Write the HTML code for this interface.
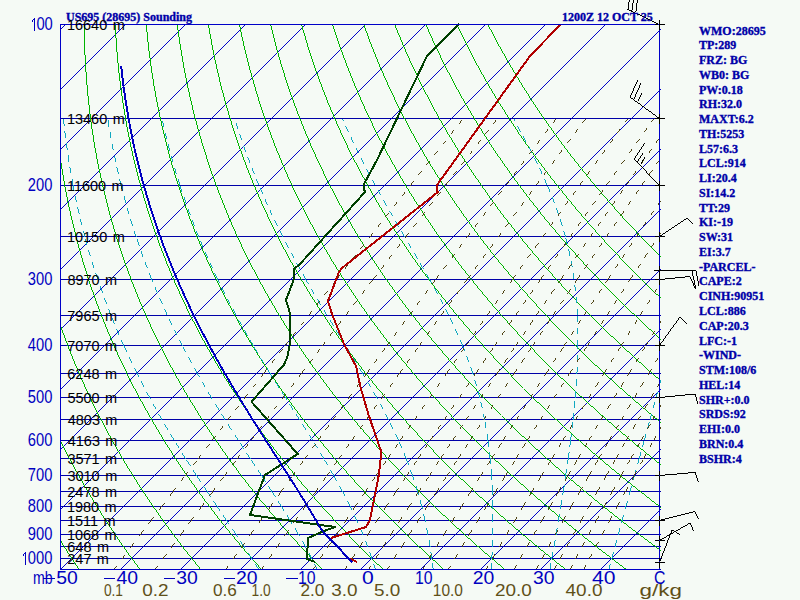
<!DOCTYPE html>
<html><head><meta charset="utf-8"><style>
html,body{margin:0;padding:0;background:#F5FAF5;}
svg{display:block}
.hl{font-family:"Liberation Sans",sans-serif;font-size:14.5px;fill:#000}
.pl{font-family:"Liberation Sans",sans-serif;font-size:18.4px;fill:#0000C0}
.bl{font-family:"Liberation Sans",sans-serif;fill:#0000C0}
.ml{font-family:"Liberation Sans",sans-serif;fill:#605018}
.rt{font-family:"Liberation Serif",serif;font-weight:bold;font-size:12px;fill:#0000A8;stroke:#0000A8;stroke-width:0.35px}
</style></head><body>
<svg width="800" height="600" viewBox="0 0 800 600" shape-rendering="crispEdges">
<rect width="800" height="600" fill="#F5FAF5"/>
<defs><clipPath id="bx"><rect x="60" y="24" width="601" height="546"/></clipPath></defs><g clip-path="url(#bx)"><path d="M-600 569.5L-599 569.5L-54 24.5L-55 24.5ZM-540 569.5L-539 569.5L6 24.5L5 24.5ZM-480 569.5L-479 569.5L66 24.5L65 24.5ZM-420 569.5L-419 569.5L126 24.5L125 24.5ZM-360 569.5L-359 569.5L186 24.5L185 24.5ZM-300 569.5L-299 569.5L246 24.5L245 24.5ZM-240 569.5L-239 569.5L306 24.5L305 24.5ZM-180 569.5L-179 569.5L366 24.5L365 24.5ZM-120 569.5L-119 569.5L426 24.5L425 24.5ZM-60 569.5L-59 569.5L486 24.5L485 24.5ZM0 569.5L1 569.5L546 24.5L545 24.5ZM60 569.5L61 569.5L606 24.5L605 24.5ZM120 569.5L121 569.5L666 24.5L665 24.5ZM180 569.5L181 569.5L726 24.5L725 24.5ZM240 569.5L241 569.5L786 24.5L785 24.5ZM300 569.5L301 569.5L846 24.5L845 24.5ZM360 569.5L361 569.5L906 24.5L905 24.5ZM420 569.5L421 569.5L966 24.5L965 24.5ZM480 569.5L481 569.5L1026 24.5L1025 24.5ZM540.5 569L540.5 570L1085.5 25L1085.5 24ZM600.5 569L600.5 570L1145.5 25L1145.5 24ZM660.5 569L660.5 570L1205.5 25L1205.5 24Z" fill="#0000C8"/></g><path d="M60 24.5H661M60 118.5H661M60 185.5H661M60 236.5H661M60 279.5H661M60 315.5H661M60 345.5H661M60 373.5H661M60 397.5H661M60 419.5H661M60 440.5H661M60 458.5H661M60 475.5H661M60 491.5H661M60 506.5H661M60 520.5H661M60 534.5H661M60 546.5H661M60 558.5H661M60 569.5H661" stroke="#0000A8" stroke-width="1" fill="none" shape-rendering="crispEdges"/><g clip-path="url(#bx)"><path d="M78.8 569.8L79.8 569.8L78.3 567.6L77.3 567.6ZM77.3 567.6L78.3 567.6L76.8 565.3L75.8 565.3ZM75.8 565.3L76.8 565.3L75.3 563.1L74.3 563.1ZM74.3 563.1L75.3 563.1L73.8 560.8L72.8 560.8ZM72.8 560.8L73.8 560.8L72.3 558.5L71.3 558.5ZM71.3 558.5L72.3 558.5L70.8 556.1L69.8 556.1ZM69.8 556.1L70.8 556.1L69.3 553.8L68.3 553.8ZM68.3 553.8L69.3 553.8L67.8 551.4L66.8 551.4ZM66.8 551.4L67.8 551.4L66.3 549L65.3 549ZM65.3 549L66.3 549L64.7 546.6L63.7 546.6ZM63.7 546.6L64.7 546.6L63.2 544.1L62.2 544.1ZM62.2 544.1L63.2 544.1L61.7 541.6L60.7 541.6ZM60.7 541.6L61.7 541.6L60.1 539.1L59.1 539.1ZM59.1 539.1L60.1 539.1L58.6 536.6L57.6 536.6ZM57.6 536.6L58.6 536.6L57 534L56 534ZM56 534L57 534L55.5 531.4L54.5 531.4ZM54.5 531.4L55.5 531.4L53.9 528.8L52.9 528.8ZM52.9 528.8L53.9 528.8L52.3 526.2L51.3 526.2ZM51.3 526.2L52.3 526.2L50.8 523.5L49.8 523.5ZM49.8 523.5L50.8 523.5L49.2 520.8L48.2 520.8ZM48.2 520.8L49.2 520.8L47.6 518L46.6 518ZM46.6 518L47.6 518L46.1 515.3L45.1 515.3ZM45.1 515.3L46.1 515.3L44.5 512.4L43.5 512.4ZM43.5 512.4L44.5 512.4L42.9 509.6L41.9 509.6ZM41.9 509.6L42.9 509.6L41.3 506.7L40.3 506.7ZM40.3 506.7L41.3 506.7L39.7 503.8L38.7 503.8ZM38.7 503.8L39.7 503.8L38.1 500.9L37.1 500.9ZM37.1 500.9L38.1 500.9L36.5 497.9L35.5 497.9ZM35.5 497.9L36.5 497.9L34.9 494.8L33.9 494.8ZM33.9 494.8L34.9 494.8L33.3 491.8L32.3 491.8ZM32.3 491.8L33.3 491.8L31.7 488.6L30.7 488.6ZM30.7 488.6L31.7 488.6L30.1 485.5L29.1 485.5ZM29.1 485.5L30.1 485.5L28.4 482.3L27.4 482.3ZM27.4 482.3L28.4 482.3L26.8 479L25.8 479ZM25.8 479L26.8 479L25.2 475.8L24.2 475.8ZM24.2 475.8L25.2 475.8L23.6 472.4L22.6 472.4ZM22.6 472.4L23.6 472.4L21.9 469L20.9 469ZM20.9 469L21.9 469L20.3 465.6L19.3 465.6ZM19.3 465.6L20.3 465.6L18.7 462.1L17.7 462.1ZM17.7 462.1L18.7 462.1L17 458.6L16 458.6ZM16 458.6L17 458.6L15.4 455L14.4 455ZM14.4 455L15.4 455L13.7 451.3L12.7 451.3ZM12.7 451.3L13.7 451.3L12.1 447.6L11.1 447.6ZM11.1 447.6L12.1 447.6L10.4 443.8L9.4 443.8ZM9.4 443.8L10.4 443.8L8.8 440L7.8 440ZM7.8 440L8.8 440L7.2 436.1L6.2 436.1ZM6.2 436.1L7.2 436.1L5.5 432.1L4.5 432.1ZM4.5 432.1L5.5 432.1L3.8 428.1L2.8 428.1ZM2.8 428.1L3.8 428.1L2.2 424L1.2 424ZM1.2 424L2.2 424L0.5 419.8L-0.5 419.8ZM-0.5 419.8L0.5 419.8L-1.1 415.6L-2.1 415.6ZM-2.1 415.6L-1.1 415.6L-2.8 411.2L-3.8 411.2ZM-3.8 411.2L-2.8 411.2L-4.4 406.8L-5.4 406.8ZM-5.4 406.8L-4.4 406.8L-6.1 402.3L-7.1 402.3ZM-7.1 402.3L-6.1 402.3L-7.7 397.7L-8.7 397.7ZM-8.7 397.7L-7.7 397.7L-9.3 393L-10.3 393ZM-10.3 393L-9.3 393L-11 388.3L-12 388.3ZM-12 388.3L-11 388.3L-12.6 383.4L-13.6 383.4ZM-13.6 383.4L-12.6 383.4L-14.2 378.4L-15.2 378.4ZM-15.2 378.4L-14.2 378.4L-15.9 373.3L-16.9 373.3ZM-16.9 373.3L-15.9 373.3L-17.5 368.1L-18.5 368.1ZM-18.5 368.1L-17.5 368.1L-19.1 362.8L-20.1 362.8ZM-20.1 362.8L-19.1 362.8L-20.7 357.3L-21.7 357.3ZM-21.7 357.3L-20.7 357.3L-22.3 351.7L-23.3 351.7ZM-23.3 351.7L-22.3 351.7L-23.8 346L-24.8 346ZM-24.8 346L-23.8 346L-25.4 340.1L-26.4 340.1ZM-26.4 340.1L-25.4 340.1L-27 334.1L-28 334.1ZM-28 334.1L-27 334.1L-28.5 327.9L-29.5 327.9ZM-29.5 327.9L-28.5 327.9L-30 321.5L-31 321.5ZM-31 321.5L-30 321.5L-31.5 315L-32.5 315ZM-32.5 315L-31.5 315L-32.9 308.3L-33.9 308.3ZM-33.9 308.3L-32.9 308.3L-34.4 301.4L-35.4 301.4ZM-35.4 301.4L-34.4 301.4L-35.8 294.2L-36.8 294.2ZM-36.8 294.2L-35.8 294.2L-37.2 286.9L-38.2 286.9ZM-38.2 286.9L-37.2 286.9L-38.5 279.3L-39.5 279.3ZM-39.5 279.3L-38.5 279.3L-39.8 271.4L-40.8 271.4ZM-40.8 271.4L-39.8 271.4L-41 263.3L-42 263.3ZM-42 263.3L-41 263.3L-42.2 254.8L-43.2 254.8ZM-43.2 254.8L-42.2 254.8L-43.4 246.1L-44.4 246.1ZM-44.4 246.1L-43.4 246.1L-44.4 237L-45.4 237ZM-45.4 237L-44.4 237L-45.4 227.5L-46.4 227.5ZM-46.4 227.5L-45.4 227.5L-46.3 217.7L-47.3 217.7ZM-47.3 217.7L-46.3 217.7L-47.1 207.3L-48.1 207.3ZM-48.1 207.3L-47.1 207.3L-47.8 196.6L-48.8 196.6ZM-48.8 196.6L-47.8 196.6L-48.4 185.2L-49.4 185.2ZM-49.4 185.2L-48.4 185.2L-48.8 173.3L-49.8 173.3ZM-49.8 173.3L-48.8 173.3L-49 160.8L-50 160.8ZM-50 160.8L-49 160.8L-49.1 147.6L-50.1 147.6ZM-50.1 147.6L-49.1 147.6L-48.9 133.5L-49.9 133.5ZM-49.9 133.5L-48.9 133.5L-48.4 118.5L-49.4 118.5ZM-49.4 118.5L-48.4 118.5L-47.6 102.5L-48.6 102.5ZM-48.6 102.5L-47.6 102.5L-46.4 85.3L-47.4 85.3ZM-47.4 85.3L-46.4 85.3L-44.8 66.8L-45.8 66.8ZM-45.8 66.8L-44.8 66.8L-42.5 46.6L-43.5 46.6ZM-43.5 46.6L-42.5 46.6L-39.6 24.5L-40.6 24.5ZM139.7 569.8L140.7 569.8L139 567.6L138 567.6ZM138 567.6L139 567.6L137.4 565.3L136.4 565.3ZM136.4 565.3L137.4 565.3L135.7 563.1L134.7 563.1ZM134.7 563.1L135.7 563.1L134 560.8L133 560.8ZM133 560.8L134 560.8L132.3 558.5L131.3 558.5ZM131.3 558.5L132.3 558.5L130.6 556.1L129.6 556.1ZM129.6 556.1L130.6 556.1L129 553.8L128 553.8ZM128 553.8L129 553.8L127.3 551.4L126.3 551.4ZM126.3 551.4L127.3 551.4L125.6 549L124.6 549ZM124.6 549L125.6 549L123.9 546.6L122.9 546.6ZM122.9 546.6L123.9 546.6L122.1 544.1L121.1 544.1ZM121.1 544.1L122.1 544.1L120.4 541.6L119.4 541.6ZM119.4 541.6L120.4 541.6L118.7 539.1L117.7 539.1ZM117.7 539.1L118.7 539.1L117 536.6L116 536.6ZM116 536.6L117 536.6L115.2 534L114.2 534ZM114.2 534L115.2 534L113.5 531.4L112.5 531.4ZM112.5 531.4L113.5 531.4L111.8 528.8L110.8 528.8ZM110.8 528.8L111.8 528.8L110 526.2L109 526.2ZM109 526.2L110 526.2L108.2 523.5L107.2 523.5ZM107.2 523.5L108.2 523.5L106.5 520.8L105.5 520.8ZM105.5 520.8L106.5 520.8L104.7 518L103.7 518ZM103.7 518L104.7 518L102.9 515.3L101.9 515.3ZM101.9 515.3L102.9 515.3L101.2 512.4L100.2 512.4ZM100.2 512.4L101.2 512.4L99.4 509.6L98.4 509.6ZM98.4 509.6L99.4 509.6L97.6 506.7L96.6 506.7ZM96.6 506.7L97.6 506.7L95.8 503.8L94.8 503.8ZM94.8 503.8L95.8 503.8L94 500.9L93 500.9ZM93 500.9L94 500.9L92.2 497.9L91.2 497.9ZM91.2 497.9L92.2 497.9L90.4 494.8L89.4 494.8ZM89.4 494.8L90.4 494.8L88.6 491.8L87.6 491.8ZM87.6 491.8L88.6 491.8L86.7 488.6L85.7 488.6ZM85.7 488.6L86.7 488.6L84.9 485.5L83.9 485.5ZM83.9 485.5L84.9 485.5L83.1 482.3L82.1 482.3ZM82.1 482.3L83.1 482.3L81.2 479L80.2 479ZM80.2 479L81.2 479L79.4 475.8L78.4 475.8ZM78.4 475.8L79.4 475.8L77.5 472.4L76.5 472.4ZM76.5 472.4L77.5 472.4L75.7 469L74.7 469ZM74.7 469L75.7 469L73.8 465.6L72.8 465.6ZM72.8 465.6L73.8 465.6L71.9 462.1L70.9 462.1ZM70.9 462.1L71.9 462.1L70.1 458.6L69.1 458.6ZM69.1 458.6L70.1 458.6L68.2 455L67.2 455ZM67.2 455L68.2 455L66.3 451.3L65.3 451.3ZM65.3 451.3L66.3 451.3L64.4 447.6L63.4 447.6ZM63.4 447.6L64.4 447.6L62.5 443.8L61.5 443.8ZM61.5 443.8L62.5 443.8L60.6 440L59.6 440ZM59.6 440L60.6 440L58.7 436.1L57.7 436.1ZM57.7 436.1L58.7 436.1L56.8 432.1L55.8 432.1ZM55.8 432.1L56.8 432.1L54.9 428.1L53.9 428.1ZM53.9 428.1L54.9 428.1L53 424L52 424ZM52 424L53 424L51.1 419.8L50.1 419.8ZM50.1 419.8L51.1 419.8L49.2 415.6L48.2 415.6ZM48.2 415.6L49.2 415.6L47.3 411.2L46.3 411.2ZM46.3 411.2L47.3 411.2L45.4 406.8L44.4 406.8ZM44.4 406.8L45.4 406.8L43.4 402.3L42.4 402.3ZM42.4 402.3L43.4 402.3L41.5 397.7L40.5 397.7ZM40.5 397.7L41.5 397.7L39.6 393L38.6 393ZM38.6 393L39.6 393L37.7 388.3L36.7 388.3ZM36.7 388.3L37.7 388.3L35.7 383.4L34.7 383.4ZM34.7 383.4L35.7 383.4L33.8 378.4L32.8 378.4ZM32.8 378.4L33.8 378.4L31.9 373.3L30.9 373.3ZM30.9 373.3L31.9 373.3L30 368.1L29 368.1ZM29 368.1L30 368.1L28 362.8L27 362.8ZM27 362.8L28 362.8L26.1 357.3L25.1 357.3ZM25.1 357.3L26.1 357.3L24.2 351.7L23.2 351.7ZM23.2 351.7L24.2 351.7L22.3 346L21.3 346ZM21.3 346L22.3 346L20.4 340.1L19.4 340.1ZM19.4 340.1L20.4 340.1L18.5 334.1L17.5 334.1ZM17.5 334.1L18.5 334.1L16.7 327.9L15.7 327.9ZM15.7 327.9L16.7 327.9L14.8 321.5L13.8 321.5ZM13.8 321.5L14.8 321.5L13 315L12 315ZM12 315L13 315L11.1 308.3L10.1 308.3ZM10.1 308.3L11.1 308.3L9.3 301.4L8.3 301.4ZM8.3 301.4L9.3 301.4L7.5 294.2L6.5 294.2ZM6.5 294.2L7.5 294.2L5.8 286.9L4.8 286.9ZM4.8 286.9L5.8 286.9L4 279.3L3 279.3ZM3 279.3L4 279.3L2.3 271.4L1.3 271.4ZM1.3 271.4L2.3 271.4L0.6 263.3L-0.4 263.3ZM-0.4 263.3L0.6 263.3L-1 254.8L-2 254.8ZM-2 254.8L-1 254.8L-2.6 246.1L-3.6 246.1ZM-3.6 246.1L-2.6 246.1L-4.1 237L-5.1 237ZM-5.1 237L-4.1 237L-5.5 227.5L-6.5 227.5ZM-6.5 227.5L-5.5 227.5L-6.9 217.7L-7.9 217.7ZM-7.9 217.7L-6.9 217.7L-8.2 207.3L-9.2 207.3ZM-9.2 207.3L-8.2 207.3L-9.4 196.6L-10.4 196.6ZM-10.4 196.6L-9.4 196.6L-10.5 185.2L-11.5 185.2ZM-11.5 185.2L-10.5 185.2L-11.5 173.3L-12.5 173.3ZM-12.5 173.3L-11.5 173.3L-12.3 160.8L-13.3 160.8ZM-13.3 160.8L-12.3 160.8L-12.9 147.6L-13.9 147.6ZM-13.9 147.6L-12.9 147.6L-13.3 133.5L-14.3 133.5ZM-14.3 133.5L-13.3 133.5L-13.5 118.5L-14.5 118.5ZM-14.5 118.5L-13.5 118.5L-13.4 102.5L-14.4 102.5ZM-14.4 102.5L-13.4 102.5L-12.9 85.3L-13.9 85.3ZM-13.9 85.3L-12.9 85.3L-12 66.8L-13 66.8ZM-13 66.8L-12 66.8L-10.6 46.6L-11.6 46.6ZM-11.6 46.6L-10.6 46.6L-8.5 24.5L-9.5 24.5ZM200.5 569.8L201.5 569.8L199.7 567.6L198.7 567.6ZM198.7 567.6L199.7 567.6L197.9 565.3L196.9 565.3ZM196.9 565.3L197.9 565.3L196 563.1L195 563.1ZM195 563.1L196 563.1L194.2 560.8L193.2 560.8ZM193.2 560.8L194.2 560.8L192.3 558.5L191.3 558.5ZM191.3 558.5L192.3 558.5L190.5 556.1L189.5 556.1ZM189.5 556.1L190.5 556.1L188.6 553.8L187.6 553.8ZM187.6 553.8L188.6 553.8L186.7 551.4L185.7 551.4ZM185.7 551.4L186.7 551.4L184.9 549L183.9 549ZM183.9 549L184.9 549L183 546.6L182 546.6ZM182 546.6L183 546.6L181.1 544.1L180.1 544.1ZM180.1 544.1L181.1 544.1L179.2 541.6L178.2 541.6ZM178.2 541.6L179.2 541.6L177.3 539.1L176.3 539.1ZM176.3 539.1L177.3 539.1L175.4 536.6L174.4 536.6ZM174.4 536.6L175.4 536.6L173.5 534L172.5 534ZM172.5 534L173.5 534L171.5 531.4L170.5 531.4ZM170.5 531.4L171.5 531.4L169.6 528.8L168.6 528.8ZM168.6 528.8L169.6 528.8L167.7 526.2L166.7 526.2ZM166.7 526.2L167.7 526.2L165.7 523.5L164.7 523.5ZM164.7 523.5L165.7 523.5L163.8 520.8L162.8 520.8ZM162.8 520.8L163.8 520.8L161.8 518L160.8 518ZM160.8 518L161.8 518L159.8 515.3L158.8 515.3ZM158.8 515.3L159.8 515.3L157.9 512.4L156.9 512.4ZM156.9 512.4L157.9 512.4L155.9 509.6L154.9 509.6ZM154.9 509.6L155.9 509.6L153.9 506.7L152.9 506.7ZM152.9 506.7L153.9 506.7L151.9 503.8L150.9 503.8ZM150.9 503.8L151.9 503.8L149.9 500.9L148.9 500.9ZM148.9 500.9L149.9 500.9L147.9 497.9L146.9 497.9ZM146.9 497.9L147.9 497.9L145.8 494.8L144.8 494.8ZM144.8 494.8L145.8 494.8L143.8 491.8L142.8 491.8ZM142.8 491.8L143.8 491.8L141.8 488.6L140.8 488.6ZM140.8 488.6L141.8 488.6L139.7 485.5L138.7 485.5ZM138.7 485.5L139.7 485.5L137.7 482.3L136.7 482.3ZM136.7 482.3L137.7 482.3L135.6 479L134.6 479ZM134.6 479L135.6 479L133.6 475.8L132.6 475.8ZM132.6 475.8L133.6 475.8L131.5 472.4L130.5 472.4ZM130.5 472.4L131.5 472.4L129.4 469L128.4 469ZM128.4 469L129.4 469L127.3 465.6L126.3 465.6ZM126.3 465.6L127.3 465.6L125.2 462.1L124.2 462.1ZM124.2 462.1L125.2 462.1L123.1 458.6L122.1 458.6ZM122.1 458.6L123.1 458.6L121 455L120 455ZM120 455L121 455L118.9 451.3L117.9 451.3ZM117.9 451.3L118.9 451.3L116.8 447.6L115.8 447.6ZM115.8 447.6L116.8 447.6L114.6 443.8L113.6 443.8ZM113.6 443.8L114.6 443.8L112.5 440L111.5 440ZM111.5 440L112.5 440L110.3 436.1L109.3 436.1ZM109.3 436.1L110.3 436.1L108.2 432.1L107.2 432.1ZM107.2 432.1L108.2 432.1L106 428.1L105 428.1ZM105 428.1L106 428.1L103.9 424L102.9 424ZM102.9 424L103.9 424L101.7 419.8L100.7 419.8ZM100.7 419.8L101.7 419.8L99.5 415.6L98.5 415.6ZM98.5 415.6L99.5 415.6L97.3 411.2L96.3 411.2ZM96.3 411.2L97.3 411.2L95.1 406.8L94.1 406.8ZM94.1 406.8L95.1 406.8L92.9 402.3L91.9 402.3ZM91.9 402.3L92.9 402.3L90.7 397.7L89.7 397.7ZM89.7 397.7L90.7 397.7L88.5 393L87.5 393ZM87.5 393L88.5 393L86.3 388.3L85.3 388.3ZM85.3 388.3L86.3 388.3L84.1 383.4L83.1 383.4ZM83.1 383.4L84.1 383.4L81.9 378.4L80.9 378.4ZM80.9 378.4L81.9 378.4L79.6 373.3L78.6 373.3ZM78.6 373.3L79.6 373.3L77.4 368.1L76.4 368.1ZM76.4 368.1L77.4 368.1L75.2 362.8L74.2 362.8ZM74.2 362.8L75.2 362.8L73 357.3L72 357.3ZM72 357.3L73 357.3L70.7 351.7L69.7 351.7ZM69.7 351.7L70.7 351.7L68.5 346L67.5 346ZM67.5 346L68.5 346L66.3 340.1L65.3 340.1ZM65.3 340.1L66.3 340.1L64 334.1L63 334.1ZM63 334.1L64 334.1L61.8 327.9L60.8 327.9ZM60.8 327.9L61.8 327.9L59.6 321.5L58.6 321.5ZM58.6 321.5L59.6 321.5L57.4 315L56.4 315ZM56.4 315L57.4 315L55.2 308.3L54.2 308.3ZM54.2 308.3L55.2 308.3L53 301.4L52 301.4ZM52 301.4L53 301.4L50.8 294.2L49.8 294.2ZM49.8 294.2L50.8 294.2L48.7 286.9L47.7 286.9ZM47.7 286.9L48.7 286.9L46.5 279.3L45.5 279.3ZM45.5 279.3L46.5 279.3L44.4 271.4L43.4 271.4ZM43.4 271.4L44.4 271.4L42.3 263.3L41.3 263.3ZM41.3 263.3L42.3 263.3L40.3 254.8L39.3 254.8ZM39.3 254.8L40.3 254.8L38.3 246.1L37.3 246.1ZM37.3 246.1L38.3 246.1L36.3 237L35.3 237ZM35.3 237L36.3 237L34.4 227.5L33.4 227.5ZM33.4 227.5L34.4 227.5L32.5 217.7L31.5 217.7ZM31.5 217.7L32.5 217.7L30.7 207.3L29.7 207.3ZM29.7 207.3L30.7 207.3L29 196.6L28 196.6ZM28 196.6L29 196.6L27.4 185.2L26.4 185.2ZM26.4 185.2L27.4 185.2L25.9 173.3L24.9 173.3ZM24.9 173.3L25.9 173.3L24.5 160.8L23.5 160.8ZM23.5 160.8L24.5 160.8L23.2 147.6L22.2 147.6ZM22.2 147.6L23.2 147.6L22.2 133.5L21.2 133.5ZM21.2 133.5L22.2 133.5L21.4 118.5L20.4 118.5ZM20.4 118.5L21.4 118.5L20.8 102.5L19.8 102.5ZM19.8 102.5L20.8 102.5L20.5 85.3L19.5 85.3ZM19.5 85.3L20.5 85.3L20.7 66.8L19.7 66.8ZM19.7 66.8L20.7 66.8L21.3 46.6L20.3 46.6ZM20.3 46.6L21.3 46.6L22.5 24.5L21.5 24.5ZM261.4 569.8L262.4 569.8L260.4 567.6L259.4 567.6ZM259.4 567.6L260.4 567.6L258.4 565.3L257.4 565.3ZM257.4 565.3L258.4 565.3L256.4 563.1L255.4 563.1ZM255.4 563.1L256.4 563.1L254.4 560.8L253.4 560.8ZM253.4 560.8L254.4 560.8L252.3 558.5L251.3 558.5ZM251.3 558.5L252.3 558.5L250.3 556.1L249.3 556.1ZM249.3 556.1L250.3 556.1L248.3 553.8L247.3 553.8ZM247.3 553.8L248.3 553.8L246.2 551.4L245.2 551.4ZM245.2 551.4L246.2 551.4L244.2 549L243.2 549ZM243.2 549L244.2 549L242.1 546.6L241.1 546.6ZM241.1 546.6L242.1 546.6L240 544.1L239 544.1ZM239 544.1L240 544.1L238 541.6L237 541.6ZM237 541.6L238 541.6L235.9 539.1L234.9 539.1ZM234.9 539.1L235.9 539.1L233.8 536.6L232.8 536.6ZM232.8 536.6L233.8 536.6L231.7 534L230.7 534ZM230.7 534L231.7 534L229.6 531.4L228.6 531.4ZM228.6 531.4L229.6 531.4L227.4 528.8L226.4 528.8ZM226.4 528.8L227.4 528.8L225.3 526.2L224.3 526.2ZM224.3 526.2L225.3 526.2L223.2 523.5L222.2 523.5ZM222.2 523.5L223.2 523.5L221 520.8L220 520.8ZM220 520.8L221 520.8L218.9 518L217.9 518ZM217.9 518L218.9 518L216.7 515.3L215.7 515.3ZM215.7 515.3L216.7 515.3L214.5 512.4L213.5 512.4ZM213.5 512.4L214.5 512.4L212.4 509.6L211.4 509.6ZM211.4 509.6L212.4 509.6L210.2 506.7L209.2 506.7ZM209.2 506.7L210.2 506.7L208 503.8L207 503.8ZM207 503.8L208 503.8L205.8 500.9L204.8 500.9ZM204.8 500.9L205.8 500.9L203.5 497.9L202.5 497.9ZM202.5 497.9L203.5 497.9L201.3 494.8L200.3 494.8ZM200.3 494.8L201.3 494.8L199.1 491.8L198.1 491.8ZM198.1 491.8L199.1 491.8L196.8 488.6L195.8 488.6ZM195.8 488.6L196.8 488.6L194.6 485.5L193.6 485.5ZM193.6 485.5L194.6 485.5L192.3 482.3L191.3 482.3ZM191.3 482.3L192.3 482.3L190 479L189 479ZM189 479L190 479L187.7 475.8L186.7 475.8ZM186.7 475.8L187.7 475.8L185.4 472.4L184.4 472.4ZM184.4 472.4L185.4 472.4L183.1 469L182.1 469ZM182.1 469L183.1 469L180.8 465.6L179.8 465.6ZM179.8 465.6L180.8 465.6L178.5 462.1L177.5 462.1ZM177.5 462.1L178.5 462.1L176.2 458.6L175.2 458.6ZM175.2 458.6L176.2 458.6L173.8 455L172.8 455ZM172.8 455L173.8 455L171.5 451.3L170.5 451.3ZM170.5 451.3L171.5 451.3L169.1 447.6L168.1 447.6ZM168.1 447.6L169.1 447.6L166.7 443.8L165.7 443.8ZM165.7 443.8L166.7 443.8L164.3 440L163.3 440ZM163.3 440L164.3 440L161.9 436.1L160.9 436.1ZM160.9 436.1L161.9 436.1L159.5 432.1L158.5 432.1ZM158.5 432.1L159.5 432.1L157.1 428.1L156.1 428.1ZM156.1 428.1L157.1 428.1L154.7 424L153.7 424ZM153.7 424L154.7 424L152.3 419.8L151.3 419.8ZM151.3 419.8L152.3 419.8L149.8 415.6L148.8 415.6ZM148.8 415.6L149.8 415.6L147.4 411.2L146.4 411.2ZM146.4 411.2L147.4 411.2L144.9 406.8L143.9 406.8ZM143.9 406.8L144.9 406.8L142.4 402.3L141.4 402.3ZM141.4 402.3L142.4 402.3L139.9 397.7L138.9 397.7ZM138.9 397.7L139.9 397.7L137.4 393L136.4 393ZM136.4 393L137.4 393L134.9 388.3L133.9 388.3ZM133.9 388.3L134.9 388.3L132.4 383.4L131.4 383.4ZM131.4 383.4L132.4 383.4L129.9 378.4L128.9 378.4ZM128.9 378.4L129.9 378.4L127.4 373.3L126.4 373.3ZM126.4 373.3L127.4 373.3L124.9 368.1L123.9 368.1ZM123.9 368.1L124.9 368.1L122.3 362.8L121.3 362.8ZM121.3 362.8L122.3 362.8L119.8 357.3L118.8 357.3ZM118.8 357.3L119.8 357.3L117.2 351.7L116.2 351.7ZM116.2 351.7L117.2 351.7L114.7 346L113.7 346ZM113.7 346L114.7 346L112.1 340.1L111.1 340.1ZM111.1 340.1L112.1 340.1L109.5 334.1L108.5 334.1ZM108.5 334.1L109.5 334.1L107 327.9L106 327.9ZM106 327.9L107 327.9L104.4 321.5L103.4 321.5ZM103.4 321.5L104.4 321.5L101.8 315L100.8 315ZM100.8 315L101.8 315L99.3 308.3L98.3 308.3ZM98.3 308.3L99.3 308.3L96.7 301.4L95.7 301.4ZM95.7 301.4L96.7 301.4L94.1 294.2L93.1 294.2ZM93.1 294.2L94.1 294.2L91.6 286.9L90.6 286.9ZM90.6 286.9L91.6 286.9L89.1 279.3L88.1 279.3ZM88.1 279.3L89.1 279.3L86.5 271.4L85.5 271.4ZM85.5 271.4L86.5 271.4L84 263.3L83 263.3ZM83 263.3L84 263.3L81.5 254.8L80.5 254.8ZM80.5 254.8L81.5 254.8L79.1 246.1L78.1 246.1ZM78.1 246.1L79.1 246.1L76.7 237L75.7 237ZM75.7 237L76.7 237L74.3 227.5L73.3 227.5ZM73.3 227.5L74.3 227.5L71.9 217.7L70.9 217.7ZM70.9 217.7L71.9 217.7L69.6 207.3L68.6 207.3ZM68.6 207.3L69.6 207.3L67.4 196.6L66.4 196.6ZM66.4 196.6L67.4 196.6L65.2 185.2L64.2 185.2ZM64.2 185.2L65.2 185.2L63.2 173.3L62.2 173.3ZM62.2 173.3L63.2 173.3L61.2 160.8L60.2 160.8ZM60.2 160.8L61.2 160.8L59.4 147.6L58.4 147.6ZM58.4 147.6L59.4 147.6L57.7 133.5L56.7 133.5ZM56.7 133.5L57.7 133.5L56.2 118.5L55.2 118.5ZM55.2 118.5L56.2 118.5L55 102.5L54 102.5ZM54 102.5L55 102.5L54 85.3L53 85.3ZM53 85.3L54 85.3L53.4 66.8L52.4 66.8ZM52.4 66.8L53.4 66.8L53.2 46.6L52.2 46.6ZM52.2 46.6L53.2 46.6L53.6 24.5L52.6 24.5ZM322.2 569.8L323.2 569.8L321 567.6L320 567.6ZM320 567.6L321 567.6L318.9 565.3L317.9 565.3ZM317.9 565.3L318.9 565.3L316.7 563.1L315.7 563.1ZM315.7 563.1L316.7 563.1L314.5 560.8L313.5 560.8ZM313.5 560.8L314.5 560.8L312.3 558.5L311.3 558.5ZM311.3 558.5L312.3 558.5L310.1 556.1L309.1 556.1ZM309.1 556.1L310.1 556.1L307.9 553.8L306.9 553.8ZM306.9 553.8L307.9 553.8L305.7 551.4L304.7 551.4ZM304.7 551.4L305.7 551.4L303.5 549L302.5 549ZM302.5 549L303.5 549L301.2 546.6L300.2 546.6ZM300.2 546.6L301.2 546.6L299 544.1L298 544.1ZM298 544.1L299 544.1L296.7 541.6L295.7 541.6ZM295.7 541.6L296.7 541.6L294.5 539.1L293.5 539.1ZM293.5 539.1L294.5 539.1L292.2 536.6L291.2 536.6ZM291.2 536.6L292.2 536.6L289.9 534L288.9 534ZM288.9 534L289.9 534L287.6 531.4L286.6 531.4ZM286.6 531.4L287.6 531.4L285.3 528.8L284.3 528.8ZM284.3 528.8L285.3 528.8L283 526.2L282 526.2ZM282 526.2L283 526.2L280.6 523.5L279.6 523.5ZM279.6 523.5L280.6 523.5L278.3 520.8L277.3 520.8ZM277.3 520.8L278.3 520.8L276 518L275 518ZM275 518L276 518L273.6 515.3L272.6 515.3ZM272.6 515.3L273.6 515.3L271.2 512.4L270.2 512.4ZM270.2 512.4L271.2 512.4L268.9 509.6L267.9 509.6ZM267.9 509.6L268.9 509.6L266.5 506.7L265.5 506.7ZM265.5 506.7L266.5 506.7L264.1 503.8L263.1 503.8ZM263.1 503.8L264.1 503.8L261.6 500.9L260.6 500.9ZM260.6 500.9L261.6 500.9L259.2 497.9L258.2 497.9ZM258.2 497.9L259.2 497.9L256.8 494.8L255.8 494.8ZM255.8 494.8L256.8 494.8L254.3 491.8L253.3 491.8ZM253.3 491.8L254.3 491.8L251.9 488.6L250.9 488.6ZM250.9 488.6L251.9 488.6L249.4 485.5L248.4 485.5ZM248.4 485.5L249.4 485.5L246.9 482.3L245.9 482.3ZM245.9 482.3L246.9 482.3L244.4 479L243.4 479ZM243.4 479L244.4 479L241.9 475.8L240.9 475.8ZM240.9 475.8L241.9 475.8L239.4 472.4L238.4 472.4ZM238.4 472.4L239.4 472.4L236.9 469L235.9 469ZM235.9 469L236.9 469L234.3 465.6L233.3 465.6ZM233.3 465.6L234.3 465.6L231.8 462.1L230.8 462.1ZM230.8 462.1L231.8 462.1L229.2 458.6L228.2 458.6ZM228.2 458.6L229.2 458.6L226.6 455L225.6 455ZM225.6 455L226.6 455L224 451.3L223 451.3ZM223 451.3L224 451.3L221.4 447.6L220.4 447.6ZM220.4 447.6L221.4 447.6L218.8 443.8L217.8 443.8ZM217.8 443.8L218.8 443.8L216.2 440L215.2 440ZM215.2 440L216.2 440L213.5 436.1L212.5 436.1ZM212.5 436.1L213.5 436.1L210.9 432.1L209.9 432.1ZM209.9 432.1L210.9 432.1L208.2 428.1L207.2 428.1ZM207.2 428.1L208.2 428.1L205.5 424L204.5 424ZM204.5 424L205.5 424L202.8 419.8L201.8 419.8ZM201.8 419.8L202.8 419.8L200.1 415.6L199.1 415.6ZM199.1 415.6L200.1 415.6L197.4 411.2L196.4 411.2ZM196.4 411.2L197.4 411.2L194.7 406.8L193.7 406.8ZM193.7 406.8L194.7 406.8L191.9 402.3L190.9 402.3ZM190.9 402.3L191.9 402.3L189.1 397.7L188.1 397.7ZM188.1 397.7L189.1 397.7L186.4 393L185.4 393ZM185.4 393L186.4 393L183.6 388.3L182.6 388.3ZM182.6 388.3L183.6 388.3L180.8 383.4L179.8 383.4ZM179.8 383.4L180.8 383.4L178 378.4L177 378.4ZM177 378.4L178 378.4L175.1 373.3L174.1 373.3ZM174.1 373.3L175.1 373.3L172.3 368.1L171.3 368.1ZM171.3 368.1L172.3 368.1L169.4 362.8L168.4 362.8ZM168.4 362.8L169.4 362.8L166.6 357.3L165.6 357.3ZM165.6 357.3L166.6 357.3L163.7 351.7L162.7 351.7ZM162.7 351.7L163.7 351.7L160.8 346L159.8 346ZM159.8 346L160.8 346L157.9 340.1L156.9 340.1ZM156.9 340.1L157.9 340.1L155 334.1L154 334.1ZM154 334.1L155 334.1L152.1 327.9L151.1 327.9ZM151.1 327.9L152.1 327.9L149.2 321.5L148.2 321.5ZM148.2 321.5L149.2 321.5L146.3 315L145.3 315ZM145.3 315L146.3 315L143.3 308.3L142.3 308.3ZM142.3 308.3L143.3 308.3L140.4 301.4L139.4 301.4ZM139.4 301.4L140.4 301.4L137.5 294.2L136.5 294.2ZM136.5 294.2L137.5 294.2L134.5 286.9L133.5 286.9ZM133.5 286.9L134.5 286.9L131.6 279.3L130.6 279.3ZM130.6 279.3L131.6 279.3L128.6 271.4L127.6 271.4ZM127.6 271.4L128.6 271.4L125.7 263.3L124.7 263.3ZM124.7 263.3L125.7 263.3L122.8 254.8L121.8 254.8ZM121.8 254.8L122.8 254.8L119.9 246.1L118.9 246.1ZM118.9 246.1L119.9 246.1L117 237L116 237ZM116 237L117 237L114.2 227.5L113.2 227.5ZM113.2 227.5L114.2 227.5L111.3 217.7L110.3 217.7ZM110.3 217.7L111.3 217.7L108.5 207.3L107.5 207.3ZM107.5 207.3L108.5 207.3L105.8 196.6L104.8 196.6ZM104.8 196.6L105.8 196.6L103.1 185.2L102.1 185.2ZM102.1 185.2L103.1 185.2L100.5 173.3L99.5 173.3ZM99.5 173.3L100.5 173.3L97.9 160.8L96.9 160.8ZM96.9 160.8L97.9 160.8L95.5 147.6L94.5 147.6ZM94.5 147.6L95.5 147.6L93.2 133.5L92.2 133.5ZM92.2 133.5L93.2 133.5L91.1 118.5L90.1 118.5ZM90.1 118.5L91.1 118.5L89.2 102.5L88.2 102.5ZM88.2 102.5L89.2 102.5L87.5 85.3L86.5 85.3ZM86.5 85.3L87.5 85.3L86.1 66.8L85.1 66.8ZM85.1 66.8L86.1 66.8L85.1 46.6L84.1 46.6ZM84.1 46.6L85.1 46.6L84.6 24.5L83.6 24.5ZM383.5 569.3L383.5 570.3L381.2 568.1L381.2 567.1ZM381.2 567.1L381.2 568.1L378.9 565.8L378.9 564.8ZM378.9 564.8L378.9 565.8L376.5 563.6L376.5 562.6ZM376.5 562.6L376.5 563.6L374.2 561.3L374.2 560.3ZM374.2 560.3L374.2 561.3L371.8 559L371.8 558ZM371.8 558L371.8 559L369.5 556.6L369.5 555.6ZM369.5 555.6L369.5 556.6L367.1 554.3L367.1 553.3ZM367.1 553.3L367.1 554.3L364.7 551.9L364.7 550.9ZM364.7 550.9L364.7 551.9L362.3 549.5L362.3 548.5ZM361.8 549L362.8 549L360.4 546.6L359.4 546.6ZM359.4 546.6L360.4 546.6L357.9 544.1L356.9 544.1ZM356.9 544.1L357.9 544.1L355.5 541.6L354.5 541.6ZM354.5 541.6L355.5 541.6L353 539.1L352 539.1ZM352 539.1L353 539.1L350.6 536.6L349.6 536.6ZM349.6 536.6L350.6 536.6L348.1 534L347.1 534ZM347.1 534L348.1 534L345.6 531.4L344.6 531.4ZM344.6 531.4L345.6 531.4L343.1 528.8L342.1 528.8ZM342.1 528.8L343.1 528.8L340.6 526.2L339.6 526.2ZM339.6 526.2L340.6 526.2L338.1 523.5L337.1 523.5ZM337.1 523.5L338.1 523.5L335.6 520.8L334.6 520.8ZM334.6 520.8L335.6 520.8L333 518L332 518ZM332 518L333 518L330.5 515.3L329.5 515.3ZM329.5 515.3L330.5 515.3L327.9 512.4L326.9 512.4ZM326.9 512.4L327.9 512.4L325.3 509.6L324.3 509.6ZM324.3 509.6L325.3 509.6L322.8 506.7L321.8 506.7ZM321.8 506.7L322.8 506.7L320.1 503.8L319.1 503.8ZM319.1 503.8L320.1 503.8L317.5 500.9L316.5 500.9ZM316.5 500.9L317.5 500.9L314.9 497.9L313.9 497.9ZM313.9 497.9L314.9 497.9L312.3 494.8L311.3 494.8ZM311.3 494.8L312.3 494.8L309.6 491.8L308.6 491.8ZM308.6 491.8L309.6 491.8L306.9 488.6L305.9 488.6ZM305.9 488.6L306.9 488.6L304.2 485.5L303.2 485.5ZM303.2 485.5L304.2 485.5L301.5 482.3L300.5 482.3ZM300.5 482.3L301.5 482.3L298.8 479L297.8 479ZM297.8 479L298.8 479L296.1 475.8L295.1 475.8ZM295.1 475.8L296.1 475.8L293.4 472.4L292.4 472.4ZM292.4 472.4L293.4 472.4L290.6 469L289.6 469ZM289.6 469L290.6 469L287.8 465.6L286.8 465.6ZM286.8 465.6L287.8 465.6L285.1 462.1L284.1 462.1ZM284.1 462.1L285.1 462.1L282.3 458.6L281.3 458.6ZM281.3 458.6L282.3 458.6L279.4 455L278.4 455ZM278.4 455L279.4 455L276.6 451.3L275.6 451.3ZM275.6 451.3L276.6 451.3L273.8 447.6L272.8 447.6ZM272.8 447.6L273.8 447.6L270.9 443.8L269.9 443.8ZM269.9 443.8L270.9 443.8L268 440L267 440ZM267 440L268 440L265.1 436.1L264.1 436.1ZM264.1 436.1L265.1 436.1L262.2 432.1L261.2 432.1ZM261.2 432.1L262.2 432.1L259.3 428.1L258.3 428.1ZM258.3 428.1L259.3 428.1L256.4 424L255.4 424ZM255.4 424L256.4 424L253.4 419.8L252.4 419.8ZM252.4 419.8L253.4 419.8L250.4 415.6L249.4 415.6ZM249.4 415.6L250.4 415.6L247.4 411.2L246.4 411.2ZM246.4 411.2L247.4 411.2L244.4 406.8L243.4 406.8ZM243.4 406.8L244.4 406.8L241.4 402.3L240.4 402.3ZM240.4 402.3L241.4 402.3L238.4 397.7L237.4 397.7ZM237.4 397.7L238.4 397.7L235.3 393L234.3 393ZM234.3 393L235.3 393L232.2 388.3L231.2 388.3ZM231.2 388.3L232.2 388.3L229.1 383.4L228.1 383.4ZM228.1 383.4L229.1 383.4L226 378.4L225 378.4ZM225 378.4L226 378.4L222.9 373.3L221.9 373.3ZM221.9 373.3L222.9 373.3L219.7 368.1L218.7 368.1ZM218.7 368.1L219.7 368.1L216.6 362.8L215.6 362.8ZM215.6 362.8L216.6 362.8L213.4 357.3L212.4 357.3ZM212.4 357.3L213.4 357.3L210.2 351.7L209.2 351.7ZM209.2 351.7L210.2 351.7L207 346L206 346ZM206 346L207 346L203.8 340.1L202.8 340.1ZM202.8 340.1L203.8 340.1L200.5 334.1L199.5 334.1ZM199.5 334.1L200.5 334.1L197.3 327.9L196.3 327.9ZM196.3 327.9L197.3 327.9L194 321.5L193 321.5ZM193 321.5L194 321.5L190.7 315L189.7 315ZM189.7 315L190.7 315L187.4 308.3L186.4 308.3ZM186.4 308.3L187.4 308.3L184.1 301.4L183.1 301.4ZM183.1 301.4L184.1 301.4L180.8 294.2L179.8 294.2ZM179.8 294.2L180.8 294.2L177.4 286.9L176.4 286.9ZM176.4 286.9L177.4 286.9L174.1 279.3L173.1 279.3ZM173.1 279.3L174.1 279.3L170.8 271.4L169.8 271.4ZM169.8 271.4L170.8 271.4L167.4 263.3L166.4 263.3ZM166.4 263.3L167.4 263.3L164.1 254.8L163.1 254.8ZM163.1 254.8L164.1 254.8L160.7 246.1L159.7 246.1ZM159.7 246.1L160.7 246.1L157.4 237L156.4 237ZM156.4 237L157.4 237L154 227.5L153 227.5ZM153 227.5L154 227.5L150.7 217.7L149.7 217.7ZM149.7 217.7L150.7 217.7L147.4 207.3L146.4 207.3ZM146.4 207.3L147.4 207.3L144.2 196.6L143.2 196.6ZM143.2 196.6L144.2 196.6L141 185.2L140 185.2ZM140 185.2L141 185.2L137.8 173.3L136.8 173.3ZM136.8 173.3L137.8 173.3L134.7 160.8L133.7 160.8ZM133.7 160.8L134.7 160.8L131.7 147.6L130.7 147.6ZM130.7 147.6L131.7 147.6L128.8 133.5L127.8 133.5ZM127.8 133.5L128.8 133.5L126 118.5L125 118.5ZM125 118.5L126 118.5L123.4 102.5L122.4 102.5ZM122.4 102.5L123.4 102.5L121 85.3L120 85.3ZM120 85.3L121 85.3L118.8 66.8L117.8 66.8ZM117.8 66.8L118.8 66.8L117 46.6L116 46.6ZM116 46.6L117 46.6L115.7 24.5L114.7 24.5ZM444.4 569.3L444.4 570.3L441.9 568.1L441.9 567.1ZM441.9 567.1L441.9 568.1L439.4 565.8L439.4 564.8ZM439.4 564.8L439.4 565.8L436.9 563.6L436.9 562.6ZM436.9 562.6L436.9 563.6L434.4 561.3L434.4 560.3ZM434.4 560.3L434.4 561.3L431.8 559L431.8 558ZM431.8 558L431.8 559L429.3 556.6L429.3 555.6ZM429.3 555.6L429.3 556.6L426.7 554.3L426.7 553.3ZM426.7 553.3L426.7 554.3L424.2 551.9L424.2 550.9ZM424.2 550.9L424.2 551.9L421.6 549.5L421.6 548.5ZM421.6 548.5L421.6 549.5L419 547.1L419 546.1ZM419 546.1L419 547.1L416.4 544.6L416.4 543.6ZM416.4 543.6L416.4 544.6L413.8 542.1L413.8 541.1ZM413.8 541.1L413.8 542.1L411.1 539.6L411.1 538.6ZM411.1 538.6L411.1 539.6L408.5 537.1L408.5 536.1ZM408.5 536.1L408.5 537.1L405.8 534.5L405.8 533.5ZM405.8 533.5L405.8 534.5L403.2 531.9L403.2 530.9ZM403.2 530.9L403.2 531.9L400.5 529.3L400.5 528.3ZM400.5 528.3L400.5 529.3L397.8 526.7L397.8 525.7ZM397.8 525.7L397.8 526.7L395.1 524L395.1 523ZM395.1 523L395.1 524L392.4 521.3L392.4 520.3ZM391.9 520.8L392.9 520.8L390.1 518L389.1 518ZM389.1 518L390.1 518L387.4 515.3L386.4 515.3ZM386.4 515.3L387.4 515.3L384.6 512.4L383.6 512.4ZM383.6 512.4L384.6 512.4L381.8 509.6L380.8 509.6ZM380.8 509.6L381.8 509.6L379 506.7L378 506.7ZM378 506.7L379 506.7L376.2 503.8L375.2 503.8ZM375.2 503.8L376.2 503.8L373.4 500.9L372.4 500.9ZM372.4 500.9L373.4 500.9L370.6 497.9L369.6 497.9ZM369.6 497.9L370.6 497.9L367.7 494.8L366.7 494.8ZM366.7 494.8L367.7 494.8L364.9 491.8L363.9 491.8ZM363.9 491.8L364.9 491.8L362 488.6L361 488.6ZM361 488.6L362 488.6L359.1 485.5L358.1 485.5ZM358.1 485.5L359.1 485.5L356.2 482.3L355.2 482.3ZM355.2 482.3L356.2 482.3L353.2 479L352.2 479ZM352.2 479L353.2 479L350.3 475.8L349.3 475.8ZM349.3 475.8L350.3 475.8L347.3 472.4L346.3 472.4ZM346.3 472.4L347.3 472.4L344.3 469L343.3 469ZM343.3 469L344.3 469L341.3 465.6L340.3 465.6ZM340.3 465.6L341.3 465.6L338.3 462.1L337.3 462.1ZM337.3 462.1L338.3 462.1L335.3 458.6L334.3 458.6ZM334.3 458.6L335.3 458.6L332.2 455L331.2 455ZM331.2 455L332.2 455L329.2 451.3L328.2 451.3ZM328.2 451.3L329.2 451.3L326.1 447.6L325.1 447.6ZM325.1 447.6L326.1 447.6L323 443.8L322 443.8ZM322 443.8L323 443.8L319.9 440L318.9 440ZM318.9 440L319.9 440L316.7 436.1L315.7 436.1ZM315.7 436.1L316.7 436.1L313.6 432.1L312.6 432.1ZM312.6 432.1L313.6 432.1L310.4 428.1L309.4 428.1ZM309.4 428.1L310.4 428.1L307.2 424L306.2 424ZM306.2 424L307.2 424L304 419.8L303 419.8ZM303 419.8L304 419.8L300.7 415.6L299.7 415.6ZM299.7 415.6L300.7 415.6L297.5 411.2L296.5 411.2ZM296.5 411.2L297.5 411.2L294.2 406.8L293.2 406.8ZM293.2 406.8L294.2 406.8L290.9 402.3L289.9 402.3ZM289.9 402.3L290.9 402.3L287.6 397.7L286.6 397.7ZM286.6 397.7L287.6 397.7L284.2 393L283.2 393ZM283.2 393L284.2 393L280.9 388.3L279.9 388.3ZM279.9 388.3L280.9 388.3L277.5 383.4L276.5 383.4ZM276.5 383.4L277.5 383.4L274.1 378.4L273.1 378.4ZM273.1 378.4L274.1 378.4L270.6 373.3L269.6 373.3ZM269.6 373.3L270.6 373.3L267.2 368.1L266.2 368.1ZM266.2 368.1L267.2 368.1L263.7 362.8L262.7 362.8ZM262.7 362.8L263.7 362.8L260.2 357.3L259.2 357.3ZM259.2 357.3L260.2 357.3L256.7 351.7L255.7 351.7ZM255.7 351.7L256.7 351.7L253.2 346L252.2 346ZM252.2 346L253.2 346L249.6 340.1L248.6 340.1ZM248.6 340.1L249.6 340.1L246 334.1L245 334.1ZM245 334.1L246 334.1L242.4 327.9L241.4 327.9ZM241.4 327.9L242.4 327.9L238.8 321.5L237.8 321.5ZM237.8 321.5L238.8 321.5L235.1 315L234.1 315ZM234.1 315L235.1 315L231.5 308.3L230.5 308.3ZM230.5 308.3L231.5 308.3L227.8 301.4L226.8 301.4ZM226.8 301.4L227.8 301.4L224.1 294.2L223.1 294.2ZM223.1 294.2L224.1 294.2L220.4 286.9L219.4 286.9ZM219.4 286.9L220.4 286.9L216.6 279.3L215.6 279.3ZM215.6 279.3L216.6 279.3L212.9 271.4L211.9 271.4ZM211.9 271.4L212.9 271.4L209.1 263.3L208.1 263.3ZM208.1 263.3L209.1 263.3L205.3 254.8L204.3 254.8ZM204.3 254.8L205.3 254.8L201.5 246.1L200.5 246.1ZM200.5 246.1L201.5 246.1L197.7 237L196.7 237ZM196.7 237L197.7 237L193.9 227.5L192.9 227.5ZM192.9 227.5L193.9 227.5L190.1 217.7L189.1 217.7ZM189.1 217.7L190.1 217.7L186.4 207.3L185.4 207.3ZM185.4 207.3L186.4 207.3L182.6 196.6L181.6 196.6ZM181.6 196.6L182.6 196.6L178.8 185.2L177.8 185.2ZM177.8 185.2L178.8 185.2L175.1 173.3L174.1 173.3ZM174.1 173.3L175.1 173.3L171.4 160.8L170.4 160.8ZM170.4 160.8L171.4 160.8L167.8 147.6L166.8 147.6ZM166.8 147.6L167.8 147.6L164.3 133.5L163.3 133.5ZM163.3 133.5L164.3 133.5L160.9 118.5L159.9 118.5ZM159.9 118.5L160.9 118.5L157.6 102.5L156.6 102.5ZM156.6 102.5L157.6 102.5L154.4 85.3L153.4 85.3ZM153.4 85.3L154.4 85.3L151.6 66.8L150.6 66.8ZM150.6 66.8L151.6 66.8L149 46.6L148 46.6ZM148 46.6L149 46.6L146.8 24.5L145.8 24.5ZM505.2 569.3L505.2 570.3L502.6 568.1L502.6 567.1ZM502.6 567.1L502.6 568.1L499.9 565.8L499.9 564.8ZM499.9 564.8L499.9 565.8L497.2 563.6L497.2 562.6ZM497.2 562.6L497.2 563.6L494.5 561.3L494.5 560.3ZM494.5 560.3L494.5 561.3L491.8 559L491.8 558ZM491.8 558L491.8 559L489.1 556.6L489.1 555.6ZM489.1 555.6L489.1 556.6L486.4 554.3L486.4 553.3ZM486.4 553.3L486.4 554.3L483.6 551.9L483.6 550.9ZM483.6 550.9L483.6 551.9L480.9 549.5L480.9 548.5ZM480.9 548.5L480.9 549.5L478.1 547.1L478.1 546.1ZM478.1 546.1L478.1 547.1L475.3 544.6L475.3 543.6ZM475.3 543.6L475.3 544.6L472.5 542.1L472.5 541.1ZM472.5 541.1L472.5 542.1L469.7 539.6L469.7 538.6ZM469.7 538.6L469.7 539.6L466.9 537.1L466.9 536.1ZM466.9 536.1L466.9 537.1L464.1 534.5L464.1 533.5ZM464.1 533.5L464.1 534.5L461.2 531.9L461.2 530.9ZM461.2 530.9L461.2 531.9L458.3 529.3L458.3 528.3ZM458.3 528.3L458.3 529.3L455.4 526.7L455.4 525.7ZM455.4 525.7L455.4 526.7L452.5 524L452.5 523ZM452.5 523L452.5 524L449.6 521.3L449.6 520.3ZM449.6 520.3L449.6 521.3L446.7 518.5L446.7 517.5ZM446.7 517.5L446.7 518.5L443.8 515.8L443.8 514.8ZM443.8 514.8L443.8 515.8L440.8 512.9L440.8 511.9ZM440.8 511.9L440.8 512.9L437.8 510.1L437.8 509.1ZM437.8 509.1L437.8 510.1L434.8 507.2L434.8 506.2ZM434.8 506.2L434.8 507.2L431.8 504.3L431.8 503.3ZM431.8 503.3L431.8 504.3L428.8 501.4L428.8 500.4ZM428.8 500.4L428.8 501.4L425.8 498.4L425.8 497.4ZM425.8 497.4L425.8 498.4L422.7 495.3L422.7 494.3ZM422.7 494.3L422.7 495.3L419.6 492.3L419.6 491.3ZM419.1 491.8L420.1 491.8L417 488.6L416 488.6ZM416 488.6L417 488.6L413.9 485.5L412.9 485.5ZM412.9 485.5L413.9 485.5L410.8 482.3L409.8 482.3ZM409.8 482.3L410.8 482.3L407.6 479L406.6 479ZM406.6 479L407.6 479L404.5 475.8L403.5 475.8ZM403.5 475.8L404.5 475.8L401.3 472.4L400.3 472.4ZM400.3 472.4L401.3 472.4L398.1 469L397.1 469ZM397.1 469L398.1 469L394.9 465.6L393.9 465.6ZM393.9 465.6L394.9 465.6L391.6 462.1L390.6 462.1ZM390.6 462.1L391.6 462.1L388.3 458.6L387.3 458.6ZM387.3 458.6L388.3 458.6L385.1 455L384.1 455ZM384.1 455L385.1 455L381.8 451.3L380.8 451.3ZM380.8 451.3L381.8 451.3L378.4 447.6L377.4 447.6ZM377.4 447.6L378.4 447.6L375.1 443.8L374.1 443.8ZM374.1 443.8L375.1 443.8L371.7 440L370.7 440ZM370.7 440L371.7 440L368.3 436.1L367.3 436.1ZM367.3 436.1L368.3 436.1L364.9 432.1L363.9 432.1ZM363.9 432.1L364.9 432.1L361.5 428.1L360.5 428.1ZM360.5 428.1L361.5 428.1L358 424L357 424ZM357 424L358 424L354.5 419.8L353.5 419.8ZM353.5 419.8L354.5 419.8L351 415.6L350 415.6ZM350 415.6L351 415.6L347.5 411.2L346.5 411.2ZM346.5 411.2L347.5 411.2L344 406.8L343 406.8ZM343 406.8L344 406.8L340.4 402.3L339.4 402.3ZM339.4 402.3L340.4 402.3L336.8 397.7L335.8 397.7ZM335.8 397.7L336.8 397.7L333.1 393L332.1 393ZM332.1 393L333.1 393L329.5 388.3L328.5 388.3ZM328.5 388.3L329.5 388.3L325.8 383.4L324.8 383.4ZM324.8 383.4L325.8 383.4L322.1 378.4L321.1 378.4ZM321.1 378.4L322.1 378.4L318.4 373.3L317.4 373.3ZM317.4 373.3L318.4 373.3L314.6 368.1L313.6 368.1ZM313.6 368.1L314.6 368.1L310.8 362.8L309.8 362.8ZM309.8 362.8L310.8 362.8L307 357.3L306 357.3ZM306 357.3L307 357.3L303.2 351.7L302.2 351.7ZM302.2 351.7L303.2 351.7L299.3 346L298.3 346ZM298.3 346L299.3 346L295.4 340.1L294.4 340.1ZM294.4 340.1L295.4 340.1L291.5 334.1L290.5 334.1ZM290.5 334.1L291.5 334.1L287.6 327.9L286.6 327.9ZM286.6 327.9L287.6 327.9L283.6 321.5L282.6 321.5ZM282.6 321.5L283.6 321.5L279.6 315L278.6 315ZM278.6 315L279.6 315L275.6 308.3L274.6 308.3ZM274.6 308.3L275.6 308.3L271.5 301.4L270.5 301.4ZM270.5 301.4L271.5 301.4L267.4 294.2L266.4 294.2ZM266.4 294.2L267.4 294.2L263.3 286.9L262.3 286.9ZM262.3 286.9L263.3 286.9L259.1 279.3L258.1 279.3ZM258.1 279.3L259.1 279.3L255 271.4L254 271.4ZM254 271.4L255 271.4L250.8 263.3L249.8 263.3ZM249.8 263.3L250.8 263.3L246.6 254.8L245.6 254.8ZM245.6 254.8L246.6 254.8L242.3 246.1L241.3 246.1ZM241.3 246.1L242.3 246.1L238.1 237L237.1 237ZM237.1 237L238.1 237L233.8 227.5L232.8 227.5ZM232.8 227.5L233.8 227.5L229.5 217.7L228.5 217.7ZM228.5 217.7L229.5 217.7L225.3 207.3L224.3 207.3ZM224.3 207.3L225.3 207.3L221 196.6L220 196.6ZM220 196.6L221 196.6L216.7 185.2L215.7 185.2ZM215.7 185.2L216.7 185.2L212.4 173.3L211.4 173.3ZM211.4 173.3L212.4 173.3L208.2 160.8L207.2 160.8ZM207.2 160.8L208.2 160.8L204 147.6L203 147.6ZM203 147.6L204 147.6L199.8 133.5L198.8 133.5ZM198.8 133.5L199.8 133.5L195.7 118.5L194.7 118.5ZM194.7 118.5L195.7 118.5L191.8 102.5L190.8 102.5ZM190.8 102.5L191.8 102.5L187.9 85.3L186.9 85.3ZM186.9 85.3L187.9 85.3L184.3 66.8L183.3 66.8ZM183.3 66.8L184.3 66.8L180.9 46.6L179.9 46.6ZM179.9 46.6L180.9 46.6L177.8 24.5L176.8 24.5ZM566.1 569.3L566.1 570.3L563.3 568.1L563.3 567.1ZM563.3 567.1L563.3 568.1L560.4 565.8L560.4 564.8ZM560.4 564.8L560.4 565.8L557.6 563.6L557.6 562.6ZM557.6 562.6L557.6 563.6L554.7 561.3L554.7 560.3ZM554.7 560.3L554.7 561.3L551.8 559L551.8 558ZM551.8 558L551.8 559L548.9 556.6L548.9 555.6ZM548.9 555.6L548.9 556.6L546 554.3L546 553.3ZM546 553.3L546 554.3L543.1 551.9L543.1 550.9ZM543.1 550.9L543.1 551.9L540.2 549.5L540.2 548.5ZM540.2 548.5L540.2 549.5L537.2 547.1L537.2 546.1ZM537.2 546.1L537.2 547.1L534.3 544.6L534.3 543.6ZM534.3 543.6L534.3 544.6L531.3 542.1L531.3 541.1ZM531.3 541.1L531.3 542.1L528.3 539.6L528.3 538.6ZM528.3 538.6L528.3 539.6L525.3 537.1L525.3 536.1ZM525.3 536.1L525.3 537.1L522.3 534.5L522.3 533.5ZM522.3 533.5L522.3 534.5L519.2 531.9L519.2 530.9ZM519.2 530.9L519.2 531.9L516.2 529.3L516.2 528.3ZM516.2 528.3L516.2 529.3L513.1 526.7L513.1 525.7ZM513.1 525.7L513.1 526.7L510 524L510 523ZM510 523L510 524L506.9 521.3L506.9 520.3ZM506.9 520.3L506.9 521.3L503.8 518.5L503.8 517.5ZM503.8 517.5L503.8 518.5L500.6 515.8L500.6 514.8ZM500.6 514.8L500.6 515.8L497.5 512.9L497.5 511.9ZM497.5 511.9L497.5 512.9L494.3 510.1L494.3 509.1ZM494.3 509.1L494.3 510.1L491.1 507.2L491.1 506.2ZM491.1 506.2L491.1 507.2L487.9 504.3L487.9 503.3ZM487.9 503.3L487.9 504.3L484.7 501.4L484.7 500.4ZM484.7 500.4L484.7 501.4L481.4 498.4L481.4 497.4ZM481.4 497.4L481.4 498.4L478.2 495.3L478.2 494.3ZM478.2 494.3L478.2 495.3L474.9 492.3L474.9 491.3ZM474.9 491.3L474.9 492.3L471.6 489.1L471.6 488.1ZM471.6 488.1L471.6 489.1L468.2 486L468.2 485ZM468.2 485L468.2 486L464.9 482.8L464.9 481.8ZM464.9 481.8L464.9 482.8L461.5 479.5L461.5 478.5ZM461.5 478.5L461.5 479.5L458.1 476.3L458.1 475.3ZM458.1 475.3L458.1 476.3L454.7 472.9L454.7 471.9ZM454.7 471.9L454.7 472.9L451.3 469.5L451.3 468.5ZM451.3 468.5L451.3 469.5L447.9 466.1L447.9 465.1ZM447.4 465.6L448.4 465.6L444.9 462.1L443.9 462.1ZM443.9 462.1L444.9 462.1L441.4 458.6L440.4 458.6ZM440.4 458.6L441.4 458.6L437.9 455L436.9 455ZM436.9 455L437.9 455L434.3 451.3L433.3 451.3ZM433.3 451.3L434.3 451.3L430.8 447.6L429.8 447.6ZM429.8 447.6L430.8 447.6L427.2 443.8L426.2 443.8ZM426.2 443.8L427.2 443.8L423.6 440L422.6 440ZM422.6 440L423.6 440L419.9 436.1L418.9 436.1ZM418.9 436.1L419.9 436.1L416.3 432.1L415.3 432.1ZM415.3 432.1L416.3 432.1L412.6 428.1L411.6 428.1ZM411.6 428.1L412.6 428.1L408.8 424L407.8 424ZM407.8 424L408.8 424L405.1 419.8L404.1 419.8ZM404.1 419.8L405.1 419.8L401.3 415.6L400.3 415.6ZM400.3 415.6L401.3 415.6L397.5 411.2L396.5 411.2ZM396.5 411.2L397.5 411.2L393.7 406.8L392.7 406.8ZM392.7 406.8L393.7 406.8L389.9 402.3L388.9 402.3ZM388.9 402.3L389.9 402.3L386 397.7L385 397.7ZM385 397.7L386 397.7L382.1 393L381.1 393ZM381.1 393L382.1 393L378.1 388.3L377.1 388.3ZM377.1 388.3L378.1 388.3L374.2 383.4L373.2 383.4ZM373.2 383.4L374.2 383.4L370.2 378.4L369.2 378.4ZM369.2 378.4L370.2 378.4L366.1 373.3L365.1 373.3ZM365.1 373.3L366.1 373.3L362.1 368.1L361.1 368.1ZM361.1 368.1L362.1 368.1L358 362.8L357 362.8ZM357 362.8L358 362.8L353.9 357.3L352.9 357.3ZM352.9 357.3L353.9 357.3L349.7 351.7L348.7 351.7ZM348.7 351.7L349.7 351.7L345.5 346L344.5 346ZM344.5 346L345.5 346L341.3 340.1L340.3 340.1ZM340.3 340.1L341.3 340.1L337 334.1L336 334.1ZM336 334.1L337 334.1L332.7 327.9L331.7 327.9ZM331.7 327.9L332.7 327.9L328.4 321.5L327.4 321.5ZM327.4 321.5L328.4 321.5L324 315L323 315ZM323 315L324 315L319.6 308.3L318.6 308.3ZM318.6 308.3L319.6 308.3L315.2 301.4L314.2 301.4ZM314.2 301.4L315.2 301.4L310.7 294.2L309.7 294.2ZM309.7 294.2L310.7 294.2L306.2 286.9L305.2 286.9ZM305.2 286.9L306.2 286.9L301.7 279.3L300.7 279.3ZM300.7 279.3L301.7 279.3L297.1 271.4L296.1 271.4ZM296.1 271.4L297.1 271.4L292.5 263.3L291.5 263.3ZM291.5 263.3L292.5 263.3L287.8 254.8L286.8 254.8ZM286.8 254.8L287.8 254.8L283.2 246.1L282.2 246.1ZM282.2 246.1L283.2 246.1L278.5 237L277.5 237ZM277.5 237L278.5 237L273.7 227.5L272.7 227.5ZM272.7 227.5L273.7 227.5L269 217.7L268 217.7ZM268 217.7L269 217.7L264.2 207.3L263.2 207.3ZM263.2 207.3L264.2 207.3L259.4 196.6L258.4 196.6ZM258.4 196.6L259.4 196.6L254.6 185.2L253.6 185.2ZM253.6 185.2L254.6 185.2L249.7 173.3L248.7 173.3ZM248.7 173.3L249.7 173.3L244.9 160.8L243.9 160.8ZM243.9 160.8L244.9 160.8L240.1 147.6L239.1 147.6ZM239.1 147.6L240.1 147.6L235.3 133.5L234.3 133.5ZM234.3 133.5L235.3 133.5L230.6 118.5L229.6 118.5ZM229.6 118.5L230.6 118.5L225.9 102.5L224.9 102.5ZM224.9 102.5L225.9 102.5L221.4 85.3L220.4 85.3ZM220.4 85.3L221.4 85.3L217 66.8L216 66.8ZM216 66.8L217 66.8L212.8 46.6L211.8 46.6ZM211.8 46.6L212.8 46.6L208.9 24.5L207.9 24.5ZM626.9 569.3L626.9 570.3L623.9 568.1L623.9 567.1ZM623.9 567.1L623.9 568.1L620.9 565.8L620.9 564.8ZM620.9 564.8L620.9 565.8L617.9 563.6L617.9 562.6ZM617.9 562.6L617.9 563.6L614.9 561.3L614.9 560.3ZM614.9 560.3L614.9 561.3L611.8 559L611.8 558ZM611.8 558L611.8 559L608.8 556.6L608.8 555.6ZM608.8 555.6L608.8 556.6L605.7 554.3L605.7 553.3ZM605.7 553.3L605.7 554.3L602.6 551.9L602.6 550.9ZM602.6 550.9L602.6 551.9L599.5 549.5L599.5 548.5ZM599.5 548.5L599.5 549.5L596.4 547.1L596.4 546.1ZM596.4 546.1L596.4 547.1L593.2 544.6L593.2 543.6ZM593.2 543.6L593.2 544.6L590.1 542.1L590.1 541.1ZM590.1 541.1L590.1 542.1L586.9 539.6L586.9 538.6ZM586.9 538.6L586.9 539.6L583.7 537.1L583.7 536.1ZM583.7 536.1L583.7 537.1L580.5 534.5L580.5 533.5ZM580.5 533.5L580.5 534.5L577.3 531.9L577.3 530.9ZM577.3 530.9L577.3 531.9L574 529.3L574 528.3ZM574 528.3L574 529.3L570.8 526.7L570.8 525.7ZM570.8 525.7L570.8 526.7L567.5 524L567.5 523ZM567.5 523L567.5 524L564.2 521.3L564.2 520.3ZM564.2 520.3L564.2 521.3L560.9 518.5L560.9 517.5ZM560.9 517.5L560.9 518.5L557.5 515.8L557.5 514.8ZM557.5 514.8L557.5 515.8L554.2 512.9L554.2 511.9ZM554.2 511.9L554.2 512.9L550.8 510.1L550.8 509.1ZM550.8 509.1L550.8 510.1L547.4 507.2L547.4 506.2ZM547.4 506.2L547.4 507.2L544 504.3L544 503.3ZM544 503.3L544 504.3L540.6 501.4L540.6 500.4ZM540.6 500.4L540.6 501.4L537.1 498.4L537.1 497.4ZM537.1 497.4L537.1 498.4L533.6 495.3L533.6 494.3ZM533.6 494.3L533.6 495.3L530.1 492.3L530.1 491.3ZM530.1 491.3L530.1 492.3L526.6 489.1L526.6 488.1ZM526.6 488.1L526.6 489.1L523.1 486L523.1 485ZM523.1 485L523.1 486L519.5 482.8L519.5 481.8ZM519.5 481.8L519.5 482.8L515.9 479.5L515.9 478.5ZM515.9 478.5L515.9 479.5L512.3 476.3L512.3 475.3ZM512.3 475.3L512.3 476.3L508.7 472.9L508.7 471.9ZM508.7 471.9L508.7 472.9L505 469.5L505 468.5ZM505 468.5L505 469.5L501.4 466.1L501.4 465.1ZM501.4 465.1L501.4 466.1L497.7 462.6L497.7 461.6ZM497.7 461.6L497.7 462.6L493.9 459.1L493.9 458.1ZM493.9 458.1L493.9 459.1L490.2 455.5L490.2 454.5ZM490.2 454.5L490.2 455.5L486.4 451.8L486.4 450.8ZM486.4 450.8L486.4 451.8L482.6 448.1L482.6 447.1ZM482.6 447.1L482.6 448.1L478.8 444.3L478.8 443.3ZM478.8 443.3L478.8 444.3L474.9 440.5L474.9 439.5ZM474.4 440L475.4 440L471.5 436.1L470.5 436.1ZM470.5 436.1L471.5 436.1L467.6 432.1L466.6 432.1ZM466.6 432.1L467.6 432.1L463.7 428.1L462.7 428.1ZM462.7 428.1L463.7 428.1L459.7 424L458.7 424ZM458.7 424L459.7 424L455.7 419.8L454.7 419.8ZM454.7 419.8L455.7 419.8L451.6 415.6L450.6 415.6ZM450.6 415.6L451.6 415.6L447.6 411.2L446.6 411.2ZM446.6 411.2L447.6 411.2L443.5 406.8L442.5 406.8ZM442.5 406.8L443.5 406.8L439.4 402.3L438.4 402.3ZM438.4 402.3L439.4 402.3L435.2 397.7L434.2 397.7ZM434.2 397.7L435.2 397.7L431 393L430 393ZM430 393L431 393L426.8 388.3L425.8 388.3ZM425.8 388.3L426.8 388.3L422.5 383.4L421.5 383.4ZM421.5 383.4L422.5 383.4L418.2 378.4L417.2 378.4ZM417.2 378.4L418.2 378.4L413.9 373.3L412.9 373.3ZM412.9 373.3L413.9 373.3L409.5 368.1L408.5 368.1ZM408.5 368.1L409.5 368.1L405.1 362.8L404.1 362.8ZM404.1 362.8L405.1 362.8L400.7 357.3L399.7 357.3ZM399.7 357.3L400.7 357.3L396.2 351.7L395.2 351.7ZM395.2 351.7L396.2 351.7L391.7 346L390.7 346ZM390.7 346L391.7 346L387.1 340.1L386.1 340.1ZM386.1 340.1L387.1 340.1L382.5 334.1L381.5 334.1ZM381.5 334.1L382.5 334.1L377.9 327.9L376.9 327.9ZM376.9 327.9L377.9 327.9L373.2 321.5L372.2 321.5ZM372.2 321.5L373.2 321.5L368.5 315L367.5 315ZM367.5 315L368.5 315L363.7 308.3L362.7 308.3ZM362.7 308.3L363.7 308.3L358.9 301.4L357.9 301.4ZM357.9 301.4L358.9 301.4L354 294.2L353 294.2ZM353 294.2L354 294.2L349.1 286.9L348.1 286.9ZM348.1 286.9L349.1 286.9L344.2 279.3L343.2 279.3ZM343.2 279.3L344.2 279.3L339.2 271.4L338.2 271.4ZM338.2 271.4L339.2 271.4L334.2 263.3L333.2 263.3ZM333.2 263.3L334.2 263.3L329.1 254.8L328.1 254.8ZM328.1 254.8L329.1 254.8L324 246.1L323 246.1ZM323 246.1L324 246.1L318.8 237L317.8 237ZM317.8 237L318.8 237L313.6 227.5L312.6 227.5ZM312.6 227.5L313.6 227.5L308.4 217.7L307.4 217.7ZM307.4 217.7L308.4 217.7L303.1 207.3L302.1 207.3ZM302.1 207.3L303.1 207.3L297.8 196.6L296.8 196.6ZM296.8 196.6L297.8 196.6L292.4 185.2L291.4 185.2ZM291.4 185.2L292.4 185.2L287 173.3L286 173.3ZM286 173.3L287 173.3L281.7 160.8L280.7 160.8ZM280.7 160.8L281.7 160.8L276.3 147.6L275.3 147.6ZM275.3 147.6L276.3 147.6L270.9 133.5L269.9 133.5ZM269.9 133.5L270.9 133.5L265.5 118.5L264.5 118.5ZM264.5 118.5L265.5 118.5L260.1 102.5L259.1 102.5ZM259.1 102.5L260.1 102.5L254.9 85.3L253.9 85.3ZM253.9 85.3L254.9 85.3L249.7 66.8L248.7 66.8ZM248.7 66.8L249.7 66.8L244.7 46.6L243.7 46.6ZM243.7 46.6L244.7 46.6L239.9 24.5L238.9 24.5ZM687.8 569.3L687.8 570.3L684.6 568.1L684.6 567.1ZM684.6 567.1L684.6 568.1L681.4 565.8L681.4 564.8ZM681.4 564.8L681.4 565.8L678.3 563.6L678.3 562.6ZM678.3 562.6L678.3 563.6L675 561.3L675 560.3ZM675 560.3L675 561.3L671.8 559L671.8 558ZM671.8 558L671.8 559L668.6 556.6L668.6 555.6ZM668.6 555.6L668.6 556.6L665.3 554.3L665.3 553.3ZM665.3 553.3L665.3 554.3L662.1 551.9L662.1 550.9ZM662.1 550.9L662.1 551.9L658.8 549.5L658.8 548.5ZM658.8 548.5L658.8 549.5L655.5 547.1L655.5 546.1ZM655.5 546.1L655.5 547.1L652.2 544.6L652.2 543.6ZM652.2 543.6L652.2 544.6L648.8 542.1L648.8 541.1ZM648.8 541.1L648.8 542.1L645.5 539.6L645.5 538.6ZM645.5 538.6L645.5 539.6L642.1 537.1L642.1 536.1ZM642.1 536.1L642.1 537.1L638.7 534.5L638.7 533.5ZM638.7 533.5L638.7 534.5L635.3 531.9L635.3 530.9ZM635.3 530.9L635.3 531.9L631.9 529.3L631.9 528.3ZM631.9 528.3L631.9 529.3L628.4 526.7L628.4 525.7ZM628.4 525.7L628.4 526.7L624.9 524L624.9 523ZM624.9 523L624.9 524L621.5 521.3L621.5 520.3ZM621.5 520.3L621.5 521.3L618 518.5L618 517.5ZM618 517.5L618 518.5L614.4 515.8L614.4 514.8ZM614.4 514.8L614.4 515.8L610.9 512.9L610.9 511.9ZM610.9 511.9L610.9 512.9L607.3 510.1L607.3 509.1ZM607.3 509.1L607.3 510.1L603.7 507.2L603.7 506.2ZM603.7 506.2L603.7 507.2L600.1 504.3L600.1 503.3ZM600.1 503.3L600.1 504.3L596.5 501.4L596.5 500.4ZM596.5 500.4L596.5 501.4L592.8 498.4L592.8 497.4ZM592.8 497.4L592.8 498.4L589.1 495.3L589.1 494.3ZM589.1 494.3L589.1 495.3L585.4 492.3L585.4 491.3ZM585.4 491.3L585.4 492.3L581.7 489.1L581.7 488.1ZM581.7 488.1L581.7 489.1L577.9 486L577.9 485ZM577.9 485L577.9 486L574.1 482.8L574.1 481.8ZM574.1 481.8L574.1 482.8L570.3 479.5L570.3 478.5ZM570.3 478.5L570.3 479.5L566.5 476.3L566.5 475.3ZM566.5 475.3L566.5 476.3L562.7 472.9L562.7 471.9ZM562.7 471.9L562.7 472.9L558.8 469.5L558.8 468.5ZM558.8 468.5L558.8 469.5L554.9 466.1L554.9 465.1ZM554.9 465.1L554.9 466.1L550.9 462.6L550.9 461.6ZM550.9 461.6L550.9 462.6L547 459.1L547 458.1ZM547 458.1L547 459.1L543 455.5L543 454.5ZM543 454.5L543 455.5L539 451.8L539 450.8ZM539 450.8L539 451.8L534.9 448.1L534.9 447.1ZM534.9 447.1L534.9 448.1L530.9 444.3L530.9 443.3ZM530.9 443.3L530.9 444.3L526.7 440.5L526.7 439.5ZM526.7 439.5L526.7 440.5L522.6 436.6L522.6 435.6ZM522.6 435.6L522.6 436.6L518.4 432.6L518.4 431.6ZM518.4 431.6L518.4 432.6L514.2 428.6L514.2 427.6ZM514.2 427.6L514.2 428.6L510 424.5L510 423.5ZM510 423.5L510 424.5L505.7 420.3L505.7 419.3ZM505.7 419.3L505.7 420.3L501.4 416.1L501.4 415.1ZM500.9 415.6L501.9 415.6L497.6 411.2L496.6 411.2ZM496.6 411.2L497.6 411.2L493.2 406.8L492.2 406.8ZM492.2 406.8L493.2 406.8L488.8 402.3L487.8 402.3ZM487.8 402.3L488.8 402.3L484.4 397.7L483.4 397.7ZM483.4 397.7L484.4 397.7L479.9 393L478.9 393ZM478.9 393L479.9 393L475.4 388.3L474.4 388.3ZM474.4 388.3L475.4 388.3L470.9 383.4L469.9 383.4ZM469.9 383.4L470.9 383.4L466.3 378.4L465.3 378.4ZM465.3 378.4L466.3 378.4L461.6 373.3L460.6 373.3ZM460.6 373.3L461.6 373.3L457 368.1L456 368.1ZM456 368.1L457 368.1L452.2 362.8L451.2 362.8ZM451.2 362.8L452.2 362.8L447.5 357.3L446.5 357.3ZM446.5 357.3L447.5 357.3L442.7 351.7L441.7 351.7ZM441.7 351.7L442.7 351.7L437.8 346L436.8 346ZM436.8 346L437.8 346L432.9 340.1L431.9 340.1ZM431.9 340.1L432.9 340.1L428 334.1L427 334.1ZM427 334.1L428 334.1L423 327.9L422 327.9ZM422 327.9L423 327.9L418 321.5L417 321.5ZM417 321.5L418 321.5L412.9 315L411.9 315ZM411.9 315L412.9 315L407.8 308.3L406.8 308.3ZM406.8 308.3L407.8 308.3L402.6 301.4L401.6 301.4ZM401.6 301.4L402.6 301.4L397.3 294.2L396.3 294.2ZM396.3 294.2L397.3 294.2L392.1 286.9L391.1 286.9ZM391.1 286.9L392.1 286.9L386.7 279.3L385.7 279.3ZM385.7 279.3L386.7 279.3L381.3 271.4L380.3 271.4ZM380.3 271.4L381.3 271.4L375.9 263.3L374.9 263.3ZM374.9 263.3L375.9 263.3L370.4 254.8L369.4 254.8ZM369.4 254.8L370.4 254.8L364.8 246.1L363.8 246.1ZM363.8 246.1L364.8 246.1L359.2 237L358.2 237ZM358.2 237L359.2 237L353.5 227.5L352.5 227.5ZM352.5 227.5L353.5 227.5L347.8 217.7L346.8 217.7ZM346.8 217.7L347.8 217.7L342 207.3L341 207.3ZM341 207.3L342 207.3L336.2 196.6L335.2 196.6ZM335.2 196.6L336.2 196.6L330.3 185.2L329.3 185.2ZM329.3 185.2L330.3 185.2L324.4 173.3L323.4 173.3ZM323.4 173.3L324.4 173.3L318.4 160.8L317.4 160.8ZM317.4 160.8L318.4 160.8L312.4 147.6L311.4 147.6ZM311.4 147.6L312.4 147.6L306.4 133.5L305.4 133.5ZM305.4 133.5L306.4 133.5L300.4 118.5L299.4 118.5ZM299.4 118.5L300.4 118.5L294.3 102.5L293.3 102.5ZM293.3 102.5L294.3 102.5L288.3 85.3L287.3 85.3ZM287.3 85.3L288.3 85.3L282.4 66.8L281.4 66.8ZM281.4 66.8L282.4 66.8L276.6 46.6L275.6 46.6ZM275.6 46.6L276.6 46.6L271 24.5L270 24.5ZM748.6 569.3L748.6 570.3L745.3 568.1L745.3 567.1ZM745.3 567.1L745.3 568.1L741.9 565.8L741.9 564.8ZM741.9 564.8L741.9 565.8L738.6 563.6L738.6 562.6ZM738.6 562.6L738.6 563.6L735.2 561.3L735.2 560.3ZM735.2 560.3L735.2 561.3L731.8 559L731.8 558ZM731.8 558L731.8 559L728.4 556.6L728.4 555.6ZM728.4 555.6L728.4 556.6L725 554.3L725 553.3ZM725 553.3L725 554.3L721.6 551.9L721.6 550.9ZM721.6 550.9L721.6 551.9L718.1 549.5L718.1 548.5ZM718.1 548.5L718.1 549.5L714.6 547.1L714.6 546.1ZM714.6 546.1L714.6 547.1L711.1 544.6L711.1 543.6ZM711.1 543.6L711.1 544.6L707.6 542.1L707.6 541.1ZM707.6 541.1L707.6 542.1L704.1 539.6L704.1 538.6ZM704.1 538.6L704.1 539.6L700.5 537.1L700.5 536.1ZM700.5 536.1L700.5 537.1L696.9 534.5L696.9 533.5ZM696.9 533.5L696.9 534.5L693.3 531.9L693.3 530.9ZM693.3 530.9L693.3 531.9L689.7 529.3L689.7 528.3ZM689.7 528.3L689.7 529.3L686.1 526.7L686.1 525.7ZM686.1 525.7L686.1 526.7L682.4 524L682.4 523ZM682.4 523L682.4 524L678.7 521.3L678.7 520.3ZM678.7 520.3L678.7 521.3L675 518.5L675 517.5ZM675 517.5L675 518.5L671.3 515.8L671.3 514.8ZM671.3 514.8L671.3 515.8L667.6 512.9L667.6 511.9ZM667.6 511.9L667.6 512.9L663.8 510.1L663.8 509.1ZM663.8 509.1L663.8 510.1L660 507.2L660 506.2ZM660 506.2L660 507.2L656.2 504.3L656.2 503.3ZM656.2 503.3L656.2 504.3L652.3 501.4L652.3 500.4ZM652.3 500.4L652.3 501.4L648.5 498.4L648.5 497.4ZM648.5 497.4L648.5 498.4L644.6 495.3L644.6 494.3ZM644.6 494.3L644.6 495.3L640.7 492.3L640.7 491.3ZM640.7 491.3L640.7 492.3L636.7 489.1L636.7 488.1ZM636.7 488.1L636.7 489.1L632.8 486L632.8 485ZM632.8 485L632.8 486L628.8 482.8L628.8 481.8ZM628.8 481.8L628.8 482.8L624.7 479.5L624.7 478.5ZM624.7 478.5L624.7 479.5L620.7 476.3L620.7 475.3ZM620.7 475.3L620.7 476.3L616.6 472.9L616.6 471.9ZM616.6 471.9L616.6 472.9L612.5 469.5L612.5 468.5ZM612.5 468.5L612.5 469.5L608.4 466.1L608.4 465.1ZM608.4 465.1L608.4 466.1L604.2 462.6L604.2 461.6ZM604.2 461.6L604.2 462.6L600 459.1L600 458.1ZM600 458.1L600 459.1L595.8 455.5L595.8 454.5ZM595.8 454.5L595.8 455.5L591.5 451.8L591.5 450.8ZM591.5 450.8L591.5 451.8L587.3 448.1L587.3 447.1ZM587.3 447.1L587.3 448.1L582.9 444.3L582.9 443.3ZM582.9 443.3L582.9 444.3L578.6 440.5L578.6 439.5ZM578.6 439.5L578.6 440.5L574.2 436.6L574.2 435.6ZM574.2 435.6L574.2 436.6L569.8 432.6L569.8 431.6ZM569.8 431.6L569.8 432.6L565.3 428.6L565.3 427.6ZM565.3 427.6L565.3 428.6L560.8 424.5L560.8 423.5ZM560.8 423.5L560.8 424.5L556.3 420.3L556.3 419.3ZM556.3 419.3L556.3 420.3L551.8 416.1L551.8 415.1ZM551.8 415.1L551.8 416.1L547.2 411.7L547.2 410.7ZM547.2 410.7L547.2 411.7L542.5 407.3L542.5 406.3ZM542.5 406.3L542.5 407.3L537.8 402.8L537.8 401.8ZM537.8 401.8L537.8 402.8L533.1 398.2L533.1 397.2ZM533.1 397.2L533.1 398.2L528.4 393.5L528.4 392.5ZM528.4 392.5L528.4 393.5L523.6 388.8L523.6 387.8ZM523.1 388.3L524.1 388.3L519.2 383.4L518.2 383.4ZM518.2 383.4L519.2 383.4L514.3 378.4L513.3 378.4ZM513.3 378.4L514.3 378.4L509.4 373.3L508.4 373.3ZM508.4 373.3L509.4 373.3L504.4 368.1L503.4 368.1ZM503.4 368.1L504.4 368.1L499.4 362.8L498.4 362.8ZM498.4 362.8L499.4 362.8L494.3 357.3L493.3 357.3ZM493.3 357.3L494.3 357.3L489.2 351.7L488.2 351.7ZM488.2 351.7L489.2 351.7L484 346L483 346ZM483 346L484 346L478.8 340.1L477.8 340.1ZM477.8 340.1L478.8 340.1L473.5 334.1L472.5 334.1ZM472.5 334.1L473.5 334.1L468.2 327.9L467.2 327.9ZM467.2 327.9L468.2 327.9L462.8 321.5L461.8 321.5ZM461.8 321.5L462.8 321.5L457.3 315L456.3 315ZM456.3 315L457.3 315L451.8 308.3L450.8 308.3ZM450.8 308.3L451.8 308.3L446.3 301.4L445.3 301.4ZM445.3 301.4L446.3 301.4L440.7 294.2L439.7 294.2ZM439.7 294.2L440.7 294.2L435 286.9L434 286.9ZM434 286.9L435 286.9L429.2 279.3L428.2 279.3ZM428.2 279.3L429.2 279.3L423.4 271.4L422.4 271.4ZM422.4 271.4L423.4 271.4L417.6 263.3L416.6 263.3ZM416.6 263.3L417.6 263.3L411.6 254.8L410.6 254.8ZM410.6 254.8L411.6 254.8L405.6 246.1L404.6 246.1ZM404.6 246.1L405.6 246.1L399.5 237L398.5 237ZM398.5 237L399.5 237L393.4 227.5L392.4 227.5ZM392.4 227.5L393.4 227.5L387.2 217.7L386.2 217.7ZM386.2 217.7L387.2 217.7L380.9 207.3L379.9 207.3ZM379.9 207.3L380.9 207.3L374.6 196.6L373.6 196.6ZM373.6 196.6L374.6 196.6L368.2 185.2L367.2 185.2ZM367.2 185.2L368.2 185.2L361.7 173.3L360.7 173.3ZM360.7 173.3L361.7 173.3L355.1 160.8L354.1 160.8ZM354.1 160.8L355.1 160.8L348.5 147.6L347.5 147.6ZM347.5 147.6L348.5 147.6L341.9 133.5L340.9 133.5ZM340.9 133.5L341.9 133.5L335.2 118.5L334.2 118.5ZM334.2 118.5L335.2 118.5L328.5 102.5L327.5 102.5ZM327.5 102.5L328.5 102.5L321.8 85.3L320.8 85.3ZM320.8 85.3L321.8 85.3L315.1 66.8L314.1 66.8ZM314.1 66.8L315.1 66.8L308.5 46.6L307.5 46.6ZM307.5 46.6L308.5 46.6L302 24.5L301 24.5ZM809.4 569.3L809.4 570.3L806 568.1L806 567.1ZM806 567.1L806 568.1L802.5 565.8L802.5 564.8ZM802.5 564.8L802.5 565.8L798.9 563.6L798.9 562.6ZM798.9 562.6L798.9 563.6L795.4 561.3L795.4 560.3ZM795.4 560.3L795.4 561.3L791.8 559L791.8 558ZM791.8 558L791.8 559L788.3 556.6L788.3 555.6ZM788.3 555.6L788.3 556.6L784.7 554.3L784.7 553.3ZM784.7 553.3L784.7 554.3L781 551.9L781 550.9ZM781 550.9L781 551.9L777.4 549.5L777.4 548.5ZM777.4 548.5L777.4 549.5L773.7 547.1L773.7 546.1ZM773.7 546.1L773.7 547.1L770.1 544.6L770.1 543.6ZM770.1 543.6L770.1 544.6L766.4 542.1L766.4 541.1ZM766.4 541.1L766.4 542.1L762.6 539.6L762.6 538.6ZM762.6 538.6L762.6 539.6L758.9 537.1L758.9 536.1ZM758.9 536.1L758.9 537.1L755.1 534.5L755.1 533.5ZM755.1 533.5L755.1 534.5L751.4 531.9L751.4 530.9ZM751.4 530.9L751.4 531.9L747.6 529.3L747.6 528.3ZM747.6 528.3L747.6 529.3L743.7 526.7L743.7 525.7ZM743.7 525.7L743.7 526.7L739.9 524L739.9 523ZM739.9 523L739.9 524L736 521.3L736 520.3ZM736 520.3L736 521.3L732.1 518.5L732.1 517.5ZM732.1 517.5L732.1 518.5L728.2 515.8L728.2 514.8ZM728.2 514.8L728.2 515.8L724.2 512.9L724.2 511.9ZM724.2 511.9L724.2 512.9L720.3 510.1L720.3 509.1ZM720.3 509.1L720.3 510.1L716.3 507.2L716.3 506.2ZM716.3 506.2L716.3 507.2L712.3 504.3L712.3 503.3ZM712.3 503.3L712.3 504.3L708.2 501.4L708.2 500.4ZM708.2 500.4L708.2 501.4L704.1 498.4L704.1 497.4ZM704.1 497.4L704.1 498.4L700.1 495.3L700.1 494.3ZM700.1 494.3L700.1 495.3L695.9 492.3L695.9 491.3ZM695.9 491.3L695.9 492.3L691.8 489.1L691.8 488.1ZM691.8 488.1L691.8 489.1L687.6 486L687.6 485ZM687.6 485L687.6 486L683.4 482.8L683.4 481.8ZM683.4 481.8L683.4 482.8L679.1 479.5L679.1 478.5ZM679.1 478.5L679.1 479.5L674.9 476.3L674.9 475.3ZM674.9 475.3L674.9 476.3L670.6 472.9L670.6 471.9ZM670.6 471.9L670.6 472.9L666.2 469.5L666.2 468.5ZM666.2 468.5L666.2 469.5L661.9 466.1L661.9 465.1ZM661.9 465.1L661.9 466.1L657.5 462.6L657.5 461.6ZM657.5 461.6L657.5 462.6L653.1 459.1L653.1 458.1ZM653.1 458.1L653.1 459.1L648.6 455.5L648.6 454.5ZM648.6 454.5L648.6 455.5L644.1 451.8L644.1 450.8ZM644.1 450.8L644.1 451.8L639.6 448.1L639.6 447.1ZM639.6 447.1L639.6 448.1L635 444.3L635 443.3ZM635 443.3L635 444.3L630.4 440.5L630.4 439.5ZM630.4 439.5L630.4 440.5L625.8 436.6L625.8 435.6ZM625.8 435.6L625.8 436.6L621.1 432.6L621.1 431.6ZM621.1 431.6L621.1 432.6L616.4 428.6L616.4 427.6ZM616.4 427.6L616.4 428.6L611.7 424.5L611.7 423.5ZM611.7 423.5L611.7 424.5L606.9 420.3L606.9 419.3ZM606.9 419.3L606.9 420.3L602.1 416.1L602.1 415.1ZM602.1 415.1L602.1 416.1L597.2 411.7L597.2 410.7ZM597.2 410.7L597.2 411.7L592.3 407.3L592.3 406.3ZM592.3 406.3L592.3 407.3L587.3 402.8L587.3 401.8ZM587.3 401.8L587.3 402.8L582.3 398.2L582.3 397.2ZM582.3 397.2L582.3 398.2L577.3 393.5L577.3 392.5ZM577.3 392.5L577.3 393.5L572.2 388.8L572.2 387.8ZM572.2 387.8L572.2 388.8L567.1 383.9L567.1 382.9ZM567.1 382.9L567.1 383.9L561.9 378.9L561.9 377.9ZM561.9 377.9L561.9 378.9L556.6 373.8L556.6 372.8ZM556.6 372.8L556.6 373.8L551.3 368.6L551.3 367.6ZM551.3 367.6L551.3 368.6L546 363.3L546 362.3ZM545.5 362.8L546.5 362.8L541.1 357.3L540.1 357.3ZM540.1 357.3L541.1 357.3L535.7 351.7L534.7 351.7ZM534.7 351.7L535.7 351.7L530.2 346L529.2 346ZM529.2 346L530.2 346L524.6 340.1L523.6 340.1ZM523.6 340.1L524.6 340.1L519 334.1L518 334.1ZM518 334.1L519 334.1L513.3 327.9L512.3 327.9ZM512.3 327.9L513.3 327.9L507.6 321.5L506.6 321.5ZM506.6 321.5L507.6 321.5L501.8 315L500.8 315ZM500.8 315L501.8 315L495.9 308.3L494.9 308.3ZM494.9 308.3L495.9 308.3L490 301.4L489 301.4ZM489 301.4L490 301.4L484 294.2L483 294.2ZM483 294.2L484 294.2L477.9 286.9L476.9 286.9ZM476.9 286.9L477.9 286.9L471.8 279.3L470.8 279.3ZM470.8 279.3L471.8 279.3L465.5 271.4L464.5 271.4ZM464.5 271.4L465.5 271.4L459.2 263.3L458.2 263.3ZM458.2 263.3L459.2 263.3L452.9 254.8L451.9 254.8ZM451.9 254.8L452.9 254.8L446.4 246.1L445.4 246.1ZM445.4 246.1L446.4 246.1L439.9 237L438.9 237ZM438.9 237L439.9 237L433.3 227.5L432.3 227.5ZM432.3 227.5L433.3 227.5L426.6 217.7L425.6 217.7ZM425.6 217.7L426.6 217.7L419.8 207.3L418.8 207.3ZM418.8 207.3L419.8 207.3L413 196.6L412 196.6ZM412 196.6L413 196.6L406 185.2L405 185.2ZM405 185.2L406 185.2L399 173.3L398 173.3ZM398 173.3L399 173.3L391.9 160.8L390.9 160.8ZM390.9 160.8L391.9 160.8L384.7 147.6L383.7 147.6ZM383.7 147.6L384.7 147.6L377.4 133.5L376.4 133.5ZM376.4 133.5L377.4 133.5L370.1 118.5L369.1 118.5ZM369.1 118.5L370.1 118.5L362.7 102.5L361.7 102.5ZM361.7 102.5L362.7 102.5L355.3 85.3L354.3 85.3ZM354.3 85.3L355.3 85.3L347.9 66.8L346.9 66.8ZM346.9 66.8L347.9 66.8L340.4 46.6L339.4 46.6ZM339.4 46.6L340.4 46.6L333.1 24.5L332.1 24.5ZM870.3 569.3L870.3 570.3L866.6 568.1L866.6 567.1ZM866.6 567.1L866.6 568.1L863 565.8L863 564.8ZM863 564.8L863 565.8L859.3 563.6L859.3 562.6ZM859.3 562.6L859.3 563.6L855.6 561.3L855.6 560.3ZM855.6 560.3L855.6 561.3L851.8 559L851.8 558ZM851.8 558L851.8 559L848.1 556.6L848.1 555.6ZM848.1 555.6L848.1 556.6L844.3 554.3L844.3 553.3ZM844.3 553.3L844.3 554.3L840.5 551.9L840.5 550.9ZM840.5 550.9L840.5 551.9L836.7 549.5L836.7 548.5ZM836.7 548.5L836.7 549.5L832.9 547.1L832.9 546.1ZM832.9 546.1L832.9 547.1L829 544.6L829 543.6ZM829 543.6L829 544.6L825.1 542.1L825.1 541.1ZM825.1 541.1L825.1 542.1L821.2 539.6L821.2 538.6ZM821.2 538.6L821.2 539.6L817.3 537.1L817.3 536.1ZM817.3 536.1L817.3 537.1L813.4 534.5L813.4 533.5ZM813.4 533.5L813.4 534.5L809.4 531.9L809.4 530.9ZM809.4 530.9L809.4 531.9L805.4 529.3L805.4 528.3ZM805.4 528.3L805.4 529.3L801.4 526.7L801.4 525.7ZM801.4 525.7L801.4 526.7L797.4 524L797.4 523ZM797.4 523L797.4 524L793.3 521.3L793.3 520.3ZM793.3 520.3L793.3 521.3L789.2 518.5L789.2 517.5ZM789.2 517.5L789.2 518.5L785.1 515.8L785.1 514.8ZM785.1 514.8L785.1 515.8L780.9 512.9L780.9 511.9ZM780.9 511.9L780.9 512.9L776.8 510.1L776.8 509.1ZM776.8 509.1L776.8 510.1L772.6 507.2L772.6 506.2ZM772.6 506.2L772.6 507.2L768.4 504.3L768.4 503.3ZM768.4 503.3L768.4 504.3L764.1 501.4L764.1 500.4ZM764.1 500.4L764.1 501.4L759.8 498.4L759.8 497.4ZM759.8 497.4L759.8 498.4L755.5 495.3L755.5 494.3ZM755.5 494.3L755.5 495.3L751.2 492.3L751.2 491.3ZM751.2 491.3L751.2 492.3L746.8 489.1L746.8 488.1ZM746.8 488.1L746.8 489.1L742.4 486L742.4 485ZM742.4 485L742.4 486L738 482.8L738 481.8ZM738 481.8L738 482.8L733.5 479.5L733.5 478.5ZM733.5 478.5L733.5 479.5L729.1 476.3L729.1 475.3ZM729.1 475.3L729.1 476.3L724.5 472.9L724.5 471.9ZM724.5 471.9L724.5 472.9L720 469.5L720 468.5ZM720 468.5L720 469.5L715.4 466.1L715.4 465.1ZM715.4 465.1L715.4 466.1L710.8 462.6L710.8 461.6ZM710.8 461.6L710.8 462.6L706.1 459.1L706.1 458.1ZM706.1 458.1L706.1 459.1L701.4 455.5L701.4 454.5ZM701.4 454.5L701.4 455.5L696.7 451.8L696.7 450.8ZM696.7 450.8L696.7 451.8L691.9 448.1L691.9 447.1ZM691.9 447.1L691.9 448.1L687.1 444.3L687.1 443.3ZM687.1 443.3L687.1 444.3L682.3 440.5L682.3 439.5ZM682.3 439.5L682.3 440.5L677.4 436.6L677.4 435.6ZM677.4 435.6L677.4 436.6L672.5 432.6L672.5 431.6ZM672.5 431.6L672.5 432.6L667.5 428.6L667.5 427.6ZM667.5 427.6L667.5 428.6L662.5 424.5L662.5 423.5ZM662.5 423.5L662.5 424.5L657.5 420.3L657.5 419.3ZM657.5 419.3L657.5 420.3L652.4 416.1L652.4 415.1ZM652.4 415.1L652.4 416.1L647.2 411.7L647.2 410.7ZM647.2 410.7L647.2 411.7L642 407.3L642 406.3ZM642 406.3L642 407.3L636.8 402.8L636.8 401.8ZM636.8 401.8L636.8 402.8L631.5 398.2L631.5 397.2ZM631.5 397.2L631.5 398.2L626.2 393.5L626.2 392.5ZM626.2 392.5L626.2 393.5L620.8 388.8L620.8 387.8ZM620.8 387.8L620.8 388.8L615.4 383.9L615.4 382.9ZM615.4 382.9L615.4 383.9L609.9 378.9L609.9 377.9ZM609.9 377.9L609.9 378.9L604.4 373.8L604.4 372.8ZM604.4 372.8L604.4 373.8L598.8 368.6L598.8 367.6ZM598.8 367.6L598.8 368.6L593.1 363.3L593.1 362.3ZM593.1 362.3L593.1 363.3L587.4 357.8L587.4 356.8ZM587.4 356.8L587.4 357.8L581.7 352.2L581.7 351.2ZM581.7 351.2L581.7 352.2L575.8 346.5L575.8 345.5ZM575.8 345.5L575.8 346.5L569.9 340.6L569.9 339.6ZM569.4 340.1L570.4 340.1L564.5 334.1L563.5 334.1ZM563.5 334.1L564.5 334.1L558.5 327.9L557.5 327.9ZM557.5 327.9L558.5 327.9L552.4 321.5L551.4 321.5ZM551.4 321.5L552.4 321.5L546.2 315L545.2 315ZM545.2 315L546.2 315L540 308.3L539 308.3ZM539 308.3L540 308.3L533.7 301.4L532.7 301.4ZM532.7 301.4L533.7 301.4L527.3 294.2L526.3 294.2ZM526.3 294.2L527.3 294.2L520.8 286.9L519.8 286.9ZM519.8 286.9L520.8 286.9L514.3 279.3L513.3 279.3ZM513.3 279.3L514.3 279.3L507.6 271.4L506.6 271.4ZM506.6 271.4L507.6 271.4L500.9 263.3L499.9 263.3ZM499.9 263.3L500.9 263.3L494.1 254.8L493.1 254.8ZM493.1 254.8L494.1 254.8L487.2 246.1L486.2 246.1ZM486.2 246.1L487.2 246.1L480.3 237L479.3 237ZM479.3 237L480.3 237L473.2 227.5L472.2 227.5ZM472.2 227.5L473.2 227.5L466 217.7L465 217.7ZM465 217.7L466 217.7L458.7 207.3L457.7 207.3ZM457.7 207.3L458.7 207.3L451.4 196.6L450.4 196.6ZM450.4 196.6L451.4 196.6L443.9 185.2L442.9 185.2ZM442.9 185.2L443.9 185.2L436.3 173.3L435.3 173.3ZM435.3 173.3L436.3 173.3L428.6 160.8L427.6 160.8ZM427.6 160.8L428.6 160.8L420.8 147.6L419.8 147.6ZM419.8 147.6L420.8 147.6L413 133.5L412 133.5ZM412 133.5L413 133.5L405 118.5L404 118.5ZM404 118.5L405 118.5L396.9 102.5L395.9 102.5ZM395.9 102.5L396.9 102.5L388.8 85.3L387.8 85.3ZM387.8 85.3L388.8 85.3L380.6 66.8L379.6 66.8ZM379.6 66.8L380.6 66.8L372.4 46.6L371.4 46.6ZM371.4 46.6L372.4 46.6L364.2 24.5L363.2 24.5ZM931.1 569.3L931.1 570.3L927.3 568.1L927.3 567.1ZM927.3 567.1L927.3 568.1L923.5 565.8L923.5 564.8ZM923.5 564.8L923.5 565.8L919.6 563.6L919.6 562.6ZM919.6 562.6L919.6 563.6L915.7 561.3L915.7 560.3ZM915.7 560.3L915.7 561.3L911.8 559L911.8 558ZM911.8 558L911.8 559L907.9 556.6L907.9 555.6ZM907.9 555.6L907.9 556.6L904 554.3L904 553.3ZM904 553.3L904 554.3L900 551.9L900 550.9ZM900 550.9L900 551.9L896 549.5L896 548.5ZM896 548.5L896 549.5L892 547.1L892 546.1ZM892 546.1L892 547.1L888 544.6L888 543.6ZM888 543.6L888 544.6L883.9 542.1L883.9 541.1ZM883.9 541.1L883.9 542.1L879.8 539.6L879.8 538.6ZM879.8 538.6L879.8 539.6L875.7 537.1L875.7 536.1ZM875.7 536.1L875.7 537.1L871.6 534.5L871.6 533.5ZM871.6 533.5L871.6 534.5L867.4 531.9L867.4 530.9ZM867.4 530.9L867.4 531.9L863.3 529.3L863.3 528.3ZM863.3 528.3L863.3 529.3L859 526.7L859 525.7ZM859 525.7L859 526.7L854.8 524L854.8 523ZM854.8 523L854.8 524L850.6 521.3L850.6 520.3ZM850.6 520.3L850.6 521.3L846.3 518.5L846.3 517.5ZM846.3 517.5L846.3 518.5L842 515.8L842 514.8ZM842 514.8L842 515.8L837.6 512.9L837.6 511.9ZM837.6 511.9L837.6 512.9L833.3 510.1L833.3 509.1ZM833.3 509.1L833.3 510.1L828.9 507.2L828.9 506.2ZM828.9 506.2L828.9 507.2L824.4 504.3L824.4 503.3ZM824.4 503.3L824.4 504.3L820 501.4L820 500.4ZM820 500.4L820 501.4L815.5 498.4L815.5 497.4ZM815.5 497.4L815.5 498.4L811 495.3L811 494.3ZM811 494.3L811 495.3L806.4 492.3L806.4 491.3ZM806.4 491.3L806.4 492.3L801.9 489.1L801.9 488.1ZM801.9 488.1L801.9 489.1L797.3 486L797.3 485ZM797.3 485L797.3 486L792.6 482.8L792.6 481.8ZM792.6 481.8L792.6 482.8L787.9 479.5L787.9 478.5ZM787.9 478.5L787.9 479.5L783.2 476.3L783.2 475.3ZM783.2 475.3L783.2 476.3L778.5 472.9L778.5 471.9ZM778.5 471.9L778.5 472.9L773.7 469.5L773.7 468.5ZM773.7 468.5L773.7 469.5L768.9 466.1L768.9 465.1ZM768.9 465.1L768.9 466.1L764 462.6L764 461.6ZM764 461.6L764 462.6L759.2 459.1L759.2 458.1ZM759.2 458.1L759.2 459.1L754.2 455.5L754.2 454.5ZM754.2 454.5L754.2 455.5L749.3 451.8L749.3 450.8ZM749.3 450.8L749.3 451.8L744.3 448.1L744.3 447.1ZM744.3 447.1L744.3 448.1L739.2 444.3L739.2 443.3ZM739.2 443.3L739.2 444.3L734.1 440.5L734.1 439.5ZM734.1 439.5L734.1 440.5L729 436.6L729 435.6ZM729 435.6L729 436.6L723.8 432.6L723.8 431.6ZM723.8 431.6L723.8 432.6L718.6 428.6L718.6 427.6ZM718.6 427.6L718.6 428.6L713.3 424.5L713.3 423.5ZM713.3 423.5L713.3 424.5L708 420.3L708 419.3ZM708 419.3L708 420.3L702.7 416.1L702.7 415.1ZM702.7 415.1L702.7 416.1L697.3 411.7L697.3 410.7ZM697.3 410.7L697.3 411.7L691.8 407.3L691.8 406.3ZM691.8 406.3L691.8 407.3L686.3 402.8L686.3 401.8ZM686.3 401.8L686.3 402.8L680.7 398.2L680.7 397.2ZM680.7 397.2L680.7 398.2L675.1 393.5L675.1 392.5ZM675.1 392.5L675.1 393.5L669.5 388.8L669.5 387.8ZM669.5 387.8L669.5 388.8L663.7 383.9L663.7 382.9ZM663.7 382.9L663.7 383.9L658 378.9L658 377.9ZM658 377.9L658 378.9L652.1 373.8L652.1 372.8ZM652.1 372.8L652.1 373.8L646.2 368.6L646.2 367.6ZM646.2 367.6L646.2 368.6L640.3 363.3L640.3 362.3ZM640.3 362.3L640.3 363.3L634.3 357.8L634.3 356.8ZM634.3 356.8L634.3 357.8L628.2 352.2L628.2 351.2ZM628.2 351.2L628.2 352.2L622 346.5L622 345.5ZM622 345.5L622 346.5L615.8 340.6L615.8 339.6ZM615.8 339.6L615.8 340.6L609.5 334.6L609.5 333.6ZM609.5 333.6L609.5 334.6L603.1 328.4L603.1 327.4ZM603.1 327.4L603.1 328.4L596.7 322L596.7 321ZM596.2 321.5L597.2 321.5L590.7 315L589.7 315ZM589.7 315L590.7 315L584 308.3L583 308.3ZM583 308.3L584 308.3L577.4 301.4L576.4 301.4ZM576.4 301.4L577.4 301.4L570.6 294.2L569.6 294.2ZM569.6 294.2L570.6 294.2L563.7 286.9L562.7 286.9ZM562.7 286.9L563.7 286.9L556.8 279.3L555.8 279.3ZM555.8 279.3L556.8 279.3L549.8 271.4L548.8 271.4ZM548.8 271.4L549.8 271.4L542.6 263.3L541.6 263.3ZM541.6 263.3L542.6 263.3L535.4 254.8L534.4 254.8ZM534.4 254.8L535.4 254.8L528.1 246.1L527.1 246.1ZM527.1 246.1L528.1 246.1L520.6 237L519.6 237ZM519.6 237L520.6 237L513.1 227.5L512.1 227.5ZM512.1 227.5L513.1 227.5L505.4 217.7L504.4 217.7ZM504.4 217.7L505.4 217.7L497.6 207.3L496.6 207.3ZM496.6 207.3L497.6 207.3L489.8 196.6L488.8 196.6ZM488.8 196.6L489.8 196.6L481.8 185.2L480.8 185.2ZM480.8 185.2L481.8 185.2L473.6 173.3L472.6 173.3ZM472.6 173.3L473.6 173.3L465.4 160.8L464.4 160.8ZM464.4 160.8L465.4 160.8L457 147.6L456 147.6ZM456 147.6L457 147.6L448.5 133.5L447.5 133.5ZM447.5 133.5L448.5 133.5L439.9 118.5L438.9 118.5ZM438.9 118.5L439.9 118.5L431.1 102.5L430.1 102.5ZM430.1 102.5L431.1 102.5L422.3 85.3L421.3 85.3ZM421.3 85.3L422.3 85.3L413.3 66.8L412.3 66.8ZM412.3 66.8L413.3 66.8L404.3 46.6L403.3 46.6ZM403.3 46.6L404.3 46.6L395.2 24.5L394.2 24.5ZM992 569.3L992 570.3L988 568.1L988 567.1ZM988 567.1L988 568.1L984 565.8L984 564.8ZM984 564.8L984 565.8L980 563.6L980 562.6ZM980 562.6L980 563.6L975.9 561.3L975.9 560.3ZM975.9 560.3L975.9 561.3L971.8 559L971.8 558ZM971.8 558L971.8 559L967.7 556.6L967.7 555.6ZM967.7 555.6L967.7 556.6L963.6 554.3L963.6 553.3ZM963.6 553.3L963.6 554.3L959.5 551.9L959.5 550.9ZM959.5 550.9L959.5 551.9L955.3 549.5L955.3 548.5ZM955.3 548.5L955.3 549.5L951.1 547.1L951.1 546.1ZM951.1 546.1L951.1 547.1L946.9 544.6L946.9 543.6ZM946.9 543.6L946.9 544.6L942.7 542.1L942.7 541.1ZM942.7 541.1L942.7 542.1L938.4 539.6L938.4 538.6ZM938.4 538.6L938.4 539.6L934.1 537.1L934.1 536.1ZM934.1 536.1L934.1 537.1L929.8 534.5L929.8 533.5ZM929.8 533.5L929.8 534.5L925.5 531.9L925.5 530.9ZM925.5 530.9L925.5 531.9L921.1 529.3L921.1 528.3ZM921.1 528.3L921.1 529.3L916.7 526.7L916.7 525.7ZM916.7 525.7L916.7 526.7L912.3 524L912.3 523ZM912.3 523L912.3 524L907.8 521.3L907.8 520.3ZM907.8 520.3L907.8 521.3L903.4 518.5L903.4 517.5ZM903.4 517.5L903.4 518.5L898.9 515.8L898.9 514.8ZM898.9 514.8L898.9 515.8L894.3 512.9L894.3 511.9ZM894.3 511.9L894.3 512.9L889.8 510.1L889.8 509.1ZM889.8 509.1L889.8 510.1L885.2 507.2L885.2 506.2ZM885.2 506.2L885.2 507.2L880.5 504.3L880.5 503.3ZM880.5 503.3L880.5 504.3L875.9 501.4L875.9 500.4ZM875.9 500.4L875.9 501.4L871.2 498.4L871.2 497.4ZM871.2 497.4L871.2 498.4L866.5 495.3L866.5 494.3ZM866.5 494.3L866.5 495.3L861.7 492.3L861.7 491.3ZM861.7 491.3L861.7 492.3L856.9 489.1L856.9 488.1ZM856.9 488.1L856.9 489.1L852.1 486L852.1 485ZM852.1 485L852.1 486L847.2 482.8L847.2 481.8ZM847.2 481.8L847.2 482.8L842.3 479.5L842.3 478.5ZM842.3 478.5L842.3 479.5L837.4 476.3L837.4 475.3ZM837.4 475.3L837.4 476.3L832.5 472.9L832.5 471.9ZM832.5 471.9L832.5 472.9L827.4 469.5L827.4 468.5ZM827.4 468.5L827.4 469.5L822.4 466.1L822.4 465.1ZM822.4 465.1L822.4 466.1L817.3 462.6L817.3 461.6ZM817.3 461.6L817.3 462.6L812.2 459.1L812.2 458.1ZM812.2 458.1L812.2 459.1L807 455.5L807 454.5ZM807 454.5L807 455.5L801.8 451.8L801.8 450.8ZM801.8 450.8L801.8 451.8L796.6 448.1L796.6 447.1ZM796.6 447.1L796.6 448.1L791.3 444.3L791.3 443.3ZM791.3 443.3L791.3 444.3L786 440.5L786 439.5ZM786 439.5L786 440.5L780.6 436.6L780.6 435.6ZM780.6 435.6L780.6 436.6L775.2 432.6L775.2 431.6ZM775.2 431.6L775.2 432.6L769.7 428.6L769.7 427.6ZM769.7 427.6L769.7 428.6L764.2 424.5L764.2 423.5ZM764.2 423.5L764.2 424.5L758.6 420.3L758.6 419.3ZM758.6 419.3L758.6 420.3L753 416.1L753 415.1ZM753 415.1L753 416.1L747.3 411.7L747.3 410.7ZM747.3 410.7L747.3 411.7L741.6 407.3L741.6 406.3ZM741.6 406.3L741.6 407.3L735.8 402.8L735.8 401.8ZM735.8 401.8L735.8 402.8L730 398.2L730 397.2ZM730 397.2L730 398.2L724.1 393.5L724.1 392.5ZM724.1 392.5L724.1 393.5L718.1 388.8L718.1 387.8ZM718.1 387.8L718.1 388.8L712.1 383.9L712.1 382.9ZM712.1 382.9L712.1 383.9L706 378.9L706 377.9ZM706 377.9L706 378.9L699.9 373.8L699.9 372.8ZM699.9 372.8L699.9 373.8L693.7 368.6L693.7 367.6ZM693.7 367.6L693.7 368.6L687.4 363.3L687.4 362.3ZM687.4 362.3L687.4 363.3L681.1 357.8L681.1 356.8ZM681.1 356.8L681.1 357.8L674.7 352.2L674.7 351.2ZM674.7 351.2L674.7 352.2L668.2 346.5L668.2 345.5ZM668.2 345.5L668.2 346.5L661.6 340.6L661.6 339.6ZM661.6 339.6L661.6 340.6L655 334.6L655 333.6ZM655 333.6L655 334.6L648.3 328.4L648.3 327.4ZM648.3 327.4L648.3 328.4L641.5 322L641.5 321ZM641.5 321L641.5 322L634.6 315.5L634.6 314.5ZM634.6 314.5L634.6 315.5L627.6 308.8L627.6 307.8ZM627.6 307.8L627.6 308.8L620.6 301.9L620.6 300.9ZM620.6 300.9L620.6 301.9L613.4 294.7L613.4 293.7ZM612.9 294.2L613.9 294.2L606.7 286.9L605.7 286.9ZM605.7 286.9L606.7 286.9L599.3 279.3L598.3 279.3ZM598.3 279.3L599.3 279.3L591.9 271.4L590.9 271.4ZM590.9 271.4L591.9 271.4L584.3 263.3L583.3 263.3ZM583.3 263.3L584.3 263.3L576.7 254.8L575.7 254.8ZM575.7 254.8L576.7 254.8L568.9 246.1L567.9 246.1ZM567.9 246.1L568.9 246.1L561 237L560 237ZM560 237L561 237L553 227.5L552 227.5ZM552 227.5L553 227.5L544.8 217.7L543.8 217.7ZM543.8 217.7L544.8 217.7L536.6 207.3L535.6 207.3ZM535.6 207.3L536.6 207.3L528.2 196.6L527.2 196.6ZM527.2 196.6L528.2 196.6L519.6 185.2L518.6 185.2ZM518.6 185.2L519.6 185.2L510.9 173.3L509.9 173.3ZM509.9 173.3L510.9 173.3L502.1 160.8L501.1 160.8ZM501.1 160.8L502.1 160.8L493.1 147.6L492.1 147.6ZM492.1 147.6L493.1 147.6L484 133.5L483 133.5ZM483 133.5L484 133.5L474.7 118.5L473.7 118.5ZM473.7 118.5L474.7 118.5L465.3 102.5L464.3 102.5ZM464.3 102.5L465.3 102.5L455.7 85.3L454.7 85.3ZM454.7 85.3L455.7 85.3L446 66.8L445 66.8ZM445 66.8L446 66.8L436.2 46.6L435.2 46.6ZM435.2 46.6L436.2 46.6L426.3 24.5L425.3 24.5ZM1052.8 569.3L1052.8 570.3L1048.7 568.1L1048.7 567.1ZM1048.7 567.1L1048.7 568.1L1044.5 565.8L1044.5 564.8ZM1044.5 564.8L1044.5 565.8L1040.3 563.6L1040.3 562.6ZM1040.3 562.6L1040.3 563.6L1036.1 561.3L1036.1 560.3ZM1036.1 560.3L1036.1 561.3L1031.8 559L1031.8 558ZM1031.8 558L1031.8 559L1027.6 556.6L1027.6 555.6ZM1027.6 555.6L1027.6 556.6L1023.3 554.3L1023.3 553.3ZM1023.3 553.3L1023.3 554.3L1019 551.9L1019 550.9ZM1019 550.9L1019 551.9L1014.6 549.5L1014.6 548.5ZM1014.6 548.5L1014.6 549.5L1010.2 547.1L1010.2 546.1ZM1010.2 546.1L1010.2 547.1L1005.9 544.6L1005.9 543.6ZM1005.9 543.6L1005.9 544.6L1001.4 542.1L1001.4 541.1ZM1001.4 541.1L1001.4 542.1L997 539.6L997 538.6ZM997 538.6L997 539.6L992.5 537.1L992.5 536.1ZM992.5 536.1L992.5 537.1L988 534.5L988 533.5ZM988 533.5L988 534.5L983.5 531.9L983.5 530.9ZM983.5 530.9L983.5 531.9L978.9 529.3L978.9 528.3ZM978.9 528.3L978.9 529.3L974.4 526.7L974.4 525.7ZM974.4 525.7L974.4 526.7L969.8 524L969.8 523ZM969.8 523L969.8 524L965.1 521.3L965.1 520.3ZM965.1 520.3L965.1 521.3L960.4 518.5L960.4 517.5ZM960.4 517.5L960.4 518.5L955.7 515.8L955.7 514.8ZM955.7 514.8L955.7 515.8L951 512.9L951 511.9ZM951 511.9L951 512.9L946.2 510.1L946.2 509.1ZM946.2 509.1L946.2 510.1L941.4 507.2L941.4 506.2ZM941.4 506.2L941.4 507.2L936.6 504.3L936.6 503.3ZM936.6 503.3L936.6 504.3L931.8 501.4L931.8 500.4ZM931.8 500.4L931.8 501.4L926.9 498.4L926.9 497.4ZM926.9 497.4L926.9 498.4L921.9 495.3L921.9 494.3ZM921.9 494.3L921.9 495.3L917 492.3L917 491.3ZM917 491.3L917 492.3L912 489.1L912 488.1ZM912 488.1L912 489.1L906.9 486L906.9 485ZM906.9 485L906.9 486L901.9 482.8L901.9 481.8ZM901.9 481.8L901.9 482.8L896.7 479.5L896.7 478.5ZM896.7 478.5L896.7 479.5L891.6 476.3L891.6 475.3ZM891.6 475.3L891.6 476.3L886.4 472.9L886.4 471.9ZM886.4 471.9L886.4 472.9L881.2 469.5L881.2 468.5ZM881.2 468.5L881.2 469.5L875.9 466.1L875.9 465.1ZM875.9 465.1L875.9 466.1L870.6 462.6L870.6 461.6ZM870.6 461.6L870.6 462.6L865.2 459.1L865.2 458.1ZM865.2 458.1L865.2 459.1L859.9 455.5L859.9 454.5ZM859.9 454.5L859.9 455.5L854.4 451.8L854.4 450.8ZM854.4 450.8L854.4 451.8L848.9 448.1L848.9 447.1ZM848.9 447.1L848.9 448.1L843.4 444.3L843.4 443.3ZM843.4 443.3L843.4 444.3L837.8 440.5L837.8 439.5ZM837.8 439.5L837.8 440.5L832.2 436.6L832.2 435.6ZM832.2 435.6L832.2 436.6L826.5 432.6L826.5 431.6ZM826.5 431.6L826.5 432.6L820.8 428.6L820.8 427.6ZM820.8 427.6L820.8 428.6L815 424.5L815 423.5ZM815 423.5L815 424.5L809.2 420.3L809.2 419.3ZM809.2 419.3L809.2 420.3L803.3 416.1L803.3 415.1ZM803.3 415.1L803.3 416.1L797.3 411.7L797.3 410.7ZM797.3 410.7L797.3 411.7L791.3 407.3L791.3 406.3ZM791.3 406.3L791.3 407.3L785.3 402.8L785.3 401.8ZM785.3 401.8L785.3 402.8L779.2 398.2L779.2 397.2ZM779.2 397.2L779.2 398.2L773 393.5L773 392.5ZM773 392.5L773 393.5L766.7 388.8L766.7 387.8ZM766.7 387.8L766.7 388.8L760.4 383.9L760.4 382.9ZM760.4 382.9L760.4 383.9L754.1 378.9L754.1 377.9ZM754.1 377.9L754.1 378.9L747.6 373.8L747.6 372.8ZM747.6 372.8L747.6 373.8L741.1 368.6L741.1 367.6ZM741.1 367.6L741.1 368.6L734.5 363.3L734.5 362.3ZM734.5 362.3L734.5 363.3L727.9 357.8L727.9 356.8ZM727.9 356.8L727.9 357.8L721.2 352.2L721.2 351.2ZM721.2 351.2L721.2 352.2L714.3 346.5L714.3 345.5ZM714.3 345.5L714.3 346.5L707.5 340.6L707.5 339.6ZM707.5 339.6L707.5 340.6L700.5 334.6L700.5 333.6ZM700.5 333.6L700.5 334.6L693.4 328.4L693.4 327.4ZM693.4 327.4L693.4 328.4L686.3 322L686.3 321ZM686.3 321L686.3 322L679 315.5L679 314.5ZM679 314.5L679 315.5L671.7 308.8L671.7 307.8ZM671.7 307.8L671.7 308.8L664.3 301.9L664.3 300.9ZM664.3 300.9L664.3 301.9L656.7 294.7L656.7 293.7ZM656.7 293.7L656.7 294.7L649.1 287.4L649.1 286.4ZM649.1 286.4L649.1 287.4L641.3 279.8L641.3 278.8ZM640.8 279.3L641.8 279.3L634 271.4L633 271.4ZM633 271.4L634 271.4L626 263.3L625 263.3ZM625 263.3L626 263.3L617.9 254.8L616.9 254.8ZM616.9 254.8L617.9 254.8L609.7 246.1L608.7 246.1ZM608.7 246.1L609.7 246.1L601.3 237L600.3 237ZM600.3 237L601.3 237L592.9 227.5L591.9 227.5ZM591.9 227.5L592.9 227.5L584.2 217.7L583.2 217.7ZM583.2 217.7L584.2 217.7L575.5 207.3L574.5 207.3ZM574.5 207.3L575.5 207.3L566.6 196.6L565.6 196.6ZM565.6 196.6L566.6 196.6L557.5 185.2L556.5 185.2ZM556.5 185.2L557.5 185.2L548.2 173.3L547.2 173.3ZM547.2 173.3L548.2 173.3L538.9 160.8L537.9 160.8ZM537.9 160.8L538.9 160.8L529.3 147.6L528.3 147.6ZM528.3 147.6L529.3 147.6L519.5 133.5L518.5 133.5ZM518.5 133.5L519.5 133.5L509.6 118.5L508.6 118.5ZM508.6 118.5L509.6 118.5L499.5 102.5L498.5 102.5ZM498.5 102.5L499.5 102.5L489.2 85.3L488.2 85.3ZM488.2 85.3L489.2 85.3L478.7 66.8L477.7 66.8ZM477.7 66.8L478.7 66.8L468.1 46.6L467.1 46.6ZM467.1 46.6L468.1 46.6L457.3 24.5L456.3 24.5ZM1113.7 569.3L1113.7 570.3L1109.3 568.1L1109.3 567.1ZM1109.3 567.1L1109.3 568.1L1105 565.8L1105 564.8ZM1105 564.8L1105 565.8L1100.6 563.6L1100.6 562.6ZM1100.6 562.6L1100.6 563.6L1096.2 561.3L1096.2 560.3ZM1096.2 560.3L1096.2 561.3L1091.8 559L1091.8 558ZM1091.8 558L1091.8 559L1087.4 556.6L1087.4 555.6ZM1087.4 555.6L1087.4 556.6L1082.9 554.3L1082.9 553.3ZM1082.9 553.3L1082.9 554.3L1078.4 551.9L1078.4 550.9ZM1078.4 550.9L1078.4 551.9L1073.9 549.5L1073.9 548.5ZM1073.9 548.5L1073.9 549.5L1069.4 547.1L1069.4 546.1ZM1069.4 546.1L1069.4 547.1L1064.8 544.6L1064.8 543.6ZM1064.8 543.6L1064.8 544.6L1060.2 542.1L1060.2 541.1ZM1060.2 541.1L1060.2 542.1L1055.6 539.6L1055.6 538.6ZM1055.6 538.6L1055.6 539.6L1050.9 537.1L1050.9 536.1ZM1050.9 536.1L1050.9 537.1L1046.2 534.5L1046.2 533.5ZM1046.2 533.5L1046.2 534.5L1041.5 531.9L1041.5 530.9ZM1041.5 530.9L1041.5 531.9L1036.8 529.3L1036.8 528.3ZM1036.8 528.3L1036.8 529.3L1032 526.7L1032 525.7ZM1032 525.7L1032 526.7L1027.2 524L1027.2 523ZM1027.2 523L1027.2 524L1022.4 521.3L1022.4 520.3ZM1022.4 520.3L1022.4 521.3L1017.5 518.5L1017.5 517.5ZM1017.5 517.5L1017.5 518.5L1012.6 515.8L1012.6 514.8ZM1012.6 514.8L1012.6 515.8L1007.7 512.9L1007.7 511.9ZM1007.7 511.9L1007.7 512.9L1002.7 510.1L1002.7 509.1ZM1002.7 509.1L1002.7 510.1L997.7 507.2L997.7 506.2ZM997.7 506.2L997.7 507.2L992.7 504.3L992.7 503.3ZM992.7 503.3L992.7 504.3L987.6 501.4L987.6 500.4ZM987.6 500.4L987.6 501.4L982.5 498.4L982.5 497.4ZM982.5 497.4L982.5 498.4L977.4 495.3L977.4 494.3ZM977.4 494.3L977.4 495.3L972.2 492.3L972.2 491.3ZM972.2 491.3L972.2 492.3L967 489.1L967 488.1ZM967 488.1L967 489.1L961.8 486L961.8 485ZM961.8 485L961.8 486L956.5 482.8L956.5 481.8ZM956.5 481.8L956.5 482.8L951.2 479.5L951.2 478.5ZM951.2 478.5L951.2 479.5L945.8 476.3L945.8 475.3ZM945.8 475.3L945.8 476.3L940.4 472.9L940.4 471.9ZM940.4 471.9L940.4 472.9L934.9 469.5L934.9 468.5ZM934.9 468.5L934.9 469.5L929.4 466.1L929.4 465.1ZM929.4 465.1L929.4 466.1L923.9 462.6L923.9 461.6ZM923.9 461.6L923.9 462.6L918.3 459.1L918.3 458.1ZM918.3 458.1L918.3 459.1L912.7 455.5L912.7 454.5ZM912.7 454.5L912.7 455.5L907 451.8L907 450.8ZM907 450.8L907 451.8L901.3 448.1L901.3 447.1ZM901.3 447.1L901.3 448.1L895.5 444.3L895.5 443.3ZM895.5 443.3L895.5 444.3L889.7 440.5L889.7 439.5ZM889.7 439.5L889.7 440.5L883.8 436.6L883.8 435.6ZM883.8 435.6L883.8 436.6L877.9 432.6L877.9 431.6ZM877.9 431.6L877.9 432.6L871.9 428.6L871.9 427.6ZM871.9 427.6L871.9 428.6L865.8 424.5L865.8 423.5ZM865.8 423.5L865.8 424.5L859.7 420.3L859.7 419.3ZM859.7 419.3L859.7 420.3L853.6 416.1L853.6 415.1ZM853.6 415.1L853.6 416.1L847.4 411.7L847.4 410.7ZM847.4 410.7L847.4 411.7L841.1 407.3L841.1 406.3ZM841.1 406.3L841.1 407.3L834.8 402.8L834.8 401.8ZM834.8 401.8L834.8 402.8L828.4 398.2L828.4 397.2ZM828.4 397.2L828.4 398.2L821.9 393.5L821.9 392.5ZM821.9 392.5L821.9 393.5L815.4 388.8L815.4 387.8ZM815.4 387.8L815.4 388.8L808.8 383.9L808.8 382.9ZM808.8 382.9L808.8 383.9L802.1 378.9L802.1 377.9ZM802.1 377.9L802.1 378.9L795.4 373.8L795.4 372.8ZM795.4 372.8L795.4 373.8L788.6 368.6L788.6 367.6ZM788.6 367.6L788.6 368.6L781.7 363.3L781.7 362.3ZM781.7 362.3L781.7 363.3L774.7 357.8L774.7 356.8ZM774.7 356.8L774.7 357.8L767.6 352.2L767.6 351.2ZM767.6 351.2L767.6 352.2L760.5 346.5L760.5 345.5ZM760.5 345.5L760.5 346.5L753.3 340.6L753.3 339.6ZM753.3 339.6L753.3 340.6L746 334.6L746 333.6ZM746 333.6L746 334.6L738.6 328.4L738.6 327.4ZM738.6 327.4L738.6 328.4L731.1 322L731.1 321ZM731.1 321L731.1 322L723.5 315.5L723.5 314.5ZM723.5 314.5L723.5 315.5L715.8 308.8L715.8 307.8ZM715.8 307.8L715.8 308.8L708 301.9L708 300.9ZM708 300.9L708 301.9L700 294.7L700 293.7ZM700 293.7L700 294.7L692 287.4L692 286.4ZM692 286.4L692 287.4L683.9 279.8L683.9 278.8ZM683.9 278.8L683.9 279.8L675.6 271.9L675.6 270.9ZM675.6 270.9L675.6 271.9L667.2 263.8L667.2 262.8ZM667.2 262.8L667.2 263.8L658.7 255.3L658.7 254.3ZM658.2 254.8L659.2 254.8L650.5 246.1L649.5 246.1ZM649.5 246.1L650.5 246.1L641.7 237L640.7 237ZM640.7 237L641.7 237L632.8 227.5L631.8 227.5ZM631.8 227.5L632.8 227.5L623.6 217.7L622.6 217.7ZM622.6 217.7L623.6 217.7L614.4 207.3L613.4 207.3ZM613.4 207.3L614.4 207.3L605 196.6L604 196.6ZM604 196.6L605 196.6L595.3 185.2L594.3 185.2ZM594.3 185.2L595.3 185.2L585.6 173.3L584.6 173.3ZM584.6 173.3L585.6 173.3L575.6 160.8L574.6 160.8ZM574.6 160.8L575.6 160.8L565.4 147.6L564.4 147.6ZM564.4 147.6L565.4 147.6L555.1 133.5L554.1 133.5ZM554.1 133.5L555.1 133.5L544.5 118.5L543.5 118.5ZM543.5 118.5L544.5 118.5L533.7 102.5L532.7 102.5ZM532.7 102.5L533.7 102.5L522.7 85.3L521.7 85.3ZM521.7 85.3L522.7 85.3L511.5 66.8L510.5 66.8ZM510.5 66.8L511.5 66.8L500 46.6L499 46.6ZM499 46.6L500 46.6L488.4 24.5L487.4 24.5Z" fill="#00B400"/></g><g clip-path="url(#bx)"><path d="M258.5 569.8L259.5 569.8L258.8 568.7L257.8 568.7ZM257.8 568.7L258.8 568.7L258.1 567.6L257.1 567.6ZM257.1 567.6L258.1 567.6L257.4 566.4L256.4 566.4ZM256.4 566.4L257.4 566.4L256.7 565.3L255.7 565.3ZM255.7 565.3L256.7 565.3L256.1 564.3L255.1 564.3ZM252.1 559.7L253.1 559.7L253.1 559.6L252.1 559.6ZM252.1 559.6L253.1 559.6L252.3 558.5L251.3 558.5ZM251.3 558.5L252.3 558.5L251.6 557.3L250.6 557.3ZM250.6 557.3L251.6 557.3L250.8 556.1L249.8 556.1ZM249.8 556.1L250.8 556.1L250.1 555L249.1 555ZM249.1 555L250.1 555L249.3 553.8L248.3 553.8ZM248.3 553.8L249.3 553.8L248.8 553L247.8 553ZM244.8 548.4L245.8 548.4L245.4 547.8L244.4 547.8ZM244.4 547.8L245.4 547.8L244.6 546.6L243.6 546.6ZM243.6 546.6L244.6 546.6L243.8 545.4L242.8 545.4ZM242.8 545.4L243.8 545.4L242.9 544.1L241.9 544.1ZM241.9 544.1L242.9 544.1L242.1 542.9L241.1 542.9ZM241.1 542.9L242.1 542.9L241.3 541.6L240.3 541.6ZM240.3 541.6L241.3 541.6L241 541.2L240 541.2ZM236.9 536.6L237.9 536.6L237.1 535.3L236.1 535.3ZM236.1 535.3L237.1 535.3L236.2 534L235.2 534ZM235.2 534L236.2 534L235.4 532.7L234.4 532.7ZM234.4 532.7L235.4 532.7L234.5 531.4L233.5 531.4ZM233.5 531.4L234.5 531.4L233.6 530.1L232.6 530.1ZM232.6 530.1L233.6 530.1L232.7 528.8L231.7 528.8ZM231.7 528.8L232.7 528.8L232.6 528.6L231.6 528.6ZM228.5 524.1L229.5 524.1L229.1 523.5L228.1 523.5ZM228.1 523.5L229.1 523.5L228.2 522.1L227.2 522.1ZM227.2 522.1L228.2 522.1L227.3 520.8L226.3 520.8ZM226.3 520.8L227.3 520.8L226.4 519.4L225.4 519.4ZM225.4 519.4L226.4 519.4L225.5 518L224.5 518ZM224.5 518L225.5 518L224.5 516.7L223.5 516.7ZM223.5 516.7L224.5 516.7L223.7 515.4L222.7 515.4ZM219.6 510.8L220.6 510.8L219.8 509.6L218.8 509.6ZM218.8 509.6L219.8 509.6L218.8 508.2L217.8 508.2ZM217.8 508.2L218.8 508.2L217.8 506.7L216.8 506.7ZM216.8 506.7L217.8 506.7L216.8 505.3L215.8 505.3ZM215.8 505.3L216.8 505.3L215.9 503.8L214.9 503.8ZM214.9 503.8L215.9 503.8L214.9 502.3L213.9 502.3ZM213.9 502.3L214.9 502.3L214.2 501.3L213.2 501.3ZM210.1 496.8L211.1 496.8L210.8 496.3L209.8 496.3ZM209.8 496.3L210.8 496.3L209.8 494.8L208.8 494.8ZM208.8 494.8L209.8 494.8L208.8 493.3L207.8 493.3ZM207.8 493.3L208.8 493.3L207.8 491.8L206.8 491.8ZM206.8 491.8L207.8 491.8L206.7 490.2L205.7 490.2ZM205.7 490.2L206.7 490.2L205.7 488.6L204.7 488.6ZM204.7 488.6L205.7 488.6L204.6 487.1L203.6 487.1ZM203.6 487.1L204.6 487.1L204.2 486.3L203.2 486.3ZM200.1 481.8L201.1 481.8L200.4 480.7L199.4 480.7ZM199.4 480.7L200.4 480.7L199.3 479L198.3 479ZM198.3 479L199.3 479L198.3 477.4L197.3 477.4ZM197.3 477.4L198.3 477.4L197.6 476.3L196.6 476.3ZM196.2 475.8L197.2 475.8L196.1 474.1L195.1 474.1ZM195.1 474.1L196.1 474.1L195 472.4L194 472.4ZM194 472.4L195 472.4L193.9 470.7L192.9 470.7ZM192.9 470.7L193.9 470.7L193.6 470.3L192.6 470.3ZM189.6 465.7L190.6 465.7L190.6 465.6L189.6 465.6ZM189.6 465.6L190.6 465.6L189.5 463.9L188.5 463.9ZM188.5 463.9L189.5 463.9L188.4 462.1L187.4 462.1ZM187.4 462.1L188.4 462.1L187.2 460.3L186.2 460.3ZM186.2 460.3L187.2 460.3L187.1 460.2L186.1 460.2ZM185.1 458.6L186.1 458.6L185 456.8L184 456.8ZM184 456.8L185 456.8L183.8 455L182.8 455ZM182.8 455L183.8 455L182.7 453.2L181.7 453.2ZM181.7 453.2L182.7 453.2L182.6 453.1L181.6 453.1ZM178.7 448.4L179.7 448.4L179.2 447.6L178.2 447.6ZM178.2 447.6L179.2 447.6L178 445.7L177 445.7ZM177 445.7L178 445.7L176.9 443.8L175.9 443.8ZM175.9 443.8L176.9 443.8L176.3 442.9L175.3 442.9ZM173.5 440L174.5 440L173.4 438.1L172.4 438.1ZM172.4 438.1L173.4 438.1L172.2 436.1L171.2 436.1ZM171.2 436.1L172.2 436.1L171.2 434.4L170.2 434.4ZM167.3 429.7L168.3 429.7L167.4 428.1L166.4 428.1ZM166.4 428.1L167.4 428.1L166.2 426.1L165.2 426.1ZM165.2 426.1L166.2 426.1L165 424.1L164 424.1ZM161.5 419.8L162.5 419.8L161.3 417.7L160.3 417.7ZM160.3 417.7L161.3 417.7L160.1 415.6L159.1 415.6ZM159.1 415.6L160.1 415.6L159.3 414.2L158.3 414.2ZM155.6 409.4L156.6 409.4L156.4 409L155.4 409ZM155.4 409L156.4 409L155.2 406.8L154.2 406.8ZM154.2 406.8L155.2 406.8L153.9 404.6L152.9 404.6ZM152.9 404.6L153.9 404.6L153.5 403.7L152.5 403.7ZM149.8 398.9L150.8 398.9L150.2 397.7L149.2 397.7ZM149.2 397.7L150.2 397.7L148.9 395.4L147.9 395.4ZM147.9 395.4L148.9 395.4L147.7 393L146.7 393ZM146.7 393L147.7 393L147.1 392L146.1 392ZM143.5 387.1L144.5 387.1L143.9 385.8L142.9 385.8ZM142.9 385.8L143.9 385.8L142.6 383.4L141.6 383.4ZM141.6 383.4L142.6 383.4L141.6 381.4L140.6 381.4ZM138.1 376.5L139.1 376.5L138.8 375.9L137.8 375.9ZM137.8 375.9L138.8 375.9L137.5 373.3L136.5 373.3ZM136.5 373.3L137.5 373.3L136.2 370.7L135.2 370.7ZM135.2 370.7L136.2 370.7L134.9 368.1L133.9 368.1ZM133.9 368.1L134.9 368.1L134.6 367.5L133.6 367.5ZM131.2 362.5L132.2 362.5L131 360L130 360ZM130 360L131 360L129.7 357.3L128.7 357.3ZM128.7 357.3L129.7 357.3L129.4 356.6L128.4 356.6ZM126.1 351.7L127.1 351.7L125.8 348.9L124.8 348.9ZM124.8 348.9L125.8 348.9L124.5 346L123.5 346ZM123.5 346L124.5 346L123.2 343.1L122.2 343.1ZM122.2 343.1L123.2 343.1L121.9 340.1L120.9 340.1ZM120.9 340.1L121.9 340.1L121.9 340L120.9 340ZM118.7 335L119.7 335L119.3 334.1L118.3 334.1ZM118.3 334.1L119.3 334.1L118 331L117 331ZM117 331L118 331L117.1 329L116.1 329ZM114 323.9L115 323.9L114 321.5L113 321.5ZM113 321.5L114 321.5L112.7 318.3L111.7 318.3ZM111.7 318.3L112.7 318.3L112.6 317.9L111.6 317.9ZM110.4 315L111.4 315L110.1 311.7L109.1 311.7ZM109.1 311.7L110.1 311.7L109 309L108 309ZM106.1 303.8L107.1 303.8L106.1 301.4L105.1 301.4ZM105.1 301.4L106.1 301.4L104.8 297.8L103.8 297.8ZM103.8 297.8L104.8 297.8L104.8 297.7L103.8 297.7ZM101.9 292.6L102.9 292.6L102.2 290.6L101.2 290.6ZM101.2 290.6L102.2 290.6L100.9 286.9L99.9 286.9ZM99.9 286.9L100.9 286.9L100.7 286.4L99.7 286.4ZM97.9 281.2L98.9 281.2L98.3 279.3L97.3 279.3ZM97.3 279.3L98.3 279.3L97 275.4L96 275.4ZM96 275.4L97 275.4L96.2 273.1L95.2 273.1ZM93.5 267.9L94.5 267.9L94.4 267.4L93.4 267.4ZM93.4 267.4L94.4 267.4L93.1 263.3L92.1 263.3ZM92.1 263.3L93.1 263.3L92.6 261.7L91.6 261.7ZM90 256.4L91 256.4L90.5 254.8L89.5 254.8ZM89.5 254.8L90.5 254.8L89.2 250.5L88.2 250.5ZM88.2 250.5L89.2 250.5L89.1 250.2L88.1 250.2ZM86.6 244.9L87.6 244.9L86.7 241.6L85.7 241.6ZM85.7 241.6L86.7 241.6L85.9 238.6L84.9 238.6ZM84.5 237L85.5 237L84.2 232.3L83.2 232.3ZM83.2 232.3L84.2 232.3L83.8 230.7L82.8 230.7ZM81.4 225.4L82.4 225.4L81.7 222.6L80.7 222.6ZM80.7 222.6L81.7 222.6L80.9 219.1L79.9 219.1ZM78.6 213.7L79.6 213.7L79.3 212.6L78.3 212.6ZM78.3 212.6L79.3 212.6L78.1 207.4L77.1 207.4ZM76 202L77 202L75.8 196.6L74.8 196.6ZM74.8 196.6L75.8 196.6L75.6 195.6L74.6 195.6ZM73.5 190.3L74.5 190.3L73.6 185.2L72.6 185.2ZM72.6 185.2L73.6 185.2L72.5 179.4L71.5 179.4ZM71.5 179.4L72.5 179.4L72.4 178.9L71.4 178.9ZM70.4 173.4L71.4 173.4L71.4 173.3L70.4 173.3ZM70.4 173.3L71.4 173.3L70.3 167.2L69.3 167.2ZM69.3 167.2L70.3 167.2L70.3 167L69.3 167ZM68.4 161.6L69.4 161.6L69.3 160.8L68.3 160.8ZM68.3 160.8L69.3 160.8L68.5 155.2L67.5 155.2ZM66.7 149.7L67.7 149.7L67.4 147.6L66.4 147.6ZM66.4 147.6L67.4 147.6L66.8 143.3L65.8 143.3ZM65.1 137.8L66.1 137.8L65.6 133.5L64.6 133.5ZM64.6 133.5L65.6 133.5L65.3 131.4L64.3 131.4ZM63.7 125.9L64.7 125.9L64.1 119.4L63.1 119.4ZM317.1 569.8L318.1 569.8L317.6 568.7L316.6 568.7ZM316.6 568.7L317.6 568.7L317 567.6L316 567.6ZM316 567.6L317 567.6L316.4 566.4L315.4 566.4ZM315.4 566.4L316.4 566.4L315.9 565.3L314.9 565.3ZM314.9 565.3L315.9 565.3L315.3 564.2L314.3 564.2ZM314.3 564.2L315.3 564.2L315.2 564L314.2 564ZM311.7 559.1L312.7 559.1L312.3 558.5L311.3 558.5ZM311.3 558.5L312.3 558.5L311.7 557.3L310.7 557.3ZM310.7 557.3L311.7 557.3L311.1 556.1L310.1 556.1ZM310.1 556.1L311.1 556.1L310.5 555L309.5 555ZM309.5 555L310.5 555L309.8 553.8L308.8 553.8ZM308.8 553.8L309.8 553.8L309.3 552.7L308.3 552.7ZM305.6 547.9L306.6 547.9L306.6 547.8L305.6 547.8ZM305.6 547.8L306.6 547.8L305.9 546.6L304.9 546.6ZM304.9 546.6L305.9 546.6L305.2 545.4L304.2 545.4ZM304.2 545.4L305.2 545.4L304.5 544.1L303.5 544.1ZM303.5 544.1L304.5 544.1L303.8 542.9L302.8 542.9ZM302.8 542.9L303.8 542.9L303.1 541.6L302.1 541.6ZM302.1 541.6L303.1 541.6L302.7 540.9L301.7 540.9ZM299 536.1L300 536.1L299.5 535.3L298.5 535.3ZM298.5 535.3L299.5 535.3L298.8 534L297.8 534ZM297.8 534L298.8 534L298 532.7L297 532.7ZM297 532.7L298 532.7L297.2 531.4L296.2 531.4ZM296.2 531.4L297.2 531.4L296.5 530.1L295.5 530.1ZM295.5 530.1L296.5 530.1L295.7 528.8L294.7 528.8ZM294.7 528.8L295.7 528.8L295.5 528.4L294.5 528.4ZM291.6 523.7L292.6 523.7L292.5 523.5L291.5 523.5ZM291.5 523.5L292.5 523.5L291.7 522.1L290.7 522.1ZM290.7 522.1L291.7 522.1L290.8 520.8L289.8 520.8ZM289.8 520.8L290.8 520.8L290 519.4L289 519.4ZM289 519.4L290 519.4L289.2 518L288.2 518ZM288.2 518L289.2 518L288.3 516.7L287.3 516.7ZM287.3 516.7L288.3 516.7L287.4 515.3L286.4 515.3ZM286.4 515.3L287.4 515.3L287.4 515.2L286.4 515.2ZM283.5 510.6L284.5 510.6L283.9 509.6L282.9 509.6ZM282.9 509.6L283.9 509.6L283 508.2L282 508.2ZM282 508.2L283 508.2L282.1 506.7L281.1 506.7ZM281.1 506.7L282.1 506.7L281.2 505.3L280.2 505.3ZM280.2 505.3L281.2 505.3L280.2 503.8L279.2 503.8ZM279.2 503.8L280.2 503.8L279.3 502.3L278.3 502.3ZM278.3 502.3L279.3 502.3L278.6 501.2L277.6 501.2ZM274.6 496.6L275.6 496.6L275.5 496.3L274.5 496.3ZM274.5 496.3L275.5 496.3L274.5 494.8L273.5 494.8ZM273.5 494.8L274.5 494.8L273.5 493.3L272.5 493.3ZM272.5 493.3L273.5 493.3L272.5 491.8L271.5 491.8ZM271.5 491.8L272.5 491.8L271.5 490.2L270.5 490.2ZM270.5 490.2L271.5 490.2L270.5 488.6L269.5 488.6ZM269.5 488.6L270.5 488.6L269.4 487.1L268.4 487.1ZM268.4 487.1L269.4 487.1L269 486.3L268 486.3ZM264.9 481.7L265.9 481.7L265.3 480.7L264.3 480.7ZM264.3 480.7L265.3 480.7L264.2 479L263.2 479ZM263.2 479L264.2 479L263.1 477.4L262.1 477.4ZM262.1 477.4L263.1 477.4L262.4 476.3L261.4 476.3ZM261 475.8L262 475.8L260.9 474.1L259.9 474.1ZM259.9 474.1L260.9 474.1L259.8 472.4L258.8 472.4ZM258.8 472.4L259.8 472.4L258.7 470.7L257.7 470.7ZM257.7 470.7L258.7 470.7L258.5 470.3L257.5 470.3ZM254.4 465.7L255.4 465.7L255.3 465.6L254.3 465.6ZM254.3 465.6L255.3 465.6L254.2 463.9L253.2 463.9ZM253.2 463.9L254.2 463.9L253 462.1L252 462.1ZM252 462.1L253 462.1L251.9 460.3L250.9 460.3ZM250.9 460.3L251.9 460.3L251.9 460.3L250.9 460.3ZM249.7 458.6L250.7 458.6L249.5 456.8L248.5 456.8ZM248.5 456.8L249.5 456.8L248.4 455L247.4 455ZM247.4 455L248.4 455L247.2 453.2L246.2 453.2ZM246.2 453.2L247.2 453.2L247.1 453.1L246.1 453.1ZM243.1 448.5L244.1 448.5L243.5 447.6L242.5 447.6ZM242.5 447.6L243.5 447.6L242.3 445.7L241.3 445.7ZM241.3 445.7L242.3 445.7L241.1 443.8L240.1 443.8ZM240.1 443.8L241.1 443.8L240.6 443.1L239.6 443.1ZM237.6 440L238.6 440L237.3 438.1L236.3 438.1ZM236.3 438.1L237.3 438.1L236.1 436.1L235.1 436.1ZM235.1 436.1L236.1 436.1L235 434.6L234 434.6ZM231.1 429.9L232.1 429.9L230.9 428.1L229.9 428.1ZM229.9 428.1L230.9 428.1L229.6 426.1L228.6 426.1ZM228.6 426.1L229.6 426.1L228.6 424.4L227.6 424.4ZM224.7 419.8L225.7 419.8L224.3 417.7L223.3 417.7ZM223.3 417.7L224.3 417.7L223 415.6L222 415.6ZM222 415.6L223 415.6L222.2 414.3L221.2 414.3ZM218.3 409.7L219.3 409.7L218.9 409L217.9 409ZM217.9 409L218.9 409L217.6 406.8L216.6 406.8ZM216.6 406.8L217.6 406.8L216.2 404.6L215.2 404.6ZM215.2 404.6L216.2 404.6L215.9 404.1L214.9 404.1ZM212 399.4L213 399.4L212 397.7L211 397.7ZM211 397.7L212 397.7L210.6 395.4L209.6 395.4ZM209.6 395.4L210.6 395.4L209.2 393L208.2 393ZM208.2 393L209.2 393L208.7 392.1L207.7 392.1ZM204.9 387.4L205.9 387.4L205 385.8L204 385.8ZM204 385.8L205 385.8L203.5 383.4L202.5 383.4ZM202.5 383.4L203.5 383.4L202.6 381.8L201.6 381.8ZM198.9 377L199.9 377L199.2 375.9L198.2 375.9ZM198.2 375.9L199.2 375.9L197.8 373.3L196.8 373.3ZM196.8 373.3L197.8 373.3L196.3 370.7L195.3 370.7ZM195.3 370.7L196.3 370.7L194.9 368.1L193.9 368.1ZM193.9 368.1L194.9 368.1L194.6 367.6L193.6 367.6ZM190.9 362.8L191.9 362.8L191.9 362.8L190.9 362.8ZM190.9 362.8L191.9 362.8L190.4 360L189.4 360ZM189.4 360L190.4 360L189 357.3L188 357.3ZM188 357.3L189 357.3L188.8 357.1L187.8 357.1ZM185.3 352.2L186.3 352.2L186 351.7L185 351.7ZM185 351.7L186 351.7L184.5 348.9L183.5 348.9ZM183.5 348.9L184.5 348.9L183.2 346.5L182.2 346.5ZM182 346L183 346L181.5 343.1L180.5 343.1ZM180.5 343.1L181.5 343.1L180 340.2L179 340.2ZM176.5 335.3L177.5 335.3L176.9 334.1L175.9 334.1ZM175.9 334.1L176.9 334.1L175.4 331L174.4 331ZM174.4 331L175.4 331L174.6 329.5L173.6 329.5ZM171.2 324.5L172.2 324.5L170.8 321.5L169.8 321.5ZM169.8 321.5L170.8 321.5L169.4 318.6L168.4 318.6ZM166.7 315L167.7 315L166.2 311.7L165.2 311.7ZM165.2 311.7L166.2 311.7L165 309.1L164 309.1ZM161.8 304.1L162.8 304.1L161.6 301.4L160.6 301.4ZM160.6 301.4L161.6 301.4L160.2 298.1L159.2 298.1ZM157 293.1L158 293.1L156.9 290.6L155.9 290.6ZM155.9 290.6L156.9 290.6L155.4 287.1L154.4 287.1ZM152.4 282L153.4 282L152.2 279.3L151.2 279.3ZM151.2 279.3L152.2 279.3L150.7 275.4L149.7 275.4ZM149.7 275.4L150.7 275.4L149.8 273.2L148.8 273.2ZM146.8 268.1L147.8 268.1L147.6 267.4L146.6 267.4ZM146.6 267.4L147.6 267.4L146 263.3L145 263.3ZM145 263.3L146 263.3L145.5 262L144.5 262ZM142.6 256.9L143.6 256.9L142.9 254.8L141.9 254.8ZM141.9 254.8L142.9 254.8L141.4 250.8L140.4 250.8ZM138.6 245.6L139.6 245.6L138.2 241.6L137.2 241.6ZM137.2 241.6L138.2 241.6L137.5 239.4L136.5 239.4ZM135.7 237L136.7 237L135.1 232.3L134.1 232.3ZM134.1 232.3L135.1 232.3L134.7 230.8L133.7 230.8ZM132 225.6L133 225.6L132.1 222.6L131.1 222.6ZM131.1 222.6L132.1 222.6L131.1 219.4L130.1 219.4ZM128.5 214.1L129.5 214.1L129 212.6L128 212.6ZM128 212.6L129 212.6L127.7 207.8L126.7 207.8ZM125.2 202.6L126.2 202.6L126 202L125 202ZM125 202L126 202L124.6 196.6L123.6 196.6ZM123.6 196.6L124.6 196.6L124.5 196.3L123.5 196.3ZM122.1 191L123.1 191L121.6 185.2L120.6 185.2ZM120.6 185.2L121.6 185.2L120.2 179.4L119.2 179.4ZM119.2 179.4L120.2 179.4L120.1 178.9L119.1 178.9ZM117.8 173.6L118.8 173.6L118.8 173.3L117.8 173.3ZM117.8 173.3L118.8 173.3L117.4 167.2L116.4 167.2ZM115.2 161.9L116.2 161.9L116 160.8L115 160.8ZM115 160.8L116 160.8L114.9 155.5L113.9 155.5ZM112.8 150.1L113.8 150.1L113.3 147.6L112.3 147.6ZM112.3 147.6L113.3 147.6L112.5 143.7L111.5 143.7ZM110.5 138.3L111.5 138.3L110.7 133.5L109.7 133.5ZM109.7 133.5L110.7 133.5L110.4 131.9L109.4 131.9ZM108.5 126.5L109.5 126.5L109.4 126.1L108.4 126.1ZM108.4 126.1L109.4 126.1L108.5 120.1L107.5 120.1ZM375 569.8L376 569.8L375.7 568.7L374.7 568.7ZM374.7 568.7L375.7 568.7L375.3 567.6L374.3 567.6ZM374.3 567.6L375.3 567.6L375 566.4L374 566.4ZM374 566.4L375 566.4L374.6 565.3L373.6 565.3ZM373.6 565.3L374.6 565.3L374.2 564.2L373.2 564.2ZM373.2 564.2L374.2 564.2L374 563.6L373 563.6ZM371.3 558.5L372.3 558.5L371.9 557.3L370.9 557.3ZM370.9 557.3L371.9 557.3L371.5 556.1L370.5 556.1ZM370.5 556.1L371.5 556.1L371.1 555L370.1 555ZM370.1 555L371.1 555L370.7 553.8L369.7 553.8ZM369.7 553.8L370.7 553.8L370.3 552.6L369.3 552.6ZM369.3 552.6L370.3 552.6L370.2 552.3L369.2 552.3ZM367.3 547.2L368.3 547.2L368.1 546.6L367.1 546.6ZM367.1 546.6L368.1 546.6L367.6 545.4L366.6 545.4ZM366.6 545.4L367.6 545.4L367.1 544.1L366.1 544.1ZM366.1 544.1L367.1 544.1L366.7 542.9L365.7 542.9ZM365.7 542.9L366.7 542.9L366.2 541.6L365.2 541.6ZM365.2 541.6L366.2 541.6L365.7 540.5L364.7 540.5ZM362.7 535.4L363.7 535.4L363.6 535.3L362.6 535.3ZM362.6 535.3L363.6 535.3L363.1 534L362.1 534ZM362.1 534L363.1 534L362.6 532.7L361.6 532.7ZM361.6 532.7L362.6 532.7L362 531.4L361 531.4ZM361 531.4L362 531.4L361.5 530.1L360.5 530.1ZM360.5 530.1L361.5 530.1L360.9 528.8L359.9 528.8ZM359.9 528.8L360.9 528.8L360.6 528L359.6 528ZM357.4 523L358.4 523L358 522.1L357 522.1ZM357 522.1L358 522.1L357.4 520.8L356.4 520.8ZM356.4 520.8L357.4 520.8L356.8 519.4L355.8 519.4ZM355.8 519.4L356.8 519.4L356.2 518L355.2 518ZM355.2 518L356.2 518L355.5 516.7L354.5 516.7ZM354.5 516.7L355.5 516.7L354.9 515.3L353.9 515.3ZM353.9 515.3L354.9 515.3L354.7 514.9L353.7 514.9ZM351.3 509.9L352.3 509.9L352.2 509.6L351.2 509.6ZM351.2 509.6L352.2 509.6L351.5 508.2L350.5 508.2ZM350.5 508.2L351.5 508.2L350.8 506.7L349.8 506.7ZM349.8 506.7L350.8 506.7L350.1 505.3L349.1 505.3ZM349.1 505.3L350.1 505.3L349.3 503.8L348.3 503.8ZM348.3 503.8L349.3 503.8L348.6 502.3L347.6 502.3ZM347.6 502.3L348.6 502.3L347.9 500.9L346.9 500.9ZM344.4 496L345.4 496L344.8 494.8L343.8 494.8ZM343.8 494.8L344.8 494.8L344 493.3L343 493.3ZM343 493.3L344 493.3L343.1 491.8L342.1 491.8ZM342.1 491.8L343.1 491.8L342.3 490.2L341.3 490.2ZM341.3 490.2L342.3 490.2L341.5 488.6L340.5 488.6ZM340.5 488.6L341.5 488.6L340.6 487.1L339.6 487.1ZM339.6 487.1L340.6 487.1L340.1 486L339.1 486ZM336.4 481.2L337.4 481.2L337.1 480.7L336.1 480.7ZM336.1 480.7L337.1 480.7L336.2 479L335.2 479ZM335.2 479L336.2 479L335.3 477.4L334.3 477.4ZM334.3 477.4L335.3 477.4L334.3 475.8L333.3 475.8ZM333.3 475.8L334.3 475.8L333.4 474.1L332.4 474.1ZM332.4 474.1L333.4 474.1L332.4 472.4L331.4 472.4ZM331.4 472.4L332.4 472.4L331.5 470.7L330.5 470.7ZM330.5 470.7L331.5 470.7L331.1 470.1L330.1 470.1ZM327.3 465.4L328.3 465.4L327.4 463.9L326.4 463.9ZM326.4 463.9L327.4 463.9L326.4 462.1L325.4 462.1ZM325.4 462.1L326.4 462.1L325.3 460.3L324.3 460.3ZM324.3 460.3L325.3 460.3L325 459.8L324 459.8ZM323.3 458.6L324.3 458.6L323.2 456.8L322.2 456.8ZM322.2 456.8L323.2 456.8L322.1 455L321.1 455ZM321.1 455L322.1 455L321 453.2L320 453.2ZM320 453.2L321 453.2L320.9 453L319.9 453ZM317 448.3L318 448.3L317.6 447.6L316.6 447.6ZM316.6 447.6L317.6 447.6L316.4 445.7L315.4 445.7ZM315.4 445.7L316.4 445.7L315.3 443.8L314.3 443.8ZM314.3 443.8L315.3 443.8L314.6 442.8L313.6 442.8ZM311.9 440L312.9 440L311.7 438.1L310.7 438.1ZM310.7 438.1L311.7 438.1L310.4 436.1L309.4 436.1ZM309.4 436.1L310.4 436.1L309.4 434.5L308.4 434.5ZM305.5 429.9L306.5 429.9L305.4 428.1L304.4 428.1ZM304.4 428.1L305.4 428.1L304.1 426.1L303.1 426.1ZM303.1 426.1L304.1 426.1L303 424.4L302 424.4ZM299.1 419.8L300.1 419.8L298.7 417.7L297.7 417.7ZM297.7 417.7L298.7 417.7L297.4 415.6L296.4 415.6ZM296.4 415.6L297.4 415.6L296.6 414.4L295.6 414.4ZM292.6 409.7L293.6 409.7L293.2 409L292.2 409ZM292.2 409L293.2 409L291.8 406.8L290.8 406.8ZM290.8 406.8L291.8 406.8L290.3 404.6L289.3 404.6ZM289.3 404.6L290.3 404.6L290.1 404.2L289.1 404.2ZM286.2 399.6L287.2 399.6L286 397.7L285 397.7ZM285 397.7L286 397.7L284.5 395.4L283.5 395.4ZM283.5 395.4L284.5 395.4L283 393L282 393ZM282 393L283 393L282.5 392.2L281.5 392.2ZM278.5 387.6L279.5 387.6L278.4 385.8L277.4 385.8ZM277.4 385.8L278.4 385.8L276.8 383.4L275.8 383.4ZM275.8 383.4L276.8 383.4L276 382.1L275 382.1ZM272.1 377.4L273.1 377.4L272.1 375.9L271.1 375.9ZM271.1 375.9L272.1 375.9L270.5 373.3L269.5 373.3ZM269.5 373.3L270.5 373.3L268.9 370.7L267.9 370.7ZM267.9 370.7L268.9 370.7L267.3 368.1L266.3 368.1ZM266.3 368.1L267.3 368.1L267.1 367.8L266.1 367.8ZM263.2 363.1L264.2 363.1L264 362.8L263 362.8ZM263 362.8L264 362.8L262.4 360L261.4 360ZM261.4 360L262.4 360L260.9 357.5L259.9 357.5ZM257 352.8L258 352.8L257.4 351.7L256.4 351.7ZM256.4 351.7L257.4 351.7L255.7 348.9L254.7 348.9ZM254.7 348.9L255.7 348.9L254.7 347.2L253.7 347.2ZM253 346L254 346L252.3 343.1L251.3 343.1ZM251.3 343.1L252.3 343.1L250.7 340.4L249.7 340.4ZM247 335.6L248 335.6L247.1 334.1L246.1 334.1ZM246.1 334.1L247.1 334.1L245.3 331L244.3 331ZM244.3 331L245.3 331L244.7 330L243.7 330ZM241 325.2L242 325.2L241.8 324.7L240.8 324.7ZM240.8 324.7L241.8 324.7L240 321.5L239 321.5ZM239 321.5L240 321.5L238.9 319.5L237.9 319.5ZM235.5 315L236.5 315L234.7 311.7L233.7 311.7ZM233.7 311.7L234.7 311.7L233.4 309.3L232.4 309.3ZM229.8 304.4L230.8 304.4L229.2 301.4L228.2 301.4ZM228.2 301.4L229.2 301.4L227.8 298.7L226.8 298.7ZM224.3 293.8L225.3 293.8L223.7 290.6L222.7 290.6ZM222.7 290.6L223.7 290.6L222.4 287.9L221.4 287.9ZM219 283L220 283L218.2 279.3L217.2 279.3ZM217.2 279.3L218.2 279.3L216.3 275.4L215.3 275.4ZM215.3 275.4L216.3 275.4L215.4 273.4L214.4 273.4ZM212 268.4L213 268.4L212.5 267.4L211.5 267.4ZM211.5 267.4L212.5 267.4L210.7 263.3L209.7 263.3ZM209.7 263.3L210.7 263.3L210.3 262.5L209.3 262.5ZM207.1 257.5L208.1 257.5L206.9 254.8L205.9 254.8ZM205.9 254.8L206.9 254.8L205.5 251.5L204.5 251.5ZM202.3 246.5L203.3 246.5L203.1 246.1L202.1 246.1ZM202.1 246.1L203.1 246.1L201.2 241.6L200.2 241.6ZM200.2 241.6L201.2 241.6L200.8 240.5L199.8 240.5ZM198.3 237L199.3 237L197.4 232.3L196.4 232.3ZM196.4 232.3L197.4 232.3L196.9 231L195.9 231ZM193.9 225.8L194.9 225.8L193.6 222.6L192.6 222.6ZM192.6 222.6L193.6 222.6L192.5 219.8L191.5 219.8ZM189.6 214.6L190.6 214.6L189.8 212.6L188.8 212.6ZM188.8 212.6L189.8 212.6L188.4 208.5L187.4 208.5ZM185.5 203.3L186.5 203.3L186.1 202L185.1 202ZM185.1 202L186.1 202L184.4 197.2L183.4 197.2ZM181.6 192L182.6 192L182.3 191L181.3 191ZM181.3 191L182.3 191L180.6 185.8L179.6 185.8ZM179.4 185.2L180.4 185.2L178.6 179.4L177.6 179.4ZM177.6 179.4L178.6 179.4L178.5 179L177.5 179ZM175.8 173.8L176.8 173.8L176.7 173.3L175.7 173.3ZM175.7 173.3L176.7 173.3L175 167.6L174 167.6ZM172.4 162.3L173.4 162.3L173 160.8L172 160.8ZM172 160.8L173 160.8L171.7 156L170.7 156ZM169.2 150.7L170.2 150.7L169.4 147.6L168.4 147.6ZM168.4 147.6L169.4 147.6L168.6 144.4L167.6 144.4ZM166.2 139.1L167.2 139.1L165.9 133.5L164.9 133.5ZM164.9 133.5L165.9 133.5L165.7 132.8L164.7 132.8ZM163.4 127.4L164.4 127.4L164.1 126.1L163.1 126.1ZM163.1 126.1L164.1 126.1L163 121.1L162 121.1ZM432.8 569.8L433.8 569.8L433.6 568.7L432.6 568.7ZM432.6 568.7L433.6 568.7L433.5 567.6L432.5 567.6ZM432.5 567.6L433.5 567.6L433.4 566.4L432.4 566.4ZM432.4 566.4L433.4 566.4L433.2 565.3L432.2 565.3ZM432.2 565.3L433.2 565.3L433.1 564.2L432.1 564.2ZM432.1 564.2L433.1 564.2L433 563.3L432 563.3ZM431.3 558.5L432.3 558.5L432.2 557.3L431.2 557.3ZM431.2 557.3L432.2 557.3L432 556.1L431 556.1ZM431 556.1L432 556.1L431.8 555L430.8 555ZM430.8 555L431.8 555L431.7 553.8L430.7 553.8ZM430.7 553.8L431.7 553.8L431.5 552.6L430.5 552.6ZM430.5 552.6L431.5 552.6L431.4 552L430.4 552ZM429.6 546.6L430.6 546.6L430.6 546.6L429.6 546.6ZM429.6 546.6L430.6 546.6L430.4 545.4L429.4 545.4ZM429.4 545.4L430.4 545.4L430.2 544.1L429.2 544.1ZM429.2 544.1L430.2 544.1L429.9 542.9L428.9 542.9ZM428.9 542.9L429.9 542.9L429.7 541.6L428.7 541.6ZM428.7 541.6L429.7 541.6L429.5 540.4L428.5 540.4ZM428.5 540.4L429.5 540.4L429.5 540.2L428.5 540.2ZM427.5 534.8L428.5 534.8L428.4 534L427.4 534ZM427.4 534L428.4 534L428.1 532.7L427.1 532.7ZM427.1 532.7L428.1 532.7L427.9 531.4L426.9 531.4ZM426.9 531.4L427.9 531.4L427.6 530.1L426.6 530.1ZM426.6 530.1L427.6 530.1L427.3 528.8L426.3 528.8ZM426.3 528.8L427.3 528.8L427.1 527.7L426.1 527.7ZM425 522.3L426 522.3L425.9 522.1L424.9 522.1ZM424.9 522.1L425.9 522.1L425.7 520.8L424.7 520.8ZM424.7 520.8L425.7 520.8L425.3 519.4L424.3 519.4ZM424.3 519.4L425.3 519.4L425 518L424 518ZM424 518L425 518L424.7 516.7L423.7 516.7ZM423.7 516.7L424.7 516.7L424.4 515.3L423.4 515.3ZM423.4 515.3L424.4 515.3L424.2 514.4L423.2 514.4ZM421.9 509.1L422.9 509.1L422.7 508.2L421.7 508.2ZM421.7 508.2L422.7 508.2L422.3 506.7L421.3 506.7ZM421.3 506.7L422.3 506.7L421.9 505.3L420.9 505.3ZM420.9 505.3L421.9 505.3L421.5 503.8L420.5 503.8ZM420.5 503.8L421.5 503.8L421.1 502.3L420.1 502.3ZM420.1 502.3L421.1 502.3L420.7 500.9L419.7 500.9ZM419.7 500.9L420.7 500.9L420.6 500.4L419.6 500.4ZM418.1 495.1L419.1 495.1L419 494.8L418 494.8ZM418 494.8L419 494.8L418.6 493.3L417.6 493.3ZM417.6 493.3L418.6 493.3L418.1 491.8L417.1 491.8ZM417.1 491.8L418.1 491.8L417.7 490.2L416.7 490.2ZM416.7 490.2L417.7 490.2L417.2 488.6L416.2 488.6ZM416.2 488.6L417.2 488.6L416.7 487.1L415.7 487.1ZM415.7 487.1L416.7 487.1L416.2 485.5L415.2 485.5ZM413.5 480.3L414.5 480.3L414.1 479L413.1 479ZM413.1 479L414.1 479L413.6 477.4L412.6 477.4ZM412.6 477.4L413.6 477.4L413 475.8L412 475.8ZM412 475.8L413 475.8L412.4 474.1L411.4 474.1ZM411.4 474.1L412.4 474.1L411.8 472.4L410.8 472.4ZM410.8 472.4L411.8 472.4L411.2 470.7L410.2 470.7ZM410.2 470.7L411.2 470.7L410.8 469.6L409.8 469.6ZM407.9 464.5L408.9 464.5L408.7 463.9L407.7 463.9ZM407.7 463.9L408.7 463.9L408 462.1L407 462.1ZM407 462.1L408 462.1L407.3 460.3L406.3 460.3ZM406.3 460.3L407.3 460.3L406.6 458.6L405.6 458.6ZM405.6 458.6L406.6 458.6L405.9 456.8L404.9 456.8ZM404.9 456.8L405.9 456.8L405.2 455L404.2 455ZM404.2 455L405.2 455L404.4 453.2L403.4 453.2ZM403.4 453.2L404.4 453.2L404.2 452.5L403.2 452.5ZM401.1 447.5L402.1 447.5L401.3 445.7L400.3 445.7ZM400.3 445.7L401.3 445.7L400.5 443.8L399.5 443.8ZM399.5 443.8L400.5 443.8L399.6 441.9L398.6 441.9ZM398.6 441.9L399.6 441.9L399.4 441.5L398.4 441.5ZM397.8 440L398.8 440L397.9 438.1L396.9 438.1ZM396.9 438.1L397.9 438.1L397 436.1L396 436.1ZM396 436.1L397 436.1L396.1 434.1L395.1 434.1ZM395.1 434.1L396.1 434.1L396 434.1L395 434.1ZM392.7 429.1L393.7 429.1L393.2 428.1L392.2 428.1ZM392.2 428.1L393.2 428.1L392.2 426.1L391.2 426.1ZM391.2 426.1L392.2 426.1L391.2 424L390.2 424ZM390.2 424L391.2 424L390.8 423.3L389.8 423.3ZM388.1 419.8L389.1 419.8L388 417.7L387 417.7ZM387 417.7L388 417.7L386.9 415.6L385.9 415.6ZM385.9 415.6L386.9 415.6L386.1 414.1L385.1 414.1ZM382.5 409.2L383.5 409.2L383.4 409L382.4 409ZM382.4 409L383.4 409L382.3 406.8L381.3 406.8ZM381.3 406.8L382.3 406.8L381 404.6L380 404.6ZM380 404.6L381 404.6L380.4 403.5L379.4 403.5ZM376.8 398.7L377.8 398.7L377.3 397.7L376.3 397.7ZM376.3 397.7L377.3 397.7L375.9 395.4L374.9 395.4ZM374.9 395.4L375.9 395.4L374.6 393L373.6 393ZM373.6 393L374.6 393L374.1 392.1L373.1 392.1ZM370.3 387.3L371.3 387.3L370.5 385.8L369.5 385.8ZM369.5 385.8L370.5 385.8L369 383.4L368 383.4ZM368 383.4L369 383.4L368 381.7L367 381.7ZM364.2 377L365.2 377L364.6 375.9L363.6 375.9ZM363.6 375.9L364.6 375.9L363.1 373.3L362.1 373.3ZM362.1 373.3L363.1 373.3L361.5 370.7L360.5 370.7ZM360.5 370.7L361.5 370.7L359.9 368.1L358.9 368.1ZM358.9 368.1L359.9 368.1L359.7 367.7L358.7 367.7ZM355.9 363L356.9 363L356.7 362.8L355.7 362.8ZM355.7 362.8L356.7 362.8L355 360L354 360ZM354 360L355 360L353.5 357.5L352.5 357.5ZM349.6 352.8L350.6 352.8L349.9 351.7L348.9 351.7ZM348.9 351.7L349.9 351.7L348.2 348.9L347.2 348.9ZM347.2 348.9L348.2 348.9L347.2 347.3L346.2 347.3ZM345.4 346L346.4 346L344.6 343.1L343.6 343.1ZM343.6 343.1L344.6 343.1L343 340.5L342 340.5ZM339.1 335.8L340.1 335.8L339 334.1L338 334.1ZM338 334.1L339 334.1L337.1 331L336.1 331ZM336.1 331L337.1 331L336.7 330.2L335.7 330.2ZM332.8 325.6L333.8 325.6L333.3 324.7L332.3 324.7ZM332.3 324.7L333.3 324.7L331.3 321.5L330.3 321.5ZM330.3 321.5L331.3 321.5L330.4 320L329.4 320ZM326.5 315.3L327.5 315.3L327.3 315L326.3 315ZM326.3 315L327.3 315L325.3 311.7L324.3 311.7ZM324.3 311.7L325.3 311.7L324 309.5L323 309.5ZM320.1 304.7L321.1 304.7L319.1 301.4L318.1 301.4ZM318.1 301.4L319.1 301.4L317.8 299.2L316.8 299.2ZM314 294.4L315 294.4L314.9 294.2L313.9 294.2ZM313.9 294.2L314.9 294.2L312.7 290.6L311.7 290.6ZM311.7 290.6L312.7 290.6L311.7 288.8L310.7 288.8ZM307.9 284.1L308.9 284.1L308.4 283.1L307.4 283.1ZM307.4 283.1L308.4 283.1L306.2 279.3L305.2 279.3ZM305.2 279.3L306.2 279.3L304 275.4L303 275.4ZM303 275.4L304 275.4L303 273.6L302 273.6ZM299.3 268.8L300.3 268.8L299.5 267.4L298.5 267.4ZM298.5 267.4L299.5 267.4L297.2 263.3L296.2 263.3ZM296.2 263.3L297.2 263.3L297.1 263.1L296.1 263.1ZM293.5 258.3L294.5 258.3L292.7 254.8L291.7 254.8ZM291.7 254.8L292.7 254.8L291.5 252.6L290.5 252.6ZM287.9 247.7L288.9 247.7L288 246.1L287 246.1ZM287 246.1L288 246.1L285.9 241.9L284.9 241.9ZM282.4 237L283.4 237L283.4 237L282.4 237ZM282.4 237L283.4 237L281 232.3L280 232.3ZM280 232.3L281 232.3L280.5 231.2L279.5 231.2ZM277 226.2L278 226.2L276.3 222.6L275.3 222.6ZM275.3 222.6L276.3 222.6L275.2 220.4L274.2 220.4ZM271.8 215.4L272.8 215.4L271.5 212.6L270.5 212.6ZM270.5 212.6L271.5 212.6L270.1 209.5L269.1 209.5ZM266.8 204.5L267.8 204.5L266.7 202L265.7 202ZM265.7 202L266.7 202L265.2 198.6L264.2 198.6ZM262 193.5L263 193.5L261.8 191L260.8 191ZM260.8 191L261.8 191L260.4 187.6L259.4 187.6ZM258.4 185.2L259.4 185.2L257 179.4L256 179.4ZM256 179.4L257 179.4L256.9 179.2L255.9 179.2ZM253.9 174.1L254.9 174.1L254.6 173.3L253.6 173.3ZM253.6 173.3L254.6 173.3L252.5 168.1L251.5 168.1ZM249.5 163L250.5 163L249.7 160.8L248.7 160.8ZM248.7 160.8L249.7 160.8L248.2 156.9L247.2 156.9ZM245.3 151.7L246.3 151.7L244.8 147.6L243.8 147.6ZM243.8 147.6L244.8 147.6L244.2 145.6L243.2 145.6ZM241.3 140.4L242.3 140.4L240.3 134.2L239.3 134.2ZM237.5 129L238.5 129L237.6 126.1L236.6 126.1ZM236.6 126.1L237.6 126.1L236.6 122.8L235.6 122.8ZM490.8 569.8L491.8 569.8L491.8 568.7L490.8 568.7ZM490.8 568.7L491.8 568.7L491.9 567.6L490.9 567.6ZM490.9 567.6L491.9 567.6L491.9 566.4L490.9 566.4ZM490.9 566.4L491.9 566.4L492 565.3L491 565.3ZM491 565.3L492 565.3L492.1 564.2L491.1 564.2ZM491.1 564.2L492.1 564.2L492.1 563.3L491.1 563.3ZM491.3 558.5L492.3 558.5L492.4 557.3L491.4 557.3ZM491.4 557.3L492.4 557.3L492.4 556.1L491.4 556.1ZM491.4 556.1L492.4 556.1L492.5 555L491.5 555ZM491.5 555L492.5 555L492.5 553.8L491.5 553.8ZM491.5 553.8L492.5 553.8L492.6 552.6L491.6 552.6ZM491.6 552.6L492.6 552.6L492.6 552L491.6 552ZM491.8 546.6L492.8 546.6L492.8 545.4L491.8 545.4ZM491.8 545.4L492.8 545.4L492.9 544.1L491.9 544.1ZM491.9 544.1L492.9 544.1L492.9 542.9L491.9 542.9ZM491.9 542.9L492.9 542.9L493 541.6L492 541.6ZM492 541.6L493 541.6L493 540.4L492 540.4ZM492 540.4L493 540.4L493 540.1L492 540.1ZM492.1 534.6L493.1 534.6L493.1 534L492.1 534ZM492.1 534L493.1 534L493.2 532.7L492.2 532.7ZM492.2 532.7L493.2 532.7L493.2 531.4L492.2 531.4ZM492.2 531.4L493.2 531.4L493.2 530.1L492.2 530.1ZM492.2 530.1L493.2 530.1L493.2 528.8L492.2 528.8ZM492.2 528.8L493.2 528.8L493.2 527.5L492.2 527.5ZM492.3 522L493.3 522L493.3 520.8L492.3 520.8ZM492.3 520.8L493.3 520.8L493.3 519.4L492.3 519.4ZM492.3 519.4L493.3 519.4L493.3 518L492.3 518ZM492.3 518L493.3 518L493.3 516.7L492.3 516.7ZM492.3 516.7L493.3 516.7L493.3 515.3L492.3 515.3ZM492.3 515.3L493.3 515.3L493.3 514.3L492.3 514.3ZM492.2 508.8L493.2 508.8L493.2 508.2L492.2 508.2ZM492.2 508.2L493.2 508.2L493.2 506.7L492.2 506.7ZM492.2 506.7L493.2 506.7L493.2 505.3L492.2 505.3ZM492.2 505.3L493.2 505.3L493.2 503.8L492.2 503.8ZM492.2 503.8L493.2 503.8L493.1 502.3L492.1 502.3ZM492.1 502.3L493.1 502.3L493.1 500.9L492.1 500.9ZM492.1 500.9L493.1 500.9L493.1 500.2L492.1 500.2ZM491.9 494.7L492.9 494.7L492.9 493.3L491.9 493.3ZM491.9 493.3L492.9 493.3L492.8 491.8L491.8 491.8ZM491.8 491.8L492.8 491.8L492.8 490.2L491.8 490.2ZM491.8 490.2L492.8 490.2L492.7 488.6L491.7 488.6ZM491.7 488.6L492.7 488.6L492.6 487.1L491.6 487.1ZM491.6 487.1L492.6 487.1L492.6 485.5L491.6 485.5ZM491.6 485.5L492.6 485.5L492.6 485.3L491.6 485.3ZM491.3 479.8L492.3 479.8L492.2 479L491.2 479ZM491.2 479L492.2 479L492.1 477.4L491.1 477.4ZM491.1 477.4L492.1 477.4L492 475.8L491 475.8ZM491 475.8L492 475.8L491.9 474.1L490.9 474.1ZM490.9 474.1L491.9 474.1L491.8 472.4L490.8 472.4ZM490.8 472.4L491.8 472.4L491.7 470.7L490.7 470.7ZM490.7 470.7L491.7 470.7L491.6 469.3L490.6 469.3ZM490.1 463.8L491.1 463.8L491 462.1L490 462.1ZM490 462.1L491 462.1L490.8 460.3L489.8 460.3ZM489.8 460.3L490.8 460.3L490.6 458.6L489.6 458.6ZM489.6 458.6L490.6 458.6L490.4 456.8L489.4 456.8ZM489.4 456.8L490.4 456.8L490.2 455L489.2 455ZM489.2 455L490.2 455L490.1 453.2L489.1 453.2ZM489.1 453.2L490.1 453.2L489.9 452.1L488.9 452.1ZM488.3 446.6L489.3 446.6L489.2 445.7L488.2 445.7ZM488.2 445.7L489.2 445.7L488.9 443.8L487.9 443.8ZM487.9 443.8L488.9 443.8L488.7 441.9L487.7 441.9ZM487.7 441.9L488.7 441.9L488.4 440.2L487.4 440.2ZM487.4 440L488.4 440L488.1 438.1L487.1 438.1ZM487.1 438.1L488.1 438.1L487.9 436.1L486.9 436.1ZM486.9 436.1L487.9 436.1L487.6 434.1L486.6 434.1ZM486.6 434.1L487.6 434.1L487.5 433.6L486.5 433.6ZM485.6 428.1L486.6 428.1L486.6 428.1L485.6 428.1ZM485.6 428.1L486.6 428.1L486.3 426.1L485.3 426.1ZM485.3 426.1L486.3 426.1L485.9 424L484.9 424ZM484.9 424L485.9 424L485.5 421.9L484.5 421.9ZM484.5 421.9L485.5 421.9L485.5 421.7L484.5 421.7ZM484.1 419.8L485.1 419.8L484.7 417.7L483.7 417.7ZM483.7 417.7L484.7 417.7L484.3 415.6L483.3 415.6ZM483.3 415.6L484.3 415.6L483.9 413.5L482.9 413.5ZM481.7 408.1L482.7 408.1L482.4 406.8L481.4 406.8ZM481.4 406.8L482.4 406.8L481.9 404.6L480.9 404.6ZM480.9 404.6L481.9 404.6L481.4 402.3L480.4 402.3ZM480.4 402.3L481.4 402.3L481.3 401.7L480.3 401.7ZM479.3 397.7L480.3 397.7L479.7 395.4L478.7 395.4ZM478.7 395.4L479.7 395.4L479.1 393L478.1 393ZM478.1 393L479.1 393L478.6 391.4L477.6 391.4ZM476.2 386.1L477.2 386.1L477.1 385.8L476.1 385.8ZM476.1 385.8L477.1 385.8L476.4 383.4L475.4 383.4ZM475.4 383.4L476.4 383.4L475.6 380.9L474.6 380.9ZM474.6 380.9L475.6 380.9L475.3 379.9L474.3 379.9ZM472.7 374.7L473.7 374.7L473.2 373.3L472.2 373.3ZM472.2 373.3L473.2 373.3L472.4 370.7L471.4 370.7ZM471.4 370.7L472.4 370.7L471.5 368.1L470.5 368.1ZM470.5 368.1L471.5 368.1L471.2 367.1L470.2 367.1ZM468.4 361.9L469.4 361.9L468.7 360L467.7 360ZM467.7 360L468.7 360L467.6 357.3L466.6 357.3ZM466.6 357.3L467.6 357.3L467.1 355.9L466.1 355.9ZM464.1 350.7L465.1 350.7L464.4 348.9L463.4 348.9ZM463.4 348.9L464.4 348.9L463.2 346L462.2 346ZM462.2 346L463.2 346L462 343.1L461 343.1ZM461 343.1L462 343.1L460.7 340.1L459.7 340.1ZM459.7 340.1L460.7 340.1L460.7 340L459.7 340ZM457.5 334.9L458.5 334.9L458.1 334.1L457.1 334.1ZM457.1 334.1L458.1 334.1L456.7 331L455.7 331ZM455.7 331L456.7 331L455.8 329L454.8 329ZM452.5 324L453.5 324L452.3 321.5L451.3 321.5ZM451.3 321.5L452.3 321.5L450.7 318.3L449.7 318.3ZM449.7 318.3L450.7 318.3L450.6 318.2L449.6 318.2ZM448.1 315L449.1 315L447.4 311.7L446.4 311.7ZM446.4 311.7L447.4 311.7L446.1 309.2L445.1 309.2ZM442.6 304.3L443.6 304.3L442 301.4L441 301.4ZM441 301.4L442 301.4L440.6 298.6L439.6 298.6ZM436.9 293.8L437.9 293.8L436.2 290.6L435.2 290.6ZM435.2 290.6L436.2 290.6L434.8 288.1L433.8 288.1ZM431.1 283.3L432.1 283.3L432 283.1L431 283.1ZM431 283.1L432 283.1L429.9 279.3L428.9 279.3ZM428.9 279.3L429.9 279.3L427.6 275.4L426.6 275.4ZM426.6 275.4L427.6 275.4L426.6 273.6L425.6 273.6ZM422.9 268.9L423.9 268.9L423 267.4L422 267.4ZM422 267.4L423 267.4L420.7 263.3L419.7 263.3ZM419.7 263.3L420.7 263.3L420.6 263.2L419.6 263.2ZM416.9 258.5L417.9 258.5L415.7 254.8L414.7 254.8ZM414.7 254.8L415.7 254.8L414.6 252.9L413.6 252.9ZM410.8 248.1L411.8 248.1L410.6 246.1L409.6 246.1ZM409.6 246.1L410.6 246.1L408.5 242.5L407.5 242.5ZM404.7 237.8L405.7 237.8L405.2 237L404.2 237ZM404.2 237L405.2 237L402.5 232.3L401.5 232.3ZM401.5 232.3L402.5 232.3L401.9 231.4L400.9 231.4ZM398.1 226.6L399.1 226.6L396.8 222.6L395.8 222.6ZM395.8 222.6L396.8 222.6L395.9 221L394.9 221ZM392.1 216.3L393.1 216.3L391 212.6L390 212.6ZM390 212.6L391 212.6L389.9 210.6L388.9 210.6ZM386.2 205.8L387.2 205.8L385 202L384 202ZM384 202L385 202L384 200.2L383 200.2ZM380.3 195.4L381.3 195.4L378.9 191L377.9 191ZM377.9 191L378.9 191L378.2 189.7L377.2 189.7ZM374.7 185.2L375.7 185.2L372.6 179.5L371.6 179.5ZM369.1 174.7L370.1 174.7L369.4 173.3L368.4 173.3ZM368.4 173.3L369.4 173.3L367.1 168.9L366.1 168.9ZM363.5 164L364.5 164L362.9 160.8L361.9 160.8ZM361.9 160.8L362.9 160.8L361.6 158.2L360.6 158.2ZM358.1 153.3L359.1 153.3L356.3 147.6L355.3 147.6ZM355.3 147.6L356.3 147.6L356.3 147.5L355.3 147.5ZM352.9 142.5L353.9 142.5L353 140.6L352 140.6ZM352 140.6L353 140.6L351.1 136.6L350.1 136.6ZM347.8 131.6L348.8 131.6L346.3 126.1L345.3 126.1ZM345.3 126.1L346.3 126.1L346.1 125.7L345.1 125.7ZM342.9 120.7L343.9 120.7L342.9 118.5L341.9 118.5ZM549.3 569.8L550.3 569.8L550.5 568.7L549.5 568.7ZM549.5 568.7L550.5 568.7L550.7 567.6L549.7 567.6ZM549.7 567.6L550.7 567.6L550.9 566.4L549.9 566.4ZM549.9 566.4L550.9 566.4L551.1 565.3L550.1 565.3ZM550.1 565.3L551.1 565.3L551.3 564.2L550.3 564.2ZM550.3 564.2L551.3 564.2L551.4 563.4L550.4 563.4ZM551.3 558.5L552.3 558.5L552.5 557.3L551.5 557.3ZM551.5 557.3L552.5 557.3L552.7 556.1L551.7 556.1ZM551.7 556.1L552.7 556.1L553 555L552 555ZM552 555L553 555L553.2 553.8L552.2 553.8ZM552.2 553.8L553.2 553.8L553.4 552.6L552.4 552.6ZM552.4 552.6L553.4 552.6L553.5 552.1L552.5 552.1ZM553.4 546.7L554.4 546.7L554.5 546.6L553.5 546.6ZM553.5 546.6L554.5 546.6L554.7 545.4L553.7 545.4ZM553.7 545.4L554.7 545.4L554.9 544.1L553.9 544.1ZM553.9 544.1L554.9 544.1L555.1 542.9L554.1 542.9ZM554.1 542.9L555.1 542.9L555.3 541.6L554.3 541.6ZM554.3 541.6L555.3 541.6L555.6 540.4L554.6 540.4ZM554.6 540.4L555.6 540.4L555.6 540.2L554.6 540.2ZM555.5 534.8L556.5 534.8L556.7 534L555.7 534ZM555.7 534L556.7 534L556.9 532.7L555.9 532.7ZM555.9 532.7L556.9 532.7L557.1 531.4L556.1 531.4ZM556.1 531.4L557.1 531.4L557.3 530.1L556.3 530.1ZM556.3 530.1L557.3 530.1L557.6 528.8L556.6 528.8ZM556.6 528.8L557.6 528.8L557.8 527.6L556.8 527.6ZM557.7 522.2L558.7 522.2L558.7 522.1L557.7 522.1ZM557.7 522.1L558.7 522.1L558.9 520.8L557.9 520.8ZM557.9 520.8L558.9 520.8L559.2 519.4L558.2 519.4ZM558.2 519.4L559.2 519.4L559.4 518L558.4 518ZM558.4 518L559.4 518L559.6 516.7L558.6 516.7ZM558.6 516.7L559.6 516.7L559.9 515.3L558.9 515.3ZM558.9 515.3L559.9 515.3L560 514.4L559 514.4ZM559.9 508.9L560.9 508.9L561.1 508.2L560.1 508.2ZM560.1 508.2L561.1 508.2L561.3 506.7L560.3 506.7ZM560.3 506.7L561.3 506.7L561.5 505.3L560.5 505.3ZM560.5 505.3L561.5 505.3L561.8 503.8L560.8 503.8ZM560.8 503.8L561.8 503.8L562 502.3L561 502.3ZM561 502.3L562 502.3L562.3 500.9L561.3 500.9ZM561.3 500.9L562.3 500.9L562.4 500.3L561.4 500.3ZM562.2 494.9L563.2 494.9L563.2 494.8L562.2 494.8ZM562.2 494.8L563.2 494.8L563.5 493.3L562.5 493.3ZM562.5 493.3L563.5 493.3L563.7 491.8L562.7 491.8ZM562.7 491.8L563.7 491.8L564 490.2L563 490.2ZM563 490.2L564 490.2L564.2 488.6L563.2 488.6ZM563.2 488.6L564.2 488.6L564.5 487.1L563.5 487.1ZM563.5 487.1L564.5 487.1L564.7 485.5L563.7 485.5ZM563.7 485.5L564.7 485.5L564.7 485.3L563.7 485.3ZM564.6 479.9L565.6 479.9L565.7 479L564.7 479ZM564.7 479L565.7 479L565.9 477.4L564.9 477.4ZM564.9 477.4L565.9 477.4L566.2 475.8L565.2 475.8ZM565.2 475.8L566.2 475.8L566.4 474.1L565.4 474.1ZM565.4 474.1L566.4 474.1L566.7 472.4L565.7 472.4ZM565.7 472.4L566.7 472.4L566.9 470.7L565.9 470.7ZM565.9 470.7L566.9 470.7L567.2 469.3L566.2 469.3ZM566.9 463.9L567.9 463.9L567.9 463.9L566.9 463.9ZM566.9 463.9L567.9 463.9L568.2 462.1L567.2 462.1ZM567.2 462.1L568.2 462.1L568.4 460.3L567.4 460.3ZM567.4 460.3L568.4 460.3L568.7 458.6L567.7 458.6ZM567.7 458.6L568.7 458.6L568.9 456.8L567.9 456.8ZM567.9 456.8L568.9 456.8L569.2 455L568.2 455ZM568.2 455L569.2 455L569.4 453.2L568.4 453.2ZM568.4 453.2L569.4 453.2L569.6 452.1L568.6 452.1ZM569.3 446.7L570.3 446.7L570.4 445.7L569.4 445.7ZM569.4 445.7L570.4 445.7L570.7 443.8L569.7 443.8ZM569.7 443.8L570.7 443.8L570.9 441.9L569.9 441.9ZM569.9 441.9L570.9 441.9L571.1 440.2L570.1 440.2ZM570.2 440L571.2 440L571.4 438.1L570.4 438.1ZM570.4 438.1L571.4 438.1L571.6 436.1L570.6 436.1ZM570.6 436.1L571.6 436.1L571.9 434.1L570.9 434.1ZM570.9 434.1L571.9 434.1L572 433.6L571 433.6ZM571.6 428.1L572.6 428.1L572.8 426.1L571.8 426.1ZM571.8 426.1L572.8 426.1L573.1 424L572.1 424ZM572.1 424L573.1 424L573.3 421.9L572.3 421.9ZM572.3 421.9L573.3 421.9L573.3 421.6L572.3 421.6ZM572.5 419.8L573.5 419.8L573.8 417.7L572.8 417.7ZM572.8 417.7L573.8 417.7L574 415.6L573 415.6ZM573 415.6L574 415.6L574.2 413.4L573.2 413.4ZM573.2 413.4L574.2 413.4L574.2 413.4L573.2 413.4ZM573.8 407.9L574.8 407.9L574.9 406.8L573.9 406.8ZM573.9 406.8L574.9 406.8L575.1 404.6L574.1 404.6ZM574.1 404.6L575.1 404.6L575.3 402.3L574.3 402.3ZM574.3 402.3L575.3 402.3L575.4 401.4L574.4 401.4ZM574.7 397.7L575.7 397.7L575.9 395.4L574.9 395.4ZM574.9 395.4L575.9 395.4L576.1 393L575.1 393ZM575.1 393L576.1 393L576.2 391.3L575.2 391.3ZM575.6 385.8L576.6 385.8L576.8 383.4L575.8 383.4ZM575.8 383.4L576.8 383.4L577 380.9L576 380.9ZM576 380.9L577 380.9L577.1 379.3L576.1 379.3ZM576.4 373.8L577.4 373.8L577.4 373.3L576.4 373.3ZM576.4 373.3L577.4 373.3L577.6 370.7L576.6 370.7ZM576.6 370.7L577.6 370.7L577.7 368.1L576.7 368.1ZM576.7 368.1L577.7 368.1L577.8 366.8L576.8 366.8ZM577 361.3L578 361.3L578 360L577 360ZM577 360L578 360L578.1 357.3L577.1 357.3ZM577.1 357.3L578.1 357.3L578.2 354.8L577.2 354.8ZM577.3 349.3L578.3 349.3L578.3 348.9L577.3 348.9ZM577.3 348.9L578.3 348.9L578.4 346L577.4 346ZM577.4 346L578.4 346L578.4 343.1L577.4 343.1ZM577.4 343.1L578.4 343.1L578.4 340.1L577.4 340.1ZM577.4 340.1L578.4 340.1L578.4 339.5L577.4 339.5ZM577.4 334L578.4 334L578.4 331L577.4 331ZM577.4 331L578.4 331L578.3 327.9L577.3 327.9ZM577.3 327.9L578.3 327.9L578.3 327.5L577.3 327.5ZM577.1 322L578.1 322L578.1 321.5L577.1 321.5ZM577.1 321.5L578.1 321.5L578 318.3L577 318.3ZM577 318.3L578 318.3L577.9 315.5L576.9 315.5ZM576.8 315L577.8 315L577.7 311.7L576.7 311.7ZM576.7 311.7L577.7 311.7L577.5 308.5L576.5 308.5ZM576.1 303L577.1 303L577 301.4L576 301.4ZM576 301.4L577 301.4L576.7 297.8L575.7 297.8ZM575.7 297.8L576.7 297.8L576.5 296.6L575.5 296.6ZM575 291.1L576 291.1L575.9 290.6L574.9 290.6ZM574.9 290.6L575.9 290.6L575.5 286.9L574.5 286.9ZM574.5 286.9L575.5 286.9L575.3 284.6L574.3 284.6ZM573.6 279.3L574.6 279.3L574 275.4L573 275.4ZM573 275.4L574 275.4L573.6 272.8L572.6 272.8ZM571.7 267.4L572.7 267.4L572.7 267.4L571.7 267.4ZM571.7 267.4L572.7 267.4L572 263.3L571 263.3ZM571 263.3L572 263.3L571.5 261L570.5 261ZM569.5 255.6L570.5 255.6L570.3 254.8L569.3 254.8ZM569.3 254.8L570.3 254.8L569.4 250.5L568.4 250.5ZM568.4 250.5L569.4 250.5L569.1 249.3L568.1 249.3ZM566.8 243.9L567.8 243.9L567.2 241.6L566.2 241.6ZM566.2 241.6L567.2 241.6L566.2 237.6L565.2 237.6ZM565 237L566 237L564.7 232.3L563.7 232.3ZM563.7 232.3L564.7 232.3L564.3 230.7L563.3 230.7ZM561.7 225.5L562.7 225.5L561.8 222.6L560.8 222.6ZM560.8 222.6L561.8 222.6L560.7 219.3L559.7 219.3ZM558 214.1L559 214.1L558.5 212.6L557.5 212.6ZM557.5 212.6L558.5 212.6L556.8 207.9L555.8 207.9ZM553.9 202.8L554.9 202.8L554.6 202L553.6 202ZM553.6 202L554.6 202L552.5 196.7L551.5 196.7ZM549.4 191.6L550.4 191.6L550.2 191L549.2 191ZM549.2 191L550.2 191L547.9 185.6L546.9 185.6ZM546.7 185.2L547.7 185.2L545.1 179.4L544.1 179.4ZM544.1 179.4L545.1 179.4L545.1 179.3L544.1 179.3ZM541.8 174.3L542.8 174.3L542.4 173.3L541.4 173.3ZM541.4 173.3L542.4 173.3L540 168.4L539 168.4ZM536.6 163.5L537.6 163.5L536.3 160.8L535.3 160.8ZM535.3 160.8L536.3 160.8L534.7 157.7L533.7 157.7ZM531.2 152.7L532.2 152.7L529.6 147.6L528.6 147.6ZM528.6 147.6L529.6 147.6L529.3 147L528.3 147ZM525.7 142.1L526.7 142.1L525.9 140.6L524.9 140.6ZM524.9 140.6L525.9 140.6L523.6 136.4L522.6 136.4ZM520 131.5L521 131.5L518.1 126.1L517.1 126.1ZM517.1 126.1L518.1 126.1L518 125.8L517 125.8ZM514.3 121L515.3 121L514 118.5L513 118.5ZM608.3 569.8L609.3 569.8L609.6 568.7L608.6 568.7ZM608.6 568.7L609.6 568.7L609.9 567.6L608.9 567.6ZM608.9 567.6L609.9 567.6L610.2 566.4L609.2 566.4ZM609.2 566.4L610.2 566.4L610.5 565.3L609.5 565.3ZM609.5 565.3L610.5 565.3L610.8 564.2L609.8 564.2ZM609.8 564.2L610.8 564.2L611 563.5L610 563.5ZM611.3 558.5L612.3 558.5L612.6 557.3L611.6 557.3ZM611.6 557.3L612.6 557.3L613 556.1L612 556.1ZM612 556.1L613 556.1L613.3 555L612.3 555ZM612.3 555L613.3 555L613.6 553.8L612.6 553.8ZM612.6 553.8L613.6 553.8L613.9 552.6L612.9 552.6ZM612.9 552.6L613.9 552.6L614 552.2L613 552.2ZM614.4 546.9L615.4 546.9L615.5 546.6L614.5 546.6ZM614.5 546.6L615.5 546.6L615.9 545.4L614.9 545.4ZM614.9 545.4L615.9 545.4L616.2 544.1L615.2 544.1ZM615.2 544.1L616.2 544.1L616.5 542.9L615.5 542.9ZM615.5 542.9L616.5 542.9L616.9 541.6L615.9 541.6ZM615.9 541.6L616.9 541.6L617.2 540.4L616.2 540.4ZM616.2 540.4L617.2 540.4L617.2 540.3L616.2 540.3ZM617.7 535L618.7 535L618.9 534L617.9 534ZM617.9 534L618.9 534L619.3 532.7L618.3 532.7ZM618.3 532.7L619.3 532.7L619.6 531.4L618.6 531.4ZM618.6 531.4L619.6 531.4L620 530.1L619 530.1ZM619 530.1L620 530.1L620.3 528.8L619.3 528.8ZM619.3 528.8L620.3 528.8L620.6 527.8L619.6 527.8ZM621.1 522.5L622.1 522.5L622.2 522.1L621.2 522.1ZM621.2 522.1L622.2 522.1L622.5 520.8L621.5 520.8ZM621.5 520.8L622.5 520.8L622.9 519.4L621.9 519.4ZM621.9 519.4L622.9 519.4L623.3 518L622.3 518ZM622.3 518L623.3 518L623.7 516.7L622.7 516.7ZM622.7 516.7L623.7 516.7L624 515.3L623 515.3ZM623 515.3L624 515.3L624.2 514.5L623.2 514.5ZM624.7 509.2L625.7 509.2L626 508.2L625 508.2ZM625 508.2L626 508.2L626.4 506.7L625.4 506.7ZM625.4 506.7L626.4 506.7L626.8 505.3L625.8 505.3ZM625.8 505.3L626.8 505.3L627.2 503.8L626.2 503.8ZM626.2 503.8L627.2 503.8L627.6 502.3L626.6 502.3ZM626.6 502.3L627.6 502.3L628 500.9L627 500.9ZM627 500.9L628 500.9L628.1 500.5L627.1 500.5ZM628.6 495.2L629.6 495.2L629.6 494.8L628.6 494.8ZM628.6 494.8L629.6 494.8L630.1 493.3L629.1 493.3ZM629.1 493.3L630.1 493.3L630.5 491.8L629.5 491.8ZM629.5 491.8L630.5 491.8L630.9 490.2L629.9 490.2ZM629.9 490.2L630.9 490.2L631.4 488.6L630.4 488.6ZM630.4 488.6L631.4 488.6L631.8 487.1L630.8 487.1ZM630.8 487.1L631.8 487.1L632.2 485.5L631.2 485.5ZM632.7 480.2L633.7 480.2L634 479L633 479ZM633 479L634 479L634.5 477.4L633.5 477.4ZM633.5 477.4L634.5 477.4L634.9 475.8L633.9 475.8ZM633.9 475.8L634.9 475.8L635.4 474.1L634.4 474.1ZM634.4 474.1L635.4 474.1L635.8 472.4L634.8 472.4ZM634.8 472.4L635.8 472.4L636.3 470.7L635.3 470.7ZM635.3 470.7L636.3 470.7L636.7 469.5L635.7 469.5ZM637.1 464.2L638.1 464.2L638.2 463.9L637.2 463.9ZM637.2 463.9L638.2 463.9L638.7 462.1L637.7 462.1ZM637.7 462.1L638.7 462.1L639.2 460.3L638.2 460.3ZM638.2 460.3L639.2 460.3L639.7 458.6L638.7 458.6ZM638.7 458.6L639.7 458.6L640.2 456.8L639.2 456.8ZM639.2 456.8L640.2 456.8L640.7 455L639.7 455ZM639.7 455L640.7 455L641.2 453.2L640.2 453.2ZM640.2 453.2L641.2 453.2L641.4 452.3L640.4 452.3ZM641.9 447L642.9 447L643.3 445.7L642.3 445.7ZM642.3 445.7L643.3 445.7L643.8 443.8L642.8 443.8ZM642.8 443.8L643.8 443.8L644.3 441.9L643.3 441.9ZM643.3 441.9L644.3 441.9L644.6 440.7L643.6 440.7ZM643.9 440L644.9 440L645.4 438.1L644.4 438.1ZM644.4 438.1L645.4 438.1L645.9 436.1L644.9 436.1ZM644.9 436.1L645.9 436.1L646.5 434.1L645.5 434.1ZM645.5 434.1L646.5 434.1L646.6 433.7L645.6 433.7ZM647.1 428.4L648.1 428.4L648.2 428.1L647.2 428.1ZM647.2 428.1L648.2 428.1L648.7 426.1L647.7 426.1ZM647.7 426.1L648.7 426.1L649.3 424L648.3 424ZM648.3 424L649.3 424L649.8 422.2L648.8 422.2ZM649.5 419.8L650.5 419.8L651 417.7L650 417.7ZM650 417.7L651 417.7L651.6 415.6L650.6 415.6ZM650.6 415.6L651.6 415.6L652.2 413.6L651.2 413.6ZM652.7 408.3L653.7 408.3L654.1 406.8L653.1 406.8ZM653.1 406.8L654.1 406.8L654.7 404.6L653.7 404.6ZM653.7 404.6L654.7 404.6L655.3 402.3L654.3 402.3ZM654.3 402.3L655.3 402.3L655.4 402L654.4 402ZM655.6 397.7L656.6 397.7L657.2 395.4L656.2 395.4ZM656.2 395.4L657.2 395.4L657.9 393L656.9 393ZM656.9 393L657.9 393L658.3 391.5L657.3 391.5ZM658.8 386.2L659.8 386.2L659.8 385.8L658.8 385.8ZM658.8 385.8L659.8 385.8L660.5 383.4L659.5 383.4ZM659.5 383.4L660.5 383.4L661.2 380.9L660.2 380.9ZM660.2 380.9L661.2 380.9L661.5 379.9L660.5 379.9ZM661.9 374.6L662.9 374.6L663.3 373.3L662.3 373.3ZM662.3 373.3L663.3 373.3L664 370.7L663 370.7ZM663 370.7L664 370.7L664.7 368.1L663.7 368.1ZM663.7 368.1L664.7 368.1L665 367L664 367ZM665.4 361.7L666.4 361.7L666.9 360L665.9 360ZM665.9 360L666.9 360L667.6 357.3L666.6 357.3ZM666.6 357.3L667.6 357.3L668.1 355.4L667.1 355.4ZM668.5 350.1L669.5 350.1L669.9 348.9L668.9 348.9ZM668.9 348.9L669.9 348.9L670.6 346L669.6 346Z" fill="#10A8C0"/></g><g clip-path="url(#bx)"><path d="M113.3 569.8L114.3 569.8L116 567.6L115 567.6ZM115 567.6L116 567.6L117.4 565.8L116.4 565.8ZM121.2 559.4L122.2 559.4L122.9 558.5L121.9 558.5ZM121.9 558.5L122.9 558.5L124.6 556.1L123.6 556.1ZM123.6 556.1L124.6 556.1L125.9 554.5L124.9 554.5ZM129.7 548.1L130.7 548.1L131.9 546.6L130.9 546.6ZM130.9 546.6L131.9 546.6L133.7 544.1L132.7 544.1ZM132.7 544.1L133.7 544.1L134.9 542.6L133.9 542.6ZM138.7 536.2L139.7 536.2L141.3 534L140.3 534ZM140.3 534L141.3 534L143.3 531.4L142.3 531.4ZM142.3 531.4L143.3 531.4L144.4 530.1L143.4 530.1ZM148.2 523.7L149.2 523.7L149.3 523.5L148.3 523.5ZM148.3 523.5L149.3 523.5L151.4 520.8L150.4 520.8ZM150.4 520.8L151.4 520.8L153.5 518L152.5 518ZM152.5 518L153.5 518L154.4 516.8L153.4 516.8ZM158.3 510.4L159.3 510.4L159.9 509.6L158.9 509.6ZM158.9 509.6L159.9 509.6L162.1 506.7L161.1 506.7ZM161.1 506.7L162.1 506.7L164.3 503.8L163.3 503.8ZM163.3 503.8L164.3 503.8L165.1 502.7L164.1 502.7ZM168.9 496.4L169.9 496.4L171.1 494.8L170.1 494.8ZM170.1 494.8L171.1 494.8L173 492.4L172 492.4ZM172.5 491.8L173.5 491.8L175.8 488.6L174.8 488.6ZM174.8 488.6L175.8 488.6L176.5 487.8L175.5 487.8ZM180.3 481.4L181.3 481.4L183.1 479L182.1 479ZM182.1 479L183.1 479L184.4 477.4L183.4 477.4ZM184.6 475.8L185.6 475.8L188.2 472.4L187.2 472.4ZM187.2 472.4L188.2 472.4L188.7 471.8L187.7 471.8ZM192.5 465.4L193.5 465.4L196.1 462.1L195.1 462.1ZM195.1 462.1L196.1 462.1L196.6 461.4L195.6 461.4ZM197.8 458.6L198.8 458.6L201.5 455L200.5 455ZM200.5 455L201.5 455L201.8 454.6L200.8 454.6ZM205.7 448.2L206.7 448.2L207.2 447.6L206.2 447.6ZM206.2 447.6L207.2 447.6L209.7 444.3L208.7 444.3ZM212 440L213 440L216 436.1L215 436.1ZM215 436.1L216 436.1L216 436L215 436ZM219.9 429.7L220.9 429.7L222.1 428.1L221.1 428.1ZM221.1 428.1L222.1 428.1L223.9 425.7L222.9 425.7ZM227.5 419.8L228.5 419.8L231.5 415.9L230.5 415.9ZM235.4 409.5L236.4 409.5L238.4 406.8L237.4 406.8ZM237.4 406.8L238.4 406.8L239.4 405.6L238.4 405.6ZM243.3 399.2L244.3 399.2L245.4 397.7L244.4 397.7ZM244.4 397.7L245.4 397.7L248.5 393.8L247.5 393.8ZM252.4 387.4L253.4 387.4L256.4 383.5L255.4 383.5ZM260.3 377.1L261.3 377.1L264.3 373.3L263.3 373.3ZM263.3 373.3L264.3 373.3L267.3 369.3L266.3 369.3ZM271.2 363L272.2 363L272.4 362.8L271.4 362.8ZM271.4 362.8L272.4 362.8L275.3 359.1L274.3 359.1ZM279.2 352.7L280.2 352.7L281 351.7L280 351.7ZM280 351.7L281 351.7L283.3 348.8L282.3 348.8ZM284.4 346L285.4 346L288.5 342L287.5 342ZM292.4 335.7L293.4 335.7L294.6 334.1L293.6 334.1ZM293.6 334.1L294.6 334.1L296.4 331.8L295.4 331.8ZM300.3 325.4L301.3 325.4L304.4 321.5L303.4 321.5ZM303.4 321.5L304.4 321.5L304.4 321.5L303.4 321.5ZM308.3 315.2L309.3 315.2L309.4 315L308.4 315ZM308.4 315L309.4 315L312.5 311.1L311.5 311.1ZM316.4 304.8L317.4 304.8L320.1 301.4L319.1 301.4ZM319.1 301.4L320.1 301.4L320.5 300.8L319.5 300.8ZM324.4 294.5L325.4 294.5L325.6 294.2L324.6 294.2ZM324.6 294.2L325.6 294.2L328.5 290.6L327.5 290.6ZM332.4 284.2L333.4 284.2L336.5 280.3L335.5 280.3ZM336.3 279.3L337.3 279.3L340.4 275.3L339.4 275.3ZM344.3 269L345.3 269L348.4 265.1L347.4 265.1ZM352.3 258.8L353.3 258.8L356.4 254.8L355.4 254.8ZM360.3 248.5L361.3 248.5L363.2 246.1L362.2 246.1ZM362.2 246.1L363.2 246.1L364.4 244.6L363.4 244.6ZM368.3 238.3L369.3 238.3L370.4 237L369.4 237ZM369.4 237L370.4 237L373.4 233.1L372.4 233.1ZM377.4 226.8L378.4 226.8L381.5 222.8L380.5 222.8ZM385.4 216.5L386.4 216.5L389.5 212.6L388.5 212.6ZM393.4 206.3L394.4 206.3L397.5 202.4L396.5 202.4ZM401.5 196.1L402.5 196.1L405.6 192.2L404.6 192.2ZM409.5 185.9L410.5 185.9L411 185.2L410 185.2ZM410 185.2L411 185.2L414.1 181.3L413.1 181.3ZM418.1 175L419.1 175L420.4 173.3L419.4 173.3ZM419.4 173.3L420.4 173.3L422.2 171.1L421.2 171.1ZM426.1 164.8L427.1 164.8L430.2 160.9L429.2 160.9ZM434.2 154.6L435.2 154.6L438.3 150.7L437.3 150.7ZM442.2 144.4L443.2 144.4L446.4 140.5L445.4 140.5ZM450.3 134.2L451.3 134.2L451.9 133.5L450.9 133.5ZM450.9 133.5L451.9 133.5L454.4 130.3L453.4 130.3ZM458.4 124.1L459.4 124.1L462.5 120.1L461.5 120.1ZM154.3 569.8L155.3 569.8L156.9 567.6L155.9 567.6ZM155.9 567.6L156.9 567.6L158.2 565.8L157.2 565.8ZM162 559.3L163 559.3L163.6 558.5L162.6 558.5ZM162.6 558.5L163.6 558.5L165.3 556.1L164.3 556.1ZM164.3 556.1L165.3 556.1L166.6 554.4L165.6 554.4ZM170.3 548L171.3 548L172.4 546.6L171.4 546.6ZM171.4 546.6L172.4 546.6L174.2 544.1L173.2 544.1ZM173.2 544.1L174.2 544.1L175.4 542.6L174.4 542.6ZM179.1 536.1L180.1 536.1L181.7 534L180.7 534ZM180.7 534L181.7 534L183.6 531.4L182.6 531.4ZM182.6 531.4L183.6 531.4L184.6 530L183.6 530ZM188.4 523.6L189.4 523.6L189.5 523.5L188.5 523.5ZM188.5 523.5L189.5 523.5L191.5 520.8L190.5 520.8ZM190.5 520.8L191.5 520.8L193.5 518L192.5 518ZM192.5 518L193.5 518L194.5 516.8L193.5 516.8ZM198.2 510.3L199.2 510.3L199.8 509.6L198.8 509.6ZM198.8 509.6L199.8 509.6L201.9 506.7L200.9 506.7ZM200.9 506.7L201.9 506.7L204.1 503.8L203.1 503.8ZM203.1 503.8L204.1 503.8L204.9 502.7L203.9 502.7ZM208.7 496.3L209.7 496.3L210.8 494.8L209.8 494.8ZM209.8 494.8L210.8 494.8L212.7 492.3L211.7 492.3ZM212.1 491.8L213.1 491.8L215.4 488.6L214.4 488.6ZM214.4 488.6L215.4 488.6L216.1 487.7L215.1 487.7ZM219.9 481.3L220.9 481.3L222.6 479L221.6 479ZM221.6 479L222.6 479L223.8 477.3L222.8 477.3ZM224 475.8L225 475.8L227.5 472.4L226.5 472.4ZM226.5 472.4L227.5 472.4L228 471.8L227 471.8ZM231.8 465.3L232.8 465.3L235.2 462.1L234.2 462.1ZM234.2 462.1L235.2 462.1L235.8 461.3L234.8 461.3ZM236.9 458.6L237.9 458.6L240.6 455L239.6 455ZM239.6 455L240.6 455L240.9 454.6L239.9 454.6ZM244.7 448.2L245.7 448.2L246.1 447.6L245.1 447.6ZM245.1 447.6L246.1 447.6L248.7 444.2L247.7 444.2ZM250.8 440L251.8 440L254.7 436.1L253.7 436.1ZM253.7 436.1L254.7 436.1L254.8 436L253.8 436ZM258.6 429.6L259.6 429.6L260.7 428.1L259.7 428.1ZM259.7 428.1L260.7 428.1L262.6 425.6L261.6 425.6ZM266 419.8L267 419.8L270 415.8L269 415.8ZM273.8 409.4L274.8 409.4L276.7 406.8L275.7 406.8ZM275.7 406.8L276.7 406.8L277.8 405.5L276.8 405.5ZM281.6 399.1L282.6 399.1L283.6 397.7L282.6 397.7ZM282.6 397.7L283.6 397.7L286.6 393.7L285.6 393.7ZM290.4 387.4L291.4 387.4L294.5 383.4L293.5 383.4ZM293.5 383.4L294.5 383.4L294.5 383.4L293.5 383.4ZM298.3 377L299.3 377L302.1 373.3L301.1 373.3ZM301.1 373.3L302.1 373.3L305.1 369.3L304.1 369.3ZM308.9 362.9L309.9 362.9L310.1 362.8L309.1 362.8ZM309.1 362.8L310.1 362.8L313 359L312 359ZM316.8 352.6L317.8 352.6L318.5 351.7L317.5 351.7ZM317.5 351.7L318.5 351.7L320.8 348.6L319.8 348.6ZM321.8 346L322.8 346L325.8 342L324.8 342ZM329.7 335.6L330.7 335.6L331.8 334.1L330.8 334.1ZM330.8 334.1L331.8 334.1L333.7 331.7L332.7 331.7ZM337.5 325.3L338.5 325.3L341.4 321.5L340.4 321.5ZM340.4 321.5L341.4 321.5L341.6 321.3L340.6 321.3ZM345.4 315L346.4 315L349.4 311L348.4 311ZM353.3 304.7L354.3 304.7L356.8 301.4L355.8 301.4ZM355.8 301.4L356.8 301.4L357.3 300.7L356.3 300.7ZM361.2 294.4L362.2 294.4L362.2 294.2L361.2 294.2ZM361.2 294.2L362.2 294.2L365.2 290.4L364.2 290.4ZM369.1 284L370.1 284L373.1 280.1L372.1 280.1ZM372.7 279.3L373.7 279.3L376.7 275.3L375.7 275.3ZM380.6 269L381.6 269L384.7 265L383.7 265ZM388.5 258.6L389.5 258.6L392.5 254.8L391.5 254.8ZM391.5 254.8L392.5 254.8L392.6 254.7L391.6 254.7ZM396.5 248.3L397.5 248.3L399.2 246.1L398.2 246.1ZM398.2 246.1L399.2 246.1L400.5 244.4L399.5 244.4ZM404.4 238L405.4 238L406.2 237L405.2 237ZM405.2 237L406.2 237L409.2 233L408.2 233ZM413.1 226.7L414.1 226.7L417.2 222.7L416.2 222.7ZM421.1 216.4L422.1 216.4L425.1 212.4L424.1 212.4ZM429 206.1L430 206.1L433.1 202.2L432.1 202.2ZM437 195.8L438 195.8L441 191.9L440 191.9ZM444.9 185.5L445.9 185.5L446.1 185.2L445.1 185.2ZM445.1 185.2L446.1 185.2L449.2 181.3L448.2 181.3ZM453.1 175L454.1 175L455.4 173.3L454.4 173.3ZM454.4 173.3L455.4 173.3L457.2 171L456.2 171ZM461.1 164.7L462.1 164.7L465.1 160.8L464.1 160.8ZM464.1 160.8L465.1 160.8L465.1 160.7L464.1 160.7ZM469.1 154.4L470.1 154.4L473.1 150.5L472.1 150.5ZM477 144.2L478 144.2L481.1 140.2L480.1 140.2ZM485 133.9L486 133.9L486.3 133.5L485.3 133.5ZM485.3 133.5L486.3 133.5L489.1 130L488.1 130ZM493 123.7L494 123.7L497.1 119.7L496.1 119.7ZM225.1 569.8L226.1 569.8L227.6 567.6L226.6 567.6ZM226.6 567.6L227.6 567.6L228.9 565.7L227.9 565.7ZM232.6 559.2L233.6 559.2L234.1 558.5L233.1 558.5ZM233.1 558.5L234.1 558.5L235.7 556.1L234.7 556.1ZM234.7 556.1L235.7 556.1L236.9 554.4L235.9 554.4ZM240.6 547.9L241.6 547.9L242.5 546.6L241.5 546.6ZM241.5 546.6L242.5 546.6L244.2 544.1L243.2 544.1ZM243.2 544.1L244.2 544.1L245.4 542.5L244.4 542.5ZM249 536L250 536L251.4 534L250.4 534ZM250.4 534L251.4 534L253.2 531.4L252.2 531.4ZM252.2 531.4L253.2 531.4L254.3 530L253.3 530ZM257.9 523.4L258.9 523.4L260.8 520.8L259.8 520.8ZM259.8 520.8L260.8 520.8L262.8 518L261.8 518ZM261.8 518L262.8 518L263.7 516.7L262.7 516.7ZM267.4 510.2L268.4 510.2L268.8 509.6L267.8 509.6ZM267.8 509.6L268.8 509.6L270.8 506.7L269.8 506.7ZM269.8 506.7L270.8 506.7L272.9 503.8L271.9 503.8ZM271.9 503.8L272.9 503.8L273.8 502.7L272.8 502.7ZM277.4 496.1L278.4 496.1L279.4 494.8L278.4 494.8ZM278.4 494.8L279.4 494.8L281.3 492.1L280.3 492.1ZM280.6 491.8L281.6 491.8L283.8 488.6L282.8 488.6ZM282.8 488.6L283.8 488.6L284.5 487.7L283.5 487.7ZM288.1 481.2L289.1 481.2L290.7 479L289.7 479ZM289.7 479L290.7 479L292 477.1L291 477.1ZM292 475.8L293 475.8L295.4 472.4L294.4 472.4ZM294.4 472.4L295.4 472.4L295.9 471.7L294.9 471.7ZM299.6 465.2L300.6 465.2L302.8 462.1L301.8 462.1ZM301.8 462.1L302.8 462.1L303.5 461.1L302.5 461.1ZM304.4 458.6L305.4 458.6L308 455L307 455ZM307 455L308 455L308.3 454.5L307.3 454.5ZM312 448L313 448L313.3 447.6L312.3 447.6ZM312.3 447.6L313.3 447.6L315.9 444L314.9 444ZM317.8 440L318.8 440L321.6 436.1L320.6 436.1ZM320.6 436.1L321.6 436.1L321.7 436L320.7 436ZM325.4 429.5L326.4 429.5L327.4 428.1L326.4 428.1ZM326.4 428.1L327.4 428.1L329.3 425.4L328.3 425.4ZM332.4 419.8L333.4 419.8L336.3 415.8L335.3 415.8ZM340 409.3L341 409.3L342.8 406.8L341.8 406.8ZM341.8 406.8L342.8 406.8L344 405.3L343 405.3ZM347.7 398.8L348.7 398.8L349.4 397.7L348.4 397.7ZM348.4 397.7L349.4 397.7L352.4 393.7L351.4 393.7ZM356.1 387.2L357.1 387.2L359.9 383.4L358.9 383.4ZM358.9 383.4L359.9 383.4L360 383.2L359 383.2ZM363.7 376.7L364.7 376.7L367.2 373.3L366.2 373.3ZM366.2 373.3L367.2 373.3L370.2 369.3L369.2 369.3ZM373.9 362.8L374.9 362.8L374.9 362.8L373.9 362.8ZM373.9 362.8L374.9 362.8L377.9 358.8L376.9 358.8ZM381.6 352.3L382.6 352.3L383 351.7L382 351.7ZM382 351.7L383 351.7L385.5 348.3L384.5 348.3ZM386.2 346L387.2 346L390.2 342L389.2 342ZM393.9 335.5L394.9 335.5L396 334.1L395 334.1ZM395 334.1L396 334.1L397.9 331.5L396.9 331.5ZM401.6 325L402.6 325L405.2 321.5L404.2 321.5ZM404.2 321.5L405.2 321.5L405.6 321L404.6 321ZM409 315L410 315L413 311L412 311ZM416.7 304.6L417.7 304.6L420.1 301.4L419.1 301.4ZM419.1 301.4L420.1 301.4L420.7 300.5L419.7 300.5ZM424.4 294.1L425.4 294.1L428.4 290.1L427.4 290.1ZM432.2 283.6L433.2 283.6L436.1 279.6L435.1 279.6ZM435.4 279.3L436.4 279.3L439.4 275.3L438.4 275.3ZM443.1 268.8L444.1 268.8L447.1 264.8L446.1 264.8ZM450.9 258.4L451.9 258.4L454.5 254.8L453.5 254.8ZM453.5 254.8L454.5 254.8L454.9 254.4L453.9 254.4ZM458.6 248L459.6 248L461 246.1L460 246.1ZM460 246.1L461 246.1L462.6 243.9L461.6 243.9ZM466.4 237.5L467.4 237.5L467.8 237L466.8 237ZM466.8 237L467.8 237L470.8 233L469.8 233ZM474.6 226.6L475.6 226.6L478.6 222.6L477.6 222.6ZM482.4 216.2L483.4 216.2L486.4 212.1L485.4 212.1ZM490.2 205.7L491.2 205.7L494.1 201.7L493.1 201.7ZM497.9 195.3L498.9 195.3L501.9 191.3L500.9 191.3ZM505.5 185.2L506.5 185.2L509.5 181.2L508.5 181.2ZM513.3 174.8L514.3 174.8L515.5 173.3L514.5 173.3ZM514.5 173.3L515.5 173.3L517.3 170.9L516.3 170.9ZM521.1 164.5L522.1 164.5L524.9 160.8L523.9 160.8ZM523.9 160.8L524.9 160.8L525.1 160.5L524.1 160.5ZM529 154.1L530 154.1L533 150.1L532 150.1ZM536.8 143.7L537.8 143.7L540.8 139.7L539.8 139.7ZM544.6 133.3L545.6 133.3L548.6 129.3L547.6 129.3ZM552.5 123L553.5 123L556.5 119L555.5 119ZM260.7 569.8L261.7 569.8L263.3 567.6L262.3 567.6ZM262.3 567.6L263.3 567.6L264.6 565.7L263.6 565.7ZM268.1 559.1L269.1 559.1L269.6 558.5L268.6 558.5ZM268.6 558.5L269.6 558.5L271.2 556.1L270.2 556.1ZM270.2 556.1L271.2 556.1L272.4 554.4L271.4 554.4ZM276 547.8L277 547.8L277.8 546.6L276.8 546.6ZM276.8 546.6L277.8 546.6L279.5 544.1L278.5 544.1ZM278.5 544.1L279.5 544.1L280.6 542.5L279.6 542.5ZM284.2 535.9L285.2 535.9L286.5 534L285.5 534ZM285.5 534L286.5 534L288.3 531.4L287.3 531.4ZM287.3 531.4L288.3 531.4L289.4 529.9L288.4 529.9ZM292.9 523.4L293.9 523.4L295.7 520.8L294.7 520.8ZM294.7 520.8L295.7 520.8L297.6 518L296.6 518ZM296.6 518L297.6 518L298.6 516.7L297.6 516.7ZM302.2 510.1L303.2 510.1L303.5 509.6L302.5 509.6ZM302.5 509.6L303.5 509.6L305.5 506.7L304.5 506.7ZM304.5 506.7L305.5 506.7L307.6 503.8L306.6 503.8ZM306.6 503.8L307.6 503.8L308.4 502.6L307.4 502.6ZM312 496.1L313 496.1L313.9 494.8L312.9 494.8ZM312.9 494.8L313.9 494.8L315.9 492L314.9 492ZM315 491.8L316 491.8L318.2 488.6L317.2 488.6ZM317.2 488.6L318.2 488.6L318.9 487.7L317.9 487.7ZM322.5 481.1L323.5 481.1L324.9 479L323.9 479ZM323.9 479L324.9 479L326.4 477L325.4 477ZM326.3 475.8L327.3 475.8L329.6 472.4L328.6 472.4ZM328.6 472.4L329.6 472.4L330.1 471.7L329.1 471.7ZM333.7 465.1L334.7 465.1L336.9 462.1L335.9 462.1ZM335.9 462.1L336.9 462.1L337.6 461L336.6 461ZM338.4 458.6L339.4 458.6L341.9 455L340.9 455ZM340.9 455L341.9 455L342.2 454.5L341.2 454.5ZM345.9 448L346.9 448L347.1 447.6L346.1 447.6ZM346.1 447.6L347.1 447.6L349.7 443.9L348.7 443.9ZM351.5 440L352.5 440L355.2 436.1L354.2 436.1ZM354.2 436.1L355.2 436.1L355.4 435.9L354.4 435.9ZM359 429.4L360 429.4L360.9 428.1L359.9 428.1ZM359.9 428.1L360.9 428.1L362.9 425.3L361.9 425.3ZM365.8 419.8L366.8 419.8L369.7 415.8L368.7 415.8ZM373.3 409.2L374.3 409.2L376 406.8L375 406.8ZM375 406.8L376 406.8L377.2 405.2L376.2 405.2ZM380.9 398.6L381.9 398.6L382.5 397.7L381.5 397.7ZM381.5 397.7L382.5 397.7L385.4 393.7L384.4 393.7ZM389.1 387.1L390.1 387.1L392.8 383.4L391.8 383.4ZM391.8 383.4L392.8 383.4L393 383.1L392 383.1ZM396.6 376.6L397.6 376.6L400 373.3L399 373.3ZM399 373.3L400 373.3L402.9 369.2L401.9 369.2ZM406.5 362.7L407.5 362.7L410.5 358.7L409.5 358.7ZM414.1 352.2L415.1 352.2L415.5 351.7L414.5 351.7ZM414.5 351.7L415.5 351.7L418 348.1L417 348.1ZM418.6 346L419.6 346L422.5 341.9L421.5 341.9ZM426.2 335.4L427.2 335.4L428.1 334.1L427.1 334.1ZM427.1 334.1L428.1 334.1L430.1 331.4L429.1 331.4ZM433.8 324.9L434.8 324.9L437.2 321.5L436.2 321.5ZM436.2 321.5L437.2 321.5L437.7 320.8L436.7 320.8ZM440.9 315L441.9 315L444.8 311L443.8 311ZM448.5 304.5L449.5 304.5L451.8 301.4L450.8 301.4ZM450.8 301.4L451.8 301.4L452.5 300.4L451.5 300.4ZM456.2 294L457.2 294L460.1 289.9L459.1 289.9ZM463.8 283.4L464.8 283.4L467.8 279.4L466.8 279.4ZM466.8 279.3L467.8 279.3L470.8 275.2L469.8 275.2ZM474.5 268.8L475.5 268.8L478.4 264.7L477.4 264.7ZM482.2 258.3L483.2 258.3L485.7 254.8L484.7 254.8ZM484.7 254.8L485.7 254.8L486.1 254.2L485.1 254.2ZM489.8 247.8L490.8 247.8L492.1 246.1L491.1 246.1ZM491.1 246.1L492.1 246.1L493.8 243.7L492.8 243.7ZM497.5 237.3L498.5 237.3L498.7 237L497.7 237ZM497.7 237L498.7 237L501.7 233L500.7 233ZM505.4 226.5L506.4 226.5L509.4 222.5L508.4 222.5ZM513.1 216L514.1 216L517 212L516 212ZM520.8 205.5L521.8 205.5L524.8 201.5L523.8 201.5ZM528.5 195.1L529.5 195.1L532.5 191.1L531.5 191.1ZM535.8 185.2L536.8 185.2L539.7 181.2L538.7 181.2ZM543.5 174.8L544.5 174.8L545.5 173.3L544.5 173.3ZM544.5 173.3L545.5 173.3L547.5 170.8L546.5 170.8ZM551.2 164.3L552.2 164.3L554.8 160.8L553.8 160.8ZM553.8 160.8L554.8 160.8L555.2 160.3L554.2 160.3ZM559 153.9L560 153.9L562.9 149.9L561.9 149.9ZM566.7 143.4L567.7 143.4L570.7 139.4L569.7 139.4ZM574.5 133L575.5 133L578.4 129L577.4 129ZM582.2 122.6L583.2 122.6L586.2 118.6L585.2 118.6ZM312.3 569.8L313.3 569.8L314.8 567.6L313.8 567.6ZM313.8 567.6L314.8 567.6L316.1 565.6L315.1 565.6ZM319.5 559L320.5 559L320.8 558.5L319.8 558.5ZM319.8 558.5L320.8 558.5L322.4 556.1L321.4 556.1ZM321.4 556.1L322.4 556.1L323.6 554.3L322.6 554.3ZM327.1 547.7L328.1 547.7L328.8 546.6L327.8 546.6ZM327.8 546.6L328.8 546.6L330.4 544.1L329.4 544.1ZM329.4 544.1L330.4 544.1L331.6 542.4L330.6 542.4ZM335 535.8L336 535.8L337.2 534L336.2 534ZM336.2 534L337.2 534L339 531.4L338 531.4ZM338 531.4L339 531.4L340 529.9L339 529.9ZM343.5 523.3L344.5 523.3L346.1 520.8L345.1 520.8ZM345.1 520.8L346.1 520.8L348 518L347 518ZM347 518L348 518L348.9 516.6L347.9 516.6ZM352.4 510L353.4 510L353.7 509.6L352.7 509.6ZM352.7 509.6L353.7 509.6L355.6 506.7L354.6 506.7ZM354.6 506.7L355.6 506.7L357.6 503.8L356.6 503.8ZM356.6 503.8L357.6 503.8L358.4 502.6L357.4 502.6ZM361.9 496L362.9 496L363.7 494.8L362.7 494.8ZM362.7 494.8L363.7 494.8L365.7 491.8L364.7 491.8ZM364.8 491.8L365.8 491.8L367.9 488.6L366.9 488.6ZM366.9 488.6L367.9 488.6L368.6 487.6L367.6 487.6ZM372.1 481L373.1 481L374.4 479L373.4 479ZM373.4 479L374.4 479L375.9 476.9L374.9 476.9ZM375.6 475.8L376.6 475.8L378.9 472.4L377.9 472.4ZM377.9 472.4L378.9 472.4L379.4 471.6L378.4 471.6ZM382.9 465L383.9 465L385.9 462.1L384.9 462.1ZM384.9 462.1L385.9 462.1L386.8 460.9L385.8 460.9ZM387.3 458.6L388.3 458.6L390.8 455L389.8 455ZM389.8 455L390.8 455L391.2 454.4L390.2 454.4ZM394.7 447.8L395.7 447.8L395.8 447.6L394.8 447.6ZM394.8 447.6L395.8 447.6L398.4 443.8L397.4 443.8ZM397.4 443.8L398.4 443.8L398.5 443.7L397.5 443.7ZM400.1 440L401.1 440L403.7 436.1L402.7 436.1ZM402.7 436.1L403.7 436.1L403.9 435.9L402.9 435.9ZM407.4 429.3L408.4 429.3L409.2 428.1L408.2 428.1ZM408.2 428.1L409.2 428.1L411.2 425.2L410.2 425.2ZM413.9 419.8L414.9 419.8L417.8 415.7L416.8 415.7ZM421.3 409.1L422.3 409.1L423.9 406.8L422.9 406.8ZM422.9 406.8L423.9 406.8L425.1 405L424.1 405ZM428.7 398.4L429.7 398.4L430.2 397.7L429.2 397.7ZM429.2 397.7L430.2 397.7L433 393.6L432 393.6ZM436.6 387L437.6 387L440.1 383.4L439.1 383.4ZM439.1 383.4L440.1 383.4L440.4 382.9L439.4 382.9ZM444 376.4L445 376.4L447.1 373.3L446.1 373.3ZM446.1 373.3L447.1 373.3L450 369.2L449 369.2ZM453.6 362.6L454.6 362.6L457.4 358.5L456.4 358.5ZM461 352L462 352L462.2 351.7L461.2 351.7ZM461.2 351.7L462.2 351.7L464.9 347.9L463.9 347.9ZM465.2 346L466.2 346L469 341.9L468 341.9ZM472.6 335.3L473.6 335.3L474.5 334.1L473.5 334.1ZM473.5 334.1L474.5 334.1L476.5 331.2L475.5 331.2ZM480.1 324.7L481.1 324.7L483.3 321.5L482.3 321.5ZM482.3 321.5L483.3 321.5L484 320.6L483 320.6ZM486.9 315L487.9 315L490.8 310.9L489.8 310.9ZM494.4 304.4L495.4 304.4L497.5 301.4L496.5 301.4ZM496.5 301.4L497.5 301.4L498.2 300.3L497.2 300.3ZM501.9 293.8L502.9 293.8L505.7 289.7L504.7 289.7ZM509.4 283.1L510.4 283.1L513.1 279.3L512.1 279.3ZM512.1 279.3L513.1 279.3L516 275.2L515 275.2ZM519.6 268.7L520.6 268.7L523.5 264.6L522.5 264.6ZM527.1 258.1L528.1 258.1L530.4 254.8L529.4 254.8ZM529.4 254.8L530.4 254.8L531 254L530 254ZM534.7 247.5L535.7 247.5L536.7 246.1L535.7 246.1ZM535.7 246.1L536.7 246.1L538.6 243.4L537.6 243.4ZM542.1 237L543.1 237L546 232.9L545 232.9ZM549.7 226.4L550.7 226.4L553.6 222.3L552.6 222.3ZM557.3 215.8L558.3 215.8L561.2 211.8L560.2 211.8ZM564.8 205.3L565.8 205.3L568.7 201.2L567.7 201.2ZM572.4 194.7L573.4 194.7L576.3 190.6L575.3 190.6ZM579.2 185.2L580.2 185.2L583.1 181.2L582.1 181.2ZM586.8 174.7L587.8 174.7L588.8 173.3L587.8 173.3ZM587.8 173.3L588.8 173.3L590.7 170.6L589.7 170.6ZM594.4 164.2L595.4 164.2L597.8 160.8L596.8 160.8ZM596.8 160.8L597.8 160.8L598.3 160.1L597.3 160.1ZM602 153.6L603 153.6L606 149.6L605 149.6ZM609.7 143.1L610.7 143.1L613.6 139L612.6 139ZM617.3 132.6L618.3 132.6L621.2 128.5L620.2 128.5ZM624.9 122L625.9 122L628.5 118.5L627.5 118.5ZM344.2 569.8L345.2 569.8L346.7 567.6L345.7 567.6ZM345.7 567.6L346.7 567.6L348 565.6L347 565.6ZM351.3 558.9L352.3 558.9L352.6 558.5L351.6 558.5ZM351.6 558.5L352.6 558.5L354.1 556.1L353.1 556.1ZM353.1 556.1L354.1 556.1L355.4 554.3L354.4 554.3ZM358.7 547.6L359.7 547.6L360.4 546.6L359.4 546.6ZM359.4 546.6L360.4 546.6L362 544.1L361 544.1ZM361 544.1L362 544.1L363.1 542.4L362.1 542.4ZM366.5 535.7L367.5 535.7L368.6 534L367.6 534ZM367.6 534L368.6 534L370.3 531.4L369.3 531.4ZM369.3 531.4L370.3 531.4L371.4 529.9L370.4 529.9ZM374.8 523.2L375.8 523.2L377.3 520.8L376.3 520.8ZM376.3 520.8L377.3 520.8L379.2 518L378.2 518ZM378.2 518L379.2 518L380.1 516.6L379.1 516.6ZM383.5 509.9L384.5 509.9L384.7 509.6L383.7 509.6ZM383.7 509.6L384.7 509.6L386.6 506.7L385.6 506.7ZM385.6 506.7L386.6 506.7L388.6 503.8L387.6 503.8ZM387.6 503.8L388.6 503.8L389.4 502.6L388.4 502.6ZM392.8 495.9L393.8 495.9L394.5 494.8L393.5 494.8ZM393.5 494.8L394.5 494.8L396.6 491.8L395.6 491.8ZM395.6 491.8L396.6 491.8L398.6 488.6L397.6 488.6ZM397.6 488.6L398.6 488.6L399.3 487.6L398.3 487.6ZM402.7 480.9L403.7 480.9L405 479L404 479ZM404 479L405 479L406.5 476.8L405.5 476.8ZM406.2 475.8L407.2 475.8L409.4 472.4L408.4 472.4ZM408.4 472.4L409.4 472.4L410 471.6L409 471.6ZM413.4 464.9L414.4 464.9L416.3 462.1L415.3 462.1ZM415.3 462.1L416.3 462.1L417.2 460.8L416.2 460.8ZM417.7 458.6L418.7 458.6L421.1 455L420.1 455ZM420.1 455L421.1 455L421.5 454.4L420.5 454.4ZM424.9 447.8L425.9 447.8L426 447.6L425 447.6ZM425 447.6L426 447.6L428.5 443.8L427.5 443.8ZM427.5 443.8L428.5 443.8L428.7 443.6L427.7 443.6ZM430.1 440L431.1 440L433.7 436.1L432.7 436.1ZM432.7 436.1L433.7 436.1L433.9 435.9L432.9 435.9ZM437.4 429.2L438.4 429.2L439.1 428.1L438.1 428.1ZM438.1 428.1L439.1 428.1L441.2 425.1L440.2 425.1ZM443.7 419.8L444.7 419.8L447.5 415.7L446.5 415.7ZM451 409.1L452 409.1L453.5 406.8L452.5 406.8ZM452.5 406.8L453.5 406.8L454.8 404.9L453.8 404.9ZM458.3 398.3L459.3 398.3L459.7 397.7L458.7 397.7ZM458.7 397.7L459.7 397.7L462.5 393.6L461.5 393.6ZM466 387L467 387L469.4 383.4L468.4 383.4ZM468.4 383.4L469.4 383.4L469.8 382.8L468.8 382.8ZM473.3 376.2L474.3 376.2L476.3 373.3L475.3 373.3ZM475.3 373.3L476.3 373.3L479.1 369.2L478.1 369.2ZM482.6 362.6L483.6 362.6L486.4 358.4L485.4 358.4ZM490 351.8L491 351.8L491 351.7L490 351.7ZM490 351.7L491 351.7L493.8 347.7L492.8 347.7ZM494 346L495 346L497.8 341.9L496.8 341.9ZM501.3 335.3L502.3 335.3L503.1 334.1L502.1 334.1ZM502.1 334.1L503.1 334.1L505.2 331.1L504.2 331.1ZM508.7 324.6L509.7 324.6L511.8 321.5L510.8 321.5ZM510.8 321.5L511.8 321.5L512.5 320.4L511.5 320.4ZM515.3 315L516.3 315L519.1 310.9L518.1 310.9ZM522.7 304.3L523.7 304.3L525.7 301.4L524.7 301.4ZM524.7 301.4L525.7 301.4L526.5 300.2L525.5 300.2ZM530.1 293.6L531.1 293.6L533.9 289.5L532.9 289.5ZM537.5 283L538.5 283L541 279.3L540 279.3ZM540 279.3L541 279.3L543.9 275.2L542.9 275.2ZM547.5 268.6L548.5 268.6L551.3 264.5L550.3 264.5ZM554.9 257.9L555.9 257.9L558.1 254.8L557.1 254.8ZM557.1 254.8L558.1 254.8L558.8 253.8L557.8 253.8ZM562.4 247.3L563.4 247.3L564.2 246.1L563.2 246.1ZM563.2 246.1L564.2 246.1L566.2 243.2L565.2 243.2ZM569.6 237L570.6 237L573.4 232.9L572.4 232.9ZM577 226.3L578 226.3L580.9 222.3L579.9 222.3ZM584.5 215.7L585.5 215.7L588.4 211.6L587.4 211.6ZM592 205.1L593 205.1L595.9 201L594.9 201ZM599.5 194.5L600.5 194.5L603.4 190.4L602.4 190.4ZM606 185.2L607 185.2L609.9 181.2L608.9 181.2ZM613.5 174.6L614.5 174.6L615.4 173.3L614.4 173.3ZM614.4 173.3L615.4 173.3L617.4 170.6L616.4 170.6ZM621.1 164L622.1 164L624.4 160.8L623.4 160.8ZM623.4 160.8L624.4 160.8L625 160L624 160ZM628.6 153.4L629.6 153.4L632.5 149.4L631.5 149.4ZM636.1 142.9L637.1 142.9L640 138.8L639 138.8ZM643.7 132.3L644.7 132.3L647.6 128.2L646.6 128.2ZM651.3 121.7L652.3 121.7L654.5 118.5L653.5 118.5ZM367.8 569.8L368.8 569.8L370.2 567.6L369.2 567.6ZM369.2 567.6L370.2 567.6L371.5 565.6L370.5 565.6ZM374.8 558.8L375.8 558.8L376 558.5L375 558.5ZM375 558.5L376 558.5L377.5 556.1L376.5 556.1ZM376.5 556.1L377.5 556.1L378.7 554.3L377.7 554.3ZM382 547.5L383 547.5L383.7 546.6L382.7 546.6ZM382.7 546.6L383.7 546.6L385.2 544.1L384.2 544.1ZM384.2 544.1L385.2 544.1L386.4 542.4L385.4 542.4ZM389.7 535.6L390.7 535.6L391.7 534L390.7 534ZM390.7 534L391.7 534L393.4 531.4L392.4 531.4ZM392.4 531.4L393.4 531.4L394.5 529.8L393.5 529.8ZM397.8 523.1L398.8 523.1L400.3 520.8L399.3 520.8ZM399.3 520.8L400.3 520.8L402.1 518L401.1 518ZM401.1 518L402.1 518L403 516.6L402 516.6ZM406.4 509.9L407.4 509.9L407.6 509.6L406.6 509.6ZM406.6 509.6L407.6 509.6L409.5 506.7L408.5 506.7ZM408.5 506.7L409.5 506.7L411.3 503.8L410.3 503.8ZM410.3 503.8L411.3 503.8L412.2 502.5L411.2 502.5ZM415.5 495.8L416.5 495.8L417.2 494.8L416.2 494.8ZM416.2 494.8L417.2 494.8L419.2 491.8L418.2 491.8ZM418.2 491.8L419.2 491.8L421.2 488.6L420.2 488.6ZM420.2 488.6L421.2 488.6L421.9 487.6L420.9 487.6ZM425.3 480.9L426.3 480.9L427.5 479L426.5 479ZM426.5 479L427.5 479L429.1 476.7L428.1 476.7ZM428.7 475.8L429.7 475.8L431.9 472.4L430.9 472.4ZM430.9 472.4L431.9 472.4L432.4 471.6L431.4 471.6ZM435.8 464.9L436.8 464.9L438.6 462.1L437.6 462.1ZM437.6 462.1L438.6 462.1L439.6 460.7L438.6 460.7ZM440 458.6L441 458.6L443.3 455L442.3 455ZM442.3 455L443.3 455L443.7 454.4L442.7 454.4ZM447.1 447.7L448.1 447.7L448.2 447.6L447.2 447.6ZM447.2 447.6L448.2 447.6L450.7 443.8L449.7 443.8ZM449.7 443.8L450.7 443.8L450.9 443.5L449.9 443.5ZM452.2 440L453.2 440L455.8 436.1L454.8 436.1ZM454.8 436.1L455.8 436.1L456 435.8L455 435.8ZM459.4 429.2L460.4 429.2L461.1 428.1L460.1 428.1ZM460.1 428.1L461.1 428.1L463.2 425L462.2 425ZM465.6 419.8L466.6 419.8L469.4 415.7L468.4 415.7ZM472.8 409L473.8 409L475.3 406.8L474.3 406.8ZM474.3 406.8L475.3 406.8L476.6 404.8L475.6 404.8ZM480 398.2L481 398.2L481.3 397.7L480.3 397.7ZM480.3 397.7L481.3 397.7L484.1 393.6L483.1 393.6ZM487.6 386.9L488.6 386.9L490.9 383.4L489.9 383.4ZM489.9 383.4L490.9 383.4L491.3 382.8L490.3 382.8ZM494.8 376.1L495.8 376.1L497.7 373.3L496.7 373.3ZM496.7 373.3L497.7 373.3L500.5 369.1L499.5 369.1ZM504 362.5L505 362.5L507.8 358.4L506.8 358.4ZM511.2 351.7L512.2 351.7L512.3 351.7L511.3 351.7ZM511.3 351.7L512.3 351.7L515 347.6L514 347.6ZM515.1 346L516.1 346L518.9 341.8L517.9 341.8ZM522.4 335.2L523.4 335.2L524.2 334.1L523.2 334.1ZM523.2 334.1L524.2 334.1L526.2 331.1L525.2 331.1ZM529.7 324.5L530.7 324.5L532.7 321.5L531.7 321.5ZM531.7 321.5L532.7 321.5L533.5 320.3L532.5 320.3ZM536.1 315L537.1 315L539.9 310.9L538.9 310.9ZM543.5 304.3L544.5 304.3L546.4 301.4L545.4 301.4ZM545.4 301.4L546.4 301.4L547.3 300.1L546.3 300.1ZM550.8 293.5L551.8 293.5L554.6 289.4L553.6 289.4ZM558.1 282.8L559.1 282.8L561.6 279.3L560.6 279.3ZM560.6 279.3L561.6 279.3L564.4 275.1L563.4 275.1ZM567.9 268.6L568.9 268.6L571.8 264.4L570.8 264.4ZM575.3 257.8L576.3 257.8L578.4 254.8L577.4 254.8ZM577.4 254.8L578.4 254.8L579.1 253.7L578.1 253.7ZM582.7 247.1L583.7 247.1L584.4 246.1L583.4 246.1ZM583.4 246.1L584.4 246.1L586.5 243L585.5 243ZM589.7 237L590.7 237L593.5 232.9L592.5 232.9ZM597.1 226.3L598.1 226.3L600.9 222.2L599.9 222.2ZM604.5 215.6L605.5 215.6L608.4 211.5L607.4 211.5ZM611.9 205L612.9 205L615.8 200.8L614.8 200.8ZM619.4 194.3L620.4 194.3L623.2 190.2L622.2 190.2ZM625.7 185.2L626.7 185.2L629.6 181.1L628.6 181.1ZM633.1 174.6L634.1 174.6L635 173.3L634 173.3ZM634 173.3L635 173.3L637 170.5L636 170.5ZM640.6 163.9L641.6 163.9L643.8 160.8L642.8 160.8ZM642.8 160.8L643.8 160.8L644.5 159.9L643.5 159.9ZM648.1 153.3L649.1 153.3L652 149.2L651 149.2ZM655.6 142.7L656.6 142.7L659.4 138.6L658.4 138.6ZM663.1 132.1L664.1 132.1L666.9 128L665.9 128ZM670.6 121.4L671.6 121.4L673.6 118.5L672.6 118.5ZM386.5 569.8L387.5 569.8L388.9 567.6L387.9 567.6ZM387.9 567.6L388.9 567.6L390.2 565.6L389.2 565.6ZM393.5 558.8L394.5 558.8L394.7 558.5L393.7 558.5ZM393.7 558.5L394.7 558.5L396.1 556.1L395.1 556.1ZM395.1 556.1L396.1 556.1L397.3 554.2L396.3 554.2ZM400.6 547.5L401.6 547.5L402.2 546.6L401.2 546.6ZM401.2 546.6L402.2 546.6L403.8 544.1L402.8 544.1ZM402.8 544.1L403.8 544.1L404.9 542.4L403.9 542.4ZM408.2 535.6L409.2 535.6L410.2 534L409.2 534ZM409.2 534L410.2 534L411.8 531.4L410.8 531.4ZM410.8 531.4L411.8 531.4L412.9 529.8L411.9 529.8ZM416.2 523.1L417.2 523.1L418.6 520.8L417.6 520.8ZM417.6 520.8L418.6 520.8L420.4 518L419.4 518ZM419.4 518L420.4 518L421.3 516.6L420.3 516.6ZM424.6 509.8L425.6 509.8L425.8 509.6L424.8 509.6ZM424.8 509.6L425.8 509.6L427.6 506.7L426.6 506.7ZM426.6 506.7L427.6 506.7L429.5 503.8L428.5 503.8ZM428.5 503.8L429.5 503.8L430.3 502.5L429.3 502.5ZM433.7 495.8L434.7 495.8L435.3 494.8L434.3 494.8ZM434.3 494.8L435.3 494.8L437.3 491.8L436.3 491.8ZM436.3 491.8L437.3 491.8L439.3 488.6L438.3 488.6ZM438.3 488.6L439.3 488.6L440 487.6L439 487.6ZM443.3 480.8L444.3 480.8L445.5 479L444.5 479ZM444.5 479L445.5 479L447 476.6L446 476.6ZM446.6 475.8L447.6 475.8L449.7 472.4L448.7 472.4ZM448.7 472.4L449.7 472.4L450.3 471.6L449.3 471.6ZM453.7 464.8L454.7 464.8L456.4 462.1L455.4 462.1ZM455.4 462.1L456.4 462.1L457.4 460.7L456.4 460.7ZM457.7 458.6L458.7 458.6L461.1 455L460.1 455ZM460.1 455L461.1 455L461.5 454.4L460.5 454.4ZM464.8 447.7L465.8 447.7L465.9 447.6L464.9 447.6ZM464.9 447.6L465.9 447.6L468.3 443.8L467.3 443.8ZM467.3 443.8L468.3 443.8L468.6 443.5L467.6 443.5ZM469.8 440L470.8 440L473.4 436.1L472.4 436.1ZM472.4 436.1L473.4 436.1L473.6 435.8L472.6 435.8ZM476.9 429.1L477.9 429.1L478.6 428.1L477.6 428.1ZM477.6 428.1L478.6 428.1L480.7 424.9L479.7 424.9ZM483 419.8L484 419.8L486.8 415.7L485.8 415.7ZM490.2 409L491.2 409L492.6 406.8L491.6 406.8ZM491.6 406.8L492.6 406.8L493.9 404.8L492.9 404.8ZM497.3 398.1L498.3 398.1L498.6 397.7L497.6 397.7ZM497.6 397.7L498.6 397.7L501.3 393.6L500.3 393.6ZM504.8 386.9L505.8 386.9L508.1 383.4L507.1 383.4ZM507.1 383.4L508.1 383.4L508.5 382.7L507.5 382.7ZM511.9 376L512.9 376L514.8 373.3L513.8 373.3ZM513.8 373.3L514.8 373.3L517.5 369.1L516.5 369.1ZM521 362.5L522 362.5L524.7 358.3L523.7 358.3ZM528.2 351.7L529.2 351.7L531.9 347.5L530.9 347.5ZM532 346L533 346L535.7 341.8L534.7 341.8ZM539.2 335.2L540.2 335.2L540.9 334.1L539.9 334.1ZM539.9 334.1L540.9 334.1L543 331L542 331ZM546.4 324.4L547.4 324.4L549.3 321.5L548.3 321.5ZM548.3 321.5L549.3 321.5L550.2 320.2L549.2 320.2ZM552.7 315L553.7 315L556.5 310.9L555.5 310.9ZM560 304.2L561 304.2L562.9 301.4L561.9 301.4ZM561.9 301.4L562.9 301.4L563.8 300.1L562.8 300.1ZM567.3 293.5L568.3 293.5L571.1 289.3L570.1 289.3ZM574.6 282.7L575.6 282.7L577.9 279.3L576.9 279.3ZM576.9 279.3L577.9 279.3L580.7 275.1L579.7 275.1ZM584.2 268.5L585.2 268.5L588 264.4L587 264.4ZM591.5 257.8L592.5 257.8L594.5 254.8L593.5 254.8ZM593.5 254.8L594.5 254.8L595.3 253.6L594.3 253.6ZM598.8 247L599.8 247L600.5 246.1L599.5 246.1ZM599.5 246.1L600.5 246.1L602.7 242.9L601.7 242.9ZM605.7 237L606.7 237L609.5 232.9L608.5 232.9ZM613.1 226.3L614.1 226.3L616.9 222.1L615.9 222.1ZM620.4 215.6L621.4 215.6L624.3 211.4L623.3 211.4ZM627.8 204.8L628.8 204.8L631.6 200.7L630.6 200.7ZM635.2 194.1L636.2 194.1L639 190L638 190ZM641.3 185.2L642.3 185.2L645.2 181.1L644.2 181.1ZM648.7 174.6L649.7 174.6L650.6 173.3L649.6 173.3ZM649.6 173.3L650.6 173.3L652.6 170.4L651.6 170.4ZM656.1 163.9L657.1 163.9L659.3 160.8L658.3 160.8ZM658.3 160.8L659.3 160.8L660 159.8L659 159.8ZM663.6 153.2L664.6 153.2L667.4 149.1L666.4 149.1ZM671 142.5L672 142.5L674.9 138.4L673.9 138.4ZM678.5 131.9L679.5 131.9L682.3 127.8L681.3 127.8ZM685.9 121.2L686.9 121.2L688.8 118.5L687.8 118.5ZM421.7 569.8L422.7 569.8L424.1 567.6L423.1 567.6ZM423.1 567.6L424.1 567.6L425.4 565.5L424.4 565.5ZM428.5 558.7L429.5 558.7L429.7 558.5L428.7 558.5ZM428.7 558.5L429.7 558.5L431.1 556.1L430.1 556.1ZM430.1 556.1L431.1 556.1L432.3 554.2L431.3 554.2ZM435.5 547.4L436.5 547.4L437 546.6L436 546.6ZM436 546.6L437 546.6L438.5 544.1L437.5 544.1ZM437.5 544.1L438.5 544.1L439.6 542.3L438.6 542.3ZM442.9 535.5L443.9 535.5L444.8 534L443.8 534ZM443.8 534L444.8 534L446.4 531.4L445.4 531.4ZM445.4 531.4L446.4 531.4L447.4 529.8L446.4 529.8ZM450.6 523L451.6 523L453 520.8L452 520.8ZM452 520.8L453 520.8L454.7 518L453.7 518ZM453.7 518L454.7 518L455.6 516.5L454.6 516.5ZM458.9 509.7L459.9 509.7L460 509.6L459 509.6ZM459 509.6L460 509.6L461.8 506.7L460.8 506.7ZM460.8 506.7L461.8 506.7L463.6 503.8L462.6 503.8ZM462.6 503.8L463.6 503.8L464.4 502.5L463.4 502.5ZM467.7 495.7L468.7 495.7L469.2 494.8L468.2 494.8ZM468.2 494.8L469.2 494.8L471.1 491.8L470.1 491.8ZM470.1 491.8L471.1 491.8L473.1 488.6L472.1 488.6ZM472.1 488.6L473.1 488.6L473.8 487.5L472.8 487.5ZM477.1 480.8L478.1 480.8L479.1 479L478.1 479ZM478.1 479L479.1 479L480.7 476.5L479.7 476.5ZM480.2 475.8L481.2 475.8L483.3 472.4L482.3 472.4ZM482.3 472.4L483.3 472.4L483.9 471.5L482.9 471.5ZM487.1 464.8L488.1 464.8L489.8 462.1L488.8 462.1ZM488.8 462.1L489.8 462.1L490.8 460.5L489.8 460.5ZM491.1 458.6L492.1 458.6L494.3 455L493.3 455ZM493.3 455L494.3 455L494.7 454.3L493.7 454.3ZM498 447.6L499 447.6L501.4 443.8L500.4 443.8ZM500.4 443.8L501.4 443.8L501.7 443.4L500.7 443.4ZM502.9 440L503.9 440L506.3 436.1L505.3 436.1ZM505.3 436.1L506.3 436.1L506.5 435.8L505.5 435.8ZM509.9 429L510.9 429L511.4 428.1L510.4 428.1ZM510.4 428.1L511.4 428.1L513.5 424.8L512.5 424.8ZM515.7 419.8L516.7 419.8L519.4 415.6L518.4 415.6ZM522.8 408.9L523.8 408.9L525.1 406.8L524.1 406.8ZM524.1 406.8L525.1 406.8L526.5 404.7L525.5 404.7ZM529.8 398L530.8 398L531 397.7L530 397.7ZM530 397.7L531 397.7L533.7 393.5L532.7 393.5ZM537 386.8L538 386.8L540.2 383.4L539.2 383.4ZM539.2 383.4L540.2 383.4L540.7 382.6L539.7 382.6ZM544.1 375.9L545.1 375.9L546.8 373.3L545.8 373.3ZM545.8 373.3L546.8 373.3L549.5 369.1L548.5 369.1ZM552.8 362.4L553.8 362.4L556.6 358.2L555.6 358.2ZM559.9 351.5L560.9 351.5L563.7 347.3L562.7 347.3ZM563.5 346L564.5 346L567.3 341.8L566.3 341.8ZM570.6 335.1L571.6 335.1L572.3 334.1L571.3 334.1ZM571.3 334.1L572.3 334.1L574.4 330.9L573.4 330.9ZM577.8 324.2L578.8 324.2L580.5 321.5L579.5 321.5ZM579.5 321.5L580.5 321.5L581.5 320.1L580.5 320.1ZM583.8 315L584.8 315L587.6 310.8L586.6 310.8ZM591 304.2L592 304.2L593.8 301.4L592.8 301.4ZM592.8 301.4L593.8 301.4L594.8 300L593.8 300ZM598.2 293.3L599.2 293.3L601.9 289.1L600.9 289.1ZM605.3 282.5L606.3 282.5L608.5 279.3L607.5 279.3ZM607.5 279.3L608.5 279.3L611.2 275.1L610.2 275.1ZM614.7 268.4L615.7 268.4L618.5 264.3L617.5 264.3ZM621.9 257.6L622.9 257.6L624.8 254.8L623.8 254.8ZM623.8 254.8L624.8 254.8L625.7 253.5L624.7 253.5ZM629.1 246.8L630.1 246.8L630.6 246.1L629.6 246.1ZM629.6 246.1L630.6 246.1L632.9 242.7L631.9 242.7ZM635.7 237L636.7 237L639.5 232.8L638.5 232.8ZM643 226.2L644 226.2L646.7 222L645.7 222ZM650.2 215.4L651.2 215.4L654 211.3L653 211.3ZM657.5 204.6L658.5 204.6L661.3 200.5L660.3 200.5ZM664.8 193.9L665.8 193.9L668.6 189.7L667.6 189.7ZM447.7 569.8L448.7 569.8L450 567.6L449 567.6ZM449 567.6L450 567.6L451.2 565.5L450.2 565.5ZM454.4 558.6L455.4 558.6L455.5 558.5L454.5 558.5ZM454.5 558.5L455.5 558.5L456.9 556.1L455.9 556.1ZM455.9 556.1L456.9 556.1L458 554.2L457 554.2ZM461.2 547.3L462.2 547.3L462.6 546.6L461.6 546.6ZM461.6 546.6L462.6 546.6L464.1 544.1L463.1 544.1ZM463.1 544.1L464.1 544.1L465.2 542.3L464.2 542.3ZM468.4 535.5L469.4 535.5L470.2 534L469.2 534ZM469.2 534L470.2 534L471.8 531.4L470.8 531.4ZM470.8 531.4L471.8 531.4L472.8 529.8L471.8 529.8ZM476 522.9L477 522.9L478.3 520.8L477.3 520.8ZM477.3 520.8L478.3 520.8L479.9 518L478.9 518ZM478.9 518L479.9 518L480.9 516.5L479.9 516.5ZM484 509.7L485 509.7L485.1 509.6L484.1 509.6ZM484.1 509.6L485.1 509.6L486.9 506.7L485.9 506.7ZM485.9 506.7L486.9 506.7L488.6 503.8L487.6 503.8ZM487.6 503.8L488.6 503.8L489.5 502.5L488.5 502.5ZM492.7 495.6L493.7 495.6L494.2 494.8L493.2 494.8ZM493.2 494.8L494.2 494.8L496 491.8L495 491.8ZM495 491.8L496 491.8L498 488.6L497 488.6ZM497 488.6L498 488.6L498.7 487.5L497.7 487.5ZM501.9 480.7L502.9 480.7L503.9 479L502.9 479ZM502.9 479L503.9 479L505.5 476.4L504.5 476.4ZM504.9 475.8L505.9 475.8L508 472.4L507 472.4ZM507 472.4L508 472.4L508.5 471.5L507.5 471.5ZM511.8 464.7L512.8 464.7L514.4 462.1L513.4 462.1ZM513.4 462.1L514.4 462.1L515.4 460.5L514.4 460.5ZM515.6 458.6L516.6 458.6L518.8 455L517.8 455ZM517.8 455L518.8 455L519.2 454.3L518.2 454.3ZM522.4 447.5L523.4 447.5L525.7 443.8L524.7 443.8ZM524.7 443.8L525.7 443.8L526.1 443.3L525.1 443.3ZM527.1 440L528.1 440L530.6 436.1L529.6 436.1ZM529.6 436.1L530.6 436.1L530.8 435.8L529.8 435.8ZM534 429L535 429L535.6 428.1L534.6 428.1ZM534.6 428.1L535.6 428.1L537.7 424.8L536.7 424.8ZM539.8 419.8L540.8 419.8L543.4 415.6L542.4 415.6ZM546.7 408.8L547.7 408.8L549 406.8L548 406.8ZM548 406.8L549 406.8L550.4 404.6L549.4 404.6ZM553.7 397.8L554.7 397.8L554.7 397.7L553.7 397.7ZM553.7 397.7L554.7 397.7L557.4 393.5L556.4 393.5ZM560.7 386.7L561.7 386.7L563.8 383.4L562.8 383.4ZM562.8 383.4L563.8 383.4L564.4 382.5L563.4 382.5ZM567.7 375.8L568.7 375.8L570.2 373.3L569.2 373.3ZM569.2 373.3L570.2 373.3L572.9 369.1L571.9 369.1ZM576.2 362.3L577.2 362.3L579.9 358.1L578.9 358.1ZM583.2 351.4L584.2 351.4L586.9 347.2L585.9 347.2ZM586.7 346L587.7 346L590.4 341.8L589.4 341.8ZM593.7 335L594.7 335L595.4 334.1L594.4 334.1ZM594.4 334.1L595.4 334.1L597.4 330.8L596.4 330.8ZM600.8 324.1L601.8 324.1L603.4 321.5L602.4 321.5ZM602.4 321.5L603.4 321.5L604.5 319.9L603.5 319.9ZM606.7 315L607.7 315L610.4 310.8L609.4 310.8ZM613.7 304.1L614.7 304.1L616.5 301.4L615.5 301.4ZM615.5 301.4L616.5 301.4L617.5 299.9L616.5 299.9ZM620.8 293.2L621.8 293.2L624.6 289L623.6 289ZM627.9 282.3L628.9 282.3L630.9 279.3L629.9 279.3ZM629.9 279.3L630.9 279.3L633.7 275.1L632.7 275.1ZM637 268.4L638 268.4L640.8 264.2L639.8 264.2ZM644.2 257.5L645.2 257.5L646.9 254.8L645.9 254.8ZM645.9 254.8L646.9 254.8L647.9 253.3L646.9 253.3ZM651.3 246.7L652.3 246.7L652.7 246.1L651.7 246.1ZM651.7 246.1L652.7 246.1L655.1 242.5L654.1 242.5ZM657.7 237L658.7 237L661.5 232.8L660.5 232.8ZM664.9 226.1L665.9 226.1L668.6 222L667.6 222ZM672.1 215.3L673.1 215.3L675.8 211.1L674.8 211.1ZM679.3 204.5L680.3 204.5L683 200.3L682 200.3ZM686.5 193.7L687.5 193.7L690.2 189.5L689.2 189.5ZM485.5 569.8L486.5 569.8L487.8 567.6L486.8 567.6ZM486.8 567.6L487.8 567.6L489 565.5L488 565.5ZM492 558.5L493 558.5L493.1 558.5L492.1 558.5ZM492.1 558.5L493.1 558.5L494.4 556.1L493.4 556.1ZM493.4 556.1L494.4 556.1L495.6 554.1L494.6 554.1ZM498.6 547.2L499.6 547.2L500 546.6L499 546.6ZM499 546.6L500 546.6L501.4 544.1L500.4 544.1ZM500.4 544.1L501.4 544.1L502.5 542.3L501.5 542.3ZM505.6 535.4L506.6 535.4L507.4 534L506.4 534ZM506.4 534L507.4 534L508.9 531.4L507.9 531.4ZM507.9 531.4L508.9 531.4L509.9 529.7L508.9 529.7ZM512.9 522.8L513.9 522.8L515.2 520.8L514.2 520.8ZM514.2 520.8L515.2 520.8L516.8 518L515.8 518ZM515.8 518L516.8 518L517.7 516.5L516.7 516.5ZM520.8 509.6L521.8 509.6L523.5 506.7L522.5 506.7ZM522.5 506.7L523.5 506.7L525.2 503.8L524.2 503.8ZM524.2 503.8L525.2 503.8L526 502.4L525 502.4ZM529.1 495.5L530.1 495.5L530.6 494.8L529.6 494.8ZM529.6 494.8L530.6 494.8L532.4 491.8L531.4 491.8ZM531.4 491.8L532.4 491.8L534.2 488.6L533.2 488.6ZM533.2 488.6L534.2 488.6L534.9 487.5L533.9 487.5ZM538.1 480.6L539.1 480.6L540 479L539 479ZM539 479L540 479L541.6 476.3L540.6 476.3ZM541 475.8L542 475.8L544 472.4L543 472.4ZM543 472.4L544 472.4L544.5 471.5L543.5 471.5ZM547.6 464.6L548.6 464.6L550.2 462.1L549.2 462.1ZM549.2 462.1L550.2 462.1L551.2 460.3L550.2 460.3ZM551.3 458.6L552.3 458.6L554.5 455L553.5 455ZM553.5 455L554.5 455L554.9 454.3L553.9 454.3ZM558 447.4L559 447.4L561.2 443.8L560.2 443.8ZM560.2 443.8L561.2 443.8L561.6 443.2L560.6 443.2ZM562.5 440L563.5 440L565.9 436.1L564.9 436.1ZM564.9 436.1L565.9 436.1L566.1 435.7L565.1 435.7ZM569.3 428.9L570.3 428.9L570.8 428.1L569.8 428.1ZM569.8 428.1L570.8 428.1L572.9 424.6L571.9 424.6ZM574.8 419.8L575.8 419.8L578.4 415.6L577.4 415.6ZM577.4 415.6L578.4 415.6L578.4 415.6L577.4 415.6ZM581.6 408.7L582.6 408.7L583.8 406.8L582.8 406.8ZM582.8 406.8L583.8 406.8L585.2 404.5L584.2 404.5ZM588.4 397.7L589.4 397.7L592 393.5L591 393.5ZM595.2 386.7L596.2 386.7L598.2 383.4L597.2 383.4ZM597.2 383.4L598.2 383.4L598.8 382.4L597.8 382.4ZM602 375.6L603 375.6L604.5 373.3L603.5 373.3ZM603.5 373.3L604.5 373.3L607.1 369L606.1 369ZM610.3 362.3L611.3 362.3L614 358L613 358ZM617.2 351.2L618.2 351.2L620.9 347L619.9 347ZM620.5 346L621.5 346L624.1 341.7L623.1 341.7ZM627.4 335L628.4 335L628.9 334.1L627.9 334.1ZM627.9 334.1L628.9 334.1L631 330.7L630 330.7ZM634.3 324L635.3 324L636.8 321.5L635.8 321.5ZM635.8 321.5L636.8 321.5L638 319.7L637 319.7ZM639.9 315L640.9 315L643.6 310.8L642.6 310.8ZM646.9 304L647.9 304L649.6 301.4L648.6 301.4ZM648.6 301.4L649.6 301.4L650.6 299.8L649.6 299.8ZM653.8 293L654.8 293L657.5 288.8L656.5 288.8ZM660.8 282.1L661.8 282.1L663.6 279.3L662.6 279.3ZM662.6 279.3L663.6 279.3L666.3 275.1L665.3 275.1ZM669.6 268.3L670.6 268.3L673.3 264.1L672.3 264.1ZM676.6 257.4L677.6 257.4L679.2 254.8L678.2 254.8ZM678.2 254.8L679.2 254.8L680.3 253.2L679.3 253.2ZM683.6 246.4L684.6 246.4L684.9 246.1L683.9 246.1ZM683.9 246.1L684.9 246.1L687.3 242.2L686.3 242.2ZM513.3 569.8L514.3 569.8L515.5 567.6L514.5 567.6ZM514.5 567.6L515.5 567.6L516.7 565.4L515.7 565.4ZM519.7 558.5L520.7 558.5L520.7 558.5L519.7 558.5ZM519.7 558.5L520.7 558.5L522 556.1L521 556.1ZM521 556.1L522 556.1L523.1 554.1L522.1 554.1ZM526.1 547.2L527.1 547.2L527.4 546.6L526.4 546.6ZM526.4 546.6L527.4 546.6L528.8 544.1L527.8 544.1ZM527.8 544.1L528.8 544.1L529.9 542.2L528.9 542.2ZM532.9 535.3L533.9 535.3L534.6 534L533.6 534ZM533.6 534L534.6 534L536.1 531.4L535.1 531.4ZM535.1 531.4L536.1 531.4L537.1 529.7L536.1 529.7ZM540.1 522.8L541.1 522.8L542.2 520.8L541.2 520.8ZM541.2 520.8L542.2 520.8L543.8 518L542.8 518ZM542.8 518L543.8 518L544.7 516.4L543.7 516.4ZM547.7 509.5L548.7 509.5L550.3 506.7L549.3 506.7ZM549.3 506.7L550.3 506.7L552 503.8L551 503.8ZM551 503.8L552 503.8L552.8 502.4L551.8 502.4ZM555.9 495.5L556.9 495.5L557.2 494.8L556.2 494.8ZM556.2 494.8L557.2 494.8L559 491.8L558 491.8ZM558 491.8L559 491.8L560.8 488.6L559.8 488.6ZM559.8 488.6L560.8 488.6L561.5 487.4L560.5 487.4ZM564.6 480.5L565.6 480.5L566.4 479L565.4 479ZM565.4 479L566.4 479L568.1 476.2L567.1 476.2ZM567.4 475.8L568.4 475.8L570.3 472.4L569.3 472.4ZM569.3 472.4L570.3 472.4L570.9 471.4L569.9 471.4ZM574 464.5L575 464.5L576.4 462.1L575.4 462.1ZM575.4 462.1L576.4 462.1L577.5 460.2L576.5 460.2ZM577.5 458.6L578.5 458.6L580.6 455L579.6 455ZM579.6 455L580.6 455L581 454.3L580 454.3ZM584.1 447.4L585.1 447.4L587.2 443.8L586.2 443.8ZM586.2 443.8L587.2 443.8L587.6 443.1L586.6 443.1ZM588.5 440L589.5 440L591.8 436.1L590.8 436.1ZM590.8 436.1L591.8 436.1L592 435.7L591 435.7ZM595.1 428.8L596.1 428.8L596.5 428.1L595.5 428.1ZM595.5 428.1L596.5 428.1L598.7 424.5L597.7 424.5ZM600.5 419.8L601.5 419.8L604 415.6L603 415.6ZM603 415.6L604 415.6L604 415.5L603 415.5ZM607.2 408.7L608.2 408.7L609.3 406.8L608.3 406.8ZM608.3 406.8L609.3 406.8L610.7 404.4L609.7 404.4ZM613.7 397.7L614.7 397.7L617.3 393.4L616.3 393.4ZM620.5 386.6L621.5 386.6L623.4 383.4L622.4 383.4ZM622.4 383.4L623.4 383.4L624.1 382.3L623.1 382.3ZM627.2 375.5L628.2 375.5L629.5 373.3L628.5 373.3ZM628.5 373.3L629.5 373.3L632.1 369L631.1 369ZM635.3 362.2L636.3 362.2L638.9 357.9L637.9 357.9ZM642.1 351.1L643.1 351.1L645.7 346.8L644.7 346.8ZM645.2 346L646.2 346L648.8 341.7L647.8 341.7ZM652 334.9L653 334.9L653.5 334.1L652.5 334.1ZM652.5 334.1L653.5 334.1L655.6 330.6L654.6 330.6ZM658.8 323.8L659.8 323.8L661.2 321.5L660.2 321.5ZM660.2 321.5L661.2 321.5L662.4 319.6L661.4 319.6ZM664.3 315L665.3 315L667.9 310.8L666.9 310.8ZM671.1 304L672.1 304L673.7 301.4L672.7 301.4ZM672.7 301.4L673.7 301.4L674.8 299.7L673.8 299.7ZM678 292.9L679 292.9L681.6 288.7L680.6 288.7ZM684.9 281.9L685.9 281.9L687.5 279.3L686.5 279.3ZM535.3 569.8L536.3 569.8L537.5 567.6L536.5 567.6ZM536.5 567.6L537.5 567.6L538.7 565.4L537.7 565.4ZM541.6 558.5L542.6 558.5L543.9 556.1L542.9 556.1ZM542.9 556.1L543.9 556.1L545 554.1L544 554.1ZM547.9 547.1L548.9 547.1L549.2 546.6L548.2 546.6ZM548.2 546.6L549.2 546.6L550.6 544.1L549.6 544.1ZM549.6 544.1L550.6 544.1L551.6 542.2L550.6 542.2ZM554.5 535.2L555.5 535.2L556.2 534L555.2 534ZM555.2 534L556.2 534L557.7 531.4L556.7 531.4ZM556.7 531.4L557.7 531.4L558.7 529.7L557.7 529.7ZM561.6 522.7L562.6 522.7L563.7 520.8L562.7 520.8ZM562.7 520.8L563.7 520.8L565.2 518L564.2 518ZM564.2 518L565.2 518L566.1 516.4L565.1 516.4ZM569.1 509.5L570.1 509.5L571.6 506.7L570.6 506.7ZM570.6 506.7L571.6 506.7L573.3 503.8L572.3 503.8ZM572.3 503.8L573.3 503.8L574.1 502.4L573.1 502.4ZM577.1 495.4L578.1 495.4L578.4 494.8L577.4 494.8ZM577.4 494.8L578.4 494.8L580.2 491.8L579.2 491.8ZM579.2 491.8L580.2 491.8L581.9 488.6L580.9 488.6ZM580.9 488.6L581.9 488.6L582.6 487.4L581.6 487.4ZM585.6 480.5L586.6 480.5L587.4 479L586.4 479ZM586.4 479L587.4 479L589.1 476.1L588.1 476.1ZM588.3 475.8L589.3 475.8L591.2 472.4L590.2 472.4ZM590.2 472.4L591.2 472.4L591.8 471.4L590.8 471.4ZM594.8 464.5L595.8 464.5L597.2 462.1L596.2 462.1ZM596.2 462.1L597.2 462.1L598.3 460.2L597.3 460.2ZM598.2 458.6L599.2 458.6L601.3 455L600.3 455ZM600.3 455L601.3 455L601.7 454.2L600.7 454.2ZM604.8 447.3L605.8 447.3L607.8 443.8L606.8 443.8ZM606.8 443.8L607.8 443.8L608.3 443L607.3 443ZM609 440L610 440L612.3 436.1L611.3 436.1ZM611.3 436.1L612.3 436.1L612.5 435.7L611.5 435.7ZM615.6 428.8L616.6 428.8L617 428.1L616 428.1ZM616 428.1L617 428.1L619.1 424.5L618.1 424.5ZM620.8 419.8L621.8 419.8L624.3 415.6L623.3 415.6ZM623.3 415.6L624.3 415.6L624.4 415.5L623.4 415.5ZM627.4 408.6L628.4 408.6L629.5 406.8L628.5 406.8ZM628.5 406.8L629.5 406.8L631 404.3L630 404.3ZM633.9 397.7L634.9 397.7L637.4 393.4L636.4 393.4ZM640.5 386.5L641.5 386.5L643.4 383.4L642.4 383.4ZM642.4 383.4L643.4 383.4L644 382.3L643 382.3ZM647.1 375.4L648.1 375.4L649.4 373.3L648.4 373.3ZM648.4 373.3L649.4 373.3L652 369L651 369ZM655.1 362.1L656.1 362.1L658.6 357.9L657.6 357.9ZM661.8 351L662.8 351L665.3 346.7L664.3 346.7ZM664.8 346L665.8 346L668.4 341.7L667.4 341.7ZM671.5 334.9L672.5 334.9L673 334.1L672 334.1ZM672 334.1L673 334.1L675.1 330.6L674.1 330.6ZM678.2 323.7L679.2 323.7L680.6 321.5L679.6 321.5ZM679.6 321.5L680.6 321.5L681.8 319.5L680.8 319.5ZM553.6 569.8L554.6 569.8L555.8 567.6L554.8 567.6ZM554.8 567.6L555.8 567.6L557 565.4L556 565.4ZM559.8 558.5L560.8 558.5L562 556.1L561 556.1ZM561 556.1L562 556.1L563.2 554.1L562.2 554.1ZM566 547.1L567 547.1L567.3 546.6L566.3 546.6ZM566.3 546.6L567.3 546.6L568.6 544.1L567.6 544.1ZM567.6 544.1L568.6 544.1L569.7 542.2L568.7 542.2ZM572.5 535.2L573.5 535.2L574.2 534L573.2 534ZM573.2 534L574.2 534L575.6 531.4L574.6 531.4ZM574.6 531.4L575.6 531.4L576.6 529.7L575.6 529.7ZM579.5 522.7L580.5 522.7L581.5 520.8L580.5 520.8ZM580.5 520.8L581.5 520.8L583 518L582 518ZM582 518L583 518L583.9 516.4L582.9 516.4ZM586.8 509.4L587.8 509.4L589.3 506.7L588.3 506.7ZM588.3 506.7L589.3 506.7L591 503.8L590 503.8ZM590 503.8L591 503.8L591.8 502.4L590.8 502.4ZM594.7 495.4L595.7 495.4L596 494.8L595 494.8ZM595 494.8L596 494.8L597.7 491.8L596.7 491.8ZM596.7 491.8L597.7 491.8L599.5 488.6L598.5 488.6ZM598.5 488.6L599.5 488.6L600.2 487.4L599.2 487.4ZM603.1 480.4L604.1 480.4L604.9 479L603.9 479ZM603.9 479L604.9 479L606.5 476.1L605.5 476.1ZM605.7 475.8L606.7 475.8L608.6 472.4L607.6 472.4ZM607.6 472.4L608.6 472.4L609.2 471.4L608.2 471.4ZM612.1 464.4L613.1 464.4L614.5 462.1L613.5 462.1ZM613.5 462.1L614.5 462.1L615.6 460.1L614.6 460.1ZM615.5 458.6L616.5 458.6L618.5 455L617.5 455ZM617.5 455L618.5 455L619 454.2L618 454.2ZM621.9 447.3L622.9 447.3L624.9 443.8L623.9 443.8ZM623.9 443.8L624.9 443.8L625.4 442.9L624.4 442.9ZM626.1 440L627.1 440L629.3 436.1L628.3 436.1ZM628.3 436.1L629.3 436.1L629.6 435.7L628.6 435.7ZM632.6 428.7L633.6 428.7L633.9 428.1L632.9 428.1ZM632.9 428.1L633.9 428.1L636.1 424.4L635.1 424.4ZM637.7 419.8L638.7 419.8L641.2 415.6L640.2 415.6ZM640.2 415.6L641.2 415.6L641.2 415.5L640.2 415.5ZM644.2 408.6L645.2 408.6L646.3 406.8L645.3 406.8ZM645.3 406.8L646.3 406.8L647.8 404.3L646.8 404.3ZM650.6 397.7L651.6 397.7L654.1 393.4L653.1 393.4ZM657.1 386.5L658.1 386.5L659.9 383.4L658.9 383.4ZM658.9 383.4L659.9 383.4L660.6 382.2L659.6 382.2ZM663.7 375.3L664.7 375.3L665.9 373.3L664.9 373.3ZM664.9 373.3L665.9 373.3L668.4 369L667.4 369ZM671.5 362.1L672.5 362.1L675 357.8L674 357.8ZM678.1 350.9L679.1 350.9L681.7 346.6L680.7 346.6ZM569.3 569.8L570.3 569.8L571.5 567.6L570.5 567.6ZM570.5 567.6L571.5 567.6L572.6 565.4L571.6 565.4ZM575.4 558.5L576.4 558.5L577.6 556.1L576.6 556.1ZM576.6 556.1L577.6 556.1L578.7 554.1L577.7 554.1ZM581.5 547L582.5 547L582.8 546.6L581.8 546.6ZM581.8 546.6L582.8 546.6L584.1 544.1L583.1 544.1ZM583.1 544.1L584.1 544.1L585.1 542.2L584.1 542.2ZM587.9 535.1L588.9 535.1L589.5 534L588.5 534ZM588.5 534L589.5 534L591 531.4L590 531.4ZM590 531.4L591 531.4L591.9 529.6L590.9 529.6ZM594.8 522.6L595.8 522.6L596.8 520.8L595.8 520.8ZM595.8 520.8L596.8 520.8L598.3 518L597.3 518ZM597.3 518L598.3 518L599.2 516.4L598.2 516.4ZM602 509.4L603 509.4L604.5 506.7L603.5 506.7ZM603.5 506.7L604.5 506.7L606.1 503.8L605.1 503.8ZM605.1 503.8L606.1 503.8L606.9 502.3L605.9 502.3ZM609.8 495.3L610.8 495.3L611 494.8L610 494.8ZM610 494.8L611 494.8L612.7 491.8L611.7 491.8ZM611.7 491.8L612.7 491.8L614.5 488.6L613.5 488.6ZM613.5 488.6L614.5 488.6L615.2 487.4L614.2 487.4ZM618 480.4L619 480.4L619.8 479L618.8 479ZM618.8 479L619.8 479L621.5 476L620.5 476ZM620.6 475.8L621.6 475.8L623.5 472.4L622.5 472.4ZM622.5 472.4L623.5 472.4L624.1 471.4L623.1 471.4ZM627 464.4L628 464.4L629.3 462.1L628.3 462.1ZM628.3 462.1L629.3 462.1L630.4 460L629.4 460ZM630.2 458.6L631.2 458.6L633.3 455L632.3 455ZM632.3 455L633.3 455L633.7 454.2L632.7 454.2ZM636.6 447.2L637.6 447.2L639.5 443.8L638.5 443.8ZM638.5 443.8L639.5 443.8L640.1 442.9L639.1 442.9ZM640.7 440L641.7 440L643.9 436.1L642.9 436.1ZM642.9 436.1L643.9 436.1L644.2 435.7L643.2 435.7ZM647.1 428.7L648.1 428.7L648.5 428.1L647.5 428.1ZM647.5 428.1L648.5 428.1L650.6 424.4L649.6 424.4ZM652.2 419.8L653.2 419.8L655.6 415.6L654.6 415.6ZM654.6 415.6L655.6 415.6L655.7 415.5L654.7 415.5ZM658.6 408.5L659.6 408.5L660.6 406.8L659.6 406.8ZM659.6 406.8L660.6 406.8L662.1 404.2L661.1 404.2ZM664.8 397.7L665.8 397.7L668.3 393.4L667.3 393.4ZM671.3 386.5L672.3 386.5L674.1 383.4L673.1 383.4ZM673.1 383.4L674.1 383.4L674.8 382.1L673.8 382.1ZM677.9 375.2L678.9 375.2L680 373.3L679 373.3ZM583 569.8L584 569.8L585.2 567.6L584.2 567.6ZM584.2 567.6L585.2 567.6L586.3 565.4L585.3 565.4ZM589 558.5L590 558.5L591.2 556.1L590.2 556.1ZM590.2 556.1L591.2 556.1L592.3 554.1L591.3 554.1ZM595.1 547L596.1 547L596.3 546.6L595.3 546.6ZM595.3 546.6L596.3 546.6L597.6 544.1L596.6 544.1ZM596.6 544.1L597.6 544.1L598.7 542.2L597.7 542.2ZM601.4 535.1L602.4 535.1L603 534L602 534ZM602 534L603 534L604.4 531.4L603.4 531.4ZM603.4 531.4L604.4 531.4L605.4 529.6L604.4 529.6ZM608.2 522.6L609.2 522.6L610.1 520.8L609.1 520.8ZM609.1 520.8L610.1 520.8L611.6 518L610.6 518ZM610.6 518L611.6 518L612.5 516.4L611.5 516.4ZM615.3 509.3L616.3 509.3L617.7 506.7L616.7 506.7ZM616.7 506.7L617.7 506.7L619.3 503.8L618.3 503.8ZM618.3 503.8L619.3 503.8L620.1 502.3L619.1 502.3ZM622.9 495.3L623.9 495.3L624.2 494.8L623.2 494.8ZM623.2 494.8L624.2 494.8L625.9 491.8L624.9 491.8ZM624.9 491.8L625.9 491.8L627.6 488.6L626.6 488.6ZM626.6 488.6L627.6 488.6L628.3 487.4L627.3 487.4ZM631.1 480.4L632.1 480.4L632.8 479L631.8 479ZM631.8 479L632.8 479L634.5 476L633.5 476ZM633.7 475.8L634.7 475.8L636.5 472.4L635.5 472.4ZM635.5 472.4L636.5 472.4L637.1 471.4L636.1 471.4ZM639.9 464.4L640.9 464.4L642.2 462.1L641.2 462.1ZM641.2 462.1L642.2 462.1L643.4 460L642.4 460ZM643.1 458.6L644.1 458.6L646.1 455L645.1 455ZM645.1 455L646.1 455L646.6 454.2L645.6 454.2ZM649.5 447.2L650.5 447.2L652.3 443.8L651.3 443.8ZM651.3 443.8L652.3 443.8L652.9 442.8L651.9 442.8ZM653.5 440L654.5 440L656.7 436.1L655.7 436.1ZM655.7 436.1L656.7 436.1L656.9 435.6L655.9 435.6ZM659.8 428.7L660.8 428.7L661.1 428.1L660.1 428.1ZM660.1 428.1L661.1 428.1L663.3 424.3L662.3 424.3ZM664.8 419.8L665.8 419.8L668.2 415.6L667.2 415.6ZM667.2 415.6L668.2 415.6L668.3 415.5L667.3 415.5ZM671.2 408.5L672.2 408.5L673.2 406.8L672.2 406.8ZM672.2 406.8L673.2 406.8L674.7 404.2L673.7 404.2Z" fill="#504414"/></g>
<polyline points="459,24 427,56 377,160 364,184 363.6,188 365,192 300,264 294,269 293.6,280 286,300 289.6,312 289.6,346 287,358 284,364.6 251.5,401.8 297.7,454 265,475 250,515 335,527 324,531 308,538 307,559 315,562" fill="none" stroke="#004000" stroke-width="2" stroke-linejoin="round"/><polyline points="349.5,558.5 357,562" fill="none" stroke="#B00000" stroke-width="2" /><polyline points="561,24 530,56 437,185 436.5,190 438,192 342,268 339,272 336,280 328,301 332,314 344,344 356,366 360.7,388 368.6,415 381,451 381,456 379,474 370,520 366,527 331,538" fill="none" stroke="#B00000" stroke-width="2" stroke-linejoin="round"/><polyline points="352.4,562.1 351.3,561 349,558.7 346.7,556.3 344.4,554 342.1,551.6 339.8,549.2 337.4,546.8 335.1,544.4 332.7,541.9 330.3,539.4 327.9,536.9 325.6,534.3 323.2,531.7 321.5,529.9" fill="none" stroke="#0000C0" stroke-width="2.1" stroke-linejoin="round"/><polyline points="321.5,529.9 320.6,528.3 319.1,525.7 317.5,523 315.9,520.3 314.3,517.5 312.7,514.8 311,511.9 309.3,509.1 307.6,506.2 305.8,503.3 304,500.4 302.1,497.4 300.2,494.3 298.3,491.3 296.4,488.1 294.4,485 292.3,481.8 290.3,478.5 288.2,475.3 286.1,471.9 283.9,468.5 281.7,465.1 279.5,461.6 277.2,458.1 274.9,454.5 272.5,450.8 270.2,447.1 267.7,443.3 265.3,439.5 262.8,435.6 260.3,431.6 257.7,427.6 255.2,423.5 252.5,419.3 249.9,415.1 247.2,410.7 244.5,406.3 241.7,401.8 238.9,397.2 236.1,392.5 233.3,387.8 230.4,382.9 227.5,377.9 224.5,372.8 221.5,367.6 218.5,362.3 215.5,356.8 212.4,351.2 209.3,345.5 206.2,339.6 203,333.6 199.8,327.4 196.6,321 193.4,314.5 190.1,307.8 186.9,300.9 183.6,293.7 180.3,286.4 177,278.8 173.6,270.9 170.3,262.8 166.9,254.3 163.5,245.6 160.2,236.5 156.8,227 153.5,217.2 150.2,206.8 146.9,196.1 143.6,184.7 140.4,172.8 137.3,160.3 134.2,147.1 131.3,133 128.5,118 125.8,102 123.3,84.8 121.2,66.3 121.2,66.3" fill="none" stroke="#0000C0" stroke-width="1.9" stroke-linejoin="round"/>
<rect x="60.5" y="24.5" width="599" height="545" fill="none" stroke="#0000C8" stroke-width="1"/>
<path d="M654.5 24L654.5 25L664.5 25L664.5 24ZM659 19.5L660 19.5L660 29.5L659 29.5ZM659.5 24L659.5 25L628 10L628 9ZM627.5 9.5L628.5 9.5L630.5 -5L629.5 -5ZM631.5 10.5L632.5 10.5L634.5 -5L633.5 -5ZM635.5 11.5L636.5 11.5L638.5 -5L637.5 -5ZM654.5 118L654.5 119L664.5 119L664.5 118ZM659 113.5L660 113.5L660 123.5L659 123.5ZM659.5 118L659.5 119L630 97.5L630 96.5ZM629.5 97L630.5 97L638.5 80L637.5 80ZM633.5 99L634.5 99L641.5 83L640.5 83ZM637.5 101L638.5 101L642.5 93L641.5 93ZM654.5 185L654.5 186L664.5 186L664.5 185ZM659 180.5L660 180.5L660 190.5L659 190.5ZM659 185.5L660 185.5L634.5 159L633.5 159ZM633.5 159L634.5 159L645.5 143L644.5 143ZM637 161.5L638 161.5L643.5 153L642.5 153ZM640.5 164L641.5 164L645.5 157L644.5 157ZM654.5 236L654.5 237L664.5 237L664.5 236ZM659 231.5L660 231.5L660 241.5L659 241.5ZM659.5 236L659.5 237L687 218.5L687 217.5ZM686.5 218L687.5 218L693.5 224L692.5 224ZM654.5 270L654.5 271L664.5 271L664.5 270ZM659 265.5L660 265.5L660 275.5L659 275.5ZM654 270L654 271L696 271L696 270ZM695.5 270.5L696.5 270.5L699.5 286L698.5 286ZM691.5 271L692.5 271L696.5 289L695.5 289ZM654.5 279L654.5 280L664.5 280L664.5 279ZM659 274.5L660 274.5L660 284.5L659 284.5ZM659.5 279L659.5 280L690 277L690 276ZM689.5 276.5L690.5 276.5L695.5 288L694.5 288ZM654.5 345L654.5 346L664.5 346L664.5 345ZM659 340.5L660 340.5L660 350.5L659 350.5ZM659 345.5L660 345.5L680.5 317L679.5 317ZM680 316.5L680 317.5L687 324L687 323ZM654.5 397L654.5 398L664.5 398L664.5 397ZM659 392.5L660 392.5L660 402.5L659 402.5ZM659.5 397L659.5 398L695 394.5L695 393.5ZM694.5 394L695.5 394L698.5 404L697.5 404ZM654.5 475L654.5 476L664.5 476L664.5 475ZM659 470.5L660 470.5L660 480.5L659 480.5ZM659.5 475L659.5 476L695 472.9L695 471.9ZM694.5 472.4L695.5 472.4L698.9 481.6L697.9 481.6ZM654.5 520L654.5 521L664.5 521L664.5 520ZM659 515.5L660 515.5L660 525.5L659 525.5ZM659.5 520L659.5 521L695 512.1L695 511.1ZM694.5 511.6L695.5 511.6L698.9 519L697.9 519ZM654.5 540L654.5 541L664.5 541L664.5 540ZM659 535.5L660 535.5L660 545.5L659 545.5ZM659.5 540L659.5 541L690 523.5L690 522.5ZM689.5 523L690.5 523L694.1 531L693.1 531ZM654.5 562L654.5 563L664.5 563L664.5 562ZM659 557.5L660 557.5L660 567.5L659 567.5ZM659 562.5L660 562.5L672.5 530L671.5 530ZM672 529.5L672 530.5L680 534.9L680 533.9Z" fill="#000"/>
<text x="699" y="34.5" class="rt">WMO:28695</text><text x="699" y="49.3" class="rt">TP:289</text><text x="699" y="64" class="rt">FRZ: BG</text><text x="699" y="78.8" class="rt">WB0: BG</text><text x="699" y="93.5" class="rt">PW:0.18</text><text x="699" y="108.3" class="rt">RH:32.0</text><text x="699" y="123.1" class="rt">MAXT:6.2</text><text x="699" y="137.8" class="rt">TH:5253</text><text x="699" y="152.6" class="rt">L57:6.3</text><text x="699" y="167.3" class="rt">LCL:914</text><text x="699" y="182.1" class="rt">LI:20.4</text><text x="699" y="196.9" class="rt">SI:14.2</text><text x="699" y="211.6" class="rt">TT:29</text><text x="699" y="226.4" class="rt">KI:-19</text><text x="699" y="241.1" class="rt">SW:31</text><text x="699" y="255.9" class="rt">EI:3.7</text><text x="699" y="270.7" class="rt">-PARCEL-</text><text x="699" y="285.4" class="rt">CAPE:2</text><text x="699" y="300.2" class="rt">CINH:90951</text><text x="699" y="314.9" class="rt">LCL:886</text><text x="699" y="329.7" class="rt">CAP:20.3</text><text x="699" y="344.5" class="rt">LFC:-1</text><text x="699" y="359.2" class="rt">-WIND-</text><text x="699" y="374" class="rt">STM:108/6</text><text x="699" y="388.7" class="rt">HEL:14</text><text x="699" y="403.5" class="rt">SHR+:0.0</text><text x="699" y="418.3" class="rt">SRDS:92</text><text x="699" y="433" class="rt">EHI:0.0</text><text x="699" y="447.8" class="rt">BRN:0.4</text><text x="699" y="462.5" class="rt">BSHR:4</text><text x="66" y="20.5" class="rt">US695 (28695) Sounding</text><text x="562" y="21" class="rt">1200Z 12 OCT 25</text><text transform="translate(56.2 583.6) scale(1.1 1)" class="bl" style="font-size:17.6px">50</text><text transform="translate(116.6 583.6) scale(1.1 1)" class="bl" style="font-size:17.6px">40</text><text transform="translate(176.3 583.6) scale(1.1 1)" class="bl" style="font-size:17.6px">30</text><text transform="translate(236 583.6) scale(1.1 1)" class="bl" style="font-size:17.6px">20</text><text transform="translate(297.9 583.6) scale(0.9 1)" class="bl" style="font-size:17.6px">10</text><text transform="translate(362 583.6) scale(1.2 1)" class="bl" style="font-size:17.6px">0</text><text transform="translate(414.9 583.6) scale(0.9 1)" class="bl" style="font-size:17.6px">10</text><text transform="translate(472.8 583.6) scale(1.1 1)" class="bl" style="font-size:17.6px">20</text><text transform="translate(533 583.6) scale(1.1 1)" class="bl" style="font-size:17.6px">30</text><text transform="translate(592 583.6) scale(1.2 1)" class="bl" style="font-size:17.6px">40</text><text transform="translate(653.9 583.6) scale(0.9 1)" class="bl" style="font-size:17.6px">C</text><rect x="43" y="578" width="12" height="1" fill="#0000C0"/><rect x="104" y="578" width="10.5" height="1" fill="#0000C0"/><rect x="164" y="578" width="10.8" height="1" fill="#0000C0"/><rect x="224" y="578" width="10.7" height="1" fill="#0000C0"/><rect x="286" y="578" width="11.8" height="1" fill="#0000C0"/><text transform="translate(33 583.6) scale(0.8 1)" class="bl" style="font-size:17.6px">mb</text><text transform="translate(103.9 595.6) scale(0.8 1)" class="ml" style="font-size:17.2px">0.1</text><text transform="translate(142.3 595.6) scale(1.1 1)" class="ml" style="font-size:17.2px">0.2</text><text transform="translate(213 595.6) scale(1 1)" class="ml" style="font-size:17.2px">0.6</text><text transform="translate(251.5 595.6) scale(0.8 1)" class="ml" style="font-size:17.2px">1.0</text><text transform="translate(300.4 595.6) scale(1 1)" class="ml" style="font-size:17.2px">2.0</text><text transform="translate(331.3 595.6) scale(1.1 1)" class="ml" style="font-size:17.2px">3.0</text><text transform="translate(374 595.6) scale(1.1 1)" class="ml" style="font-size:17.2px">5.0</text><text transform="translate(432.8 595.6) scale(0.9 1)" class="ml" style="font-size:17.2px">10.0</text><text transform="translate(495 595.6) scale(1.1 1)" class="ml" style="font-size:17.2px">20.0</text><text transform="translate(565.6 595.6) scale(1.1 1)" class="ml" style="font-size:17.2px">40.0</text><text transform="translate(639.6 595.6) scale(1.3 1)" class="ml" style="font-size:17.2px">g/kg</text><text x="66.9" y="29.5" class="hl">16640</text><text x="112.7" y="29.5" class="hl">m</text><text x="66.9" y="123.5" class="hl">13460</text><text x="112.7" y="123.5" class="hl">m</text><text x="66.9" y="190.5" class="hl">11600</text><text x="111.6" y="190.5" class="hl">m</text><text x="66.9" y="241.5" class="hl">10150</text><text x="112.7" y="241.5" class="hl">m</text><text x="67.4" y="284.5" class="hl">8970</text><text x="105.1" y="284.5" class="hl">m</text><text x="67.3" y="320.5" class="hl">7965</text><text x="104.9" y="320.5" class="hl">m</text><text x="67.3" y="350.5" class="hl">7070</text><text x="105" y="350.5" class="hl">m</text><text x="67.3" y="378.5" class="hl">6248</text><text x="104.9" y="378.5" class="hl">m</text><text x="67.4" y="402.5" class="hl">5500</text><text x="105.1" y="402.5" class="hl">m</text><text x="67.7" y="424.5" class="hl">4803</text><text x="105.3" y="424.5" class="hl">m</text><text x="67.7" y="445.5" class="hl">4163</text><text x="105.3" y="445.5" class="hl">m</text><text x="67.4" y="463.5" class="hl">3571</text><text x="105" y="463.5" class="hl">m</text><text x="67.4" y="480.5" class="hl">3010</text><text x="105.2" y="480.5" class="hl">m</text><text x="67.3" y="496.5" class="hl">2478</text><text x="104.9" y="496.5" class="hl">m</text><text x="66.9" y="511.5" class="hl">1980</text><text x="104.6" y="511.5" class="hl">m</text><text x="66.9" y="525.5" class="hl">1511</text><text x="103.4" y="525.5" class="hl">m</text><text x="66.9" y="539.5" class="hl">1068</text><text x="104.6" y="539.5" class="hl">m</text><text x="67.3" y="551.5" class="hl">648</text><text x="96.9" y="551.5" class="hl">m</text><text x="67.3" y="563.5" class="hl">247</text><text x="96.8" y="563.5" class="hl">m</text><text transform="translate(36.4 30.3) scale(0.8 1)" class="pl">00</text><rect x="34" y="18" width="1" height="13" fill="#0000C0"/><rect x="33" y="19" width="1" height="1" fill="#0000C0"/><rect x="32" y="20" width="1" height="2" fill="#0000C0"/><text transform="translate(27.8 191.3) scale(0.8 1)" class="pl">200</text><text transform="translate(27.8 285.3) scale(0.8 1)" class="pl">300</text><text transform="translate(27.8 351.3) scale(0.8 1)" class="pl">400</text><text transform="translate(27.8 403.3) scale(0.8 1)" class="pl">500</text><text transform="translate(27.8 446.3) scale(0.8 1)" class="pl">600</text><text transform="translate(27.8 481.3) scale(0.8 1)" class="pl">700</text><text transform="translate(27.8 512.3) scale(0.8 1)" class="pl">800</text><text transform="translate(27.8 540.3) scale(0.8 1)" class="pl">900</text><text transform="translate(27.8 564.3) scale(0.8 1)" class="pl">000</text><rect x="25" y="552" width="1" height="13" fill="#0000C0"/><rect x="24" y="553" width="1" height="1" fill="#0000C0"/><rect x="23" y="554" width="1" height="2" fill="#0000C0"/>
</svg></body></html>
